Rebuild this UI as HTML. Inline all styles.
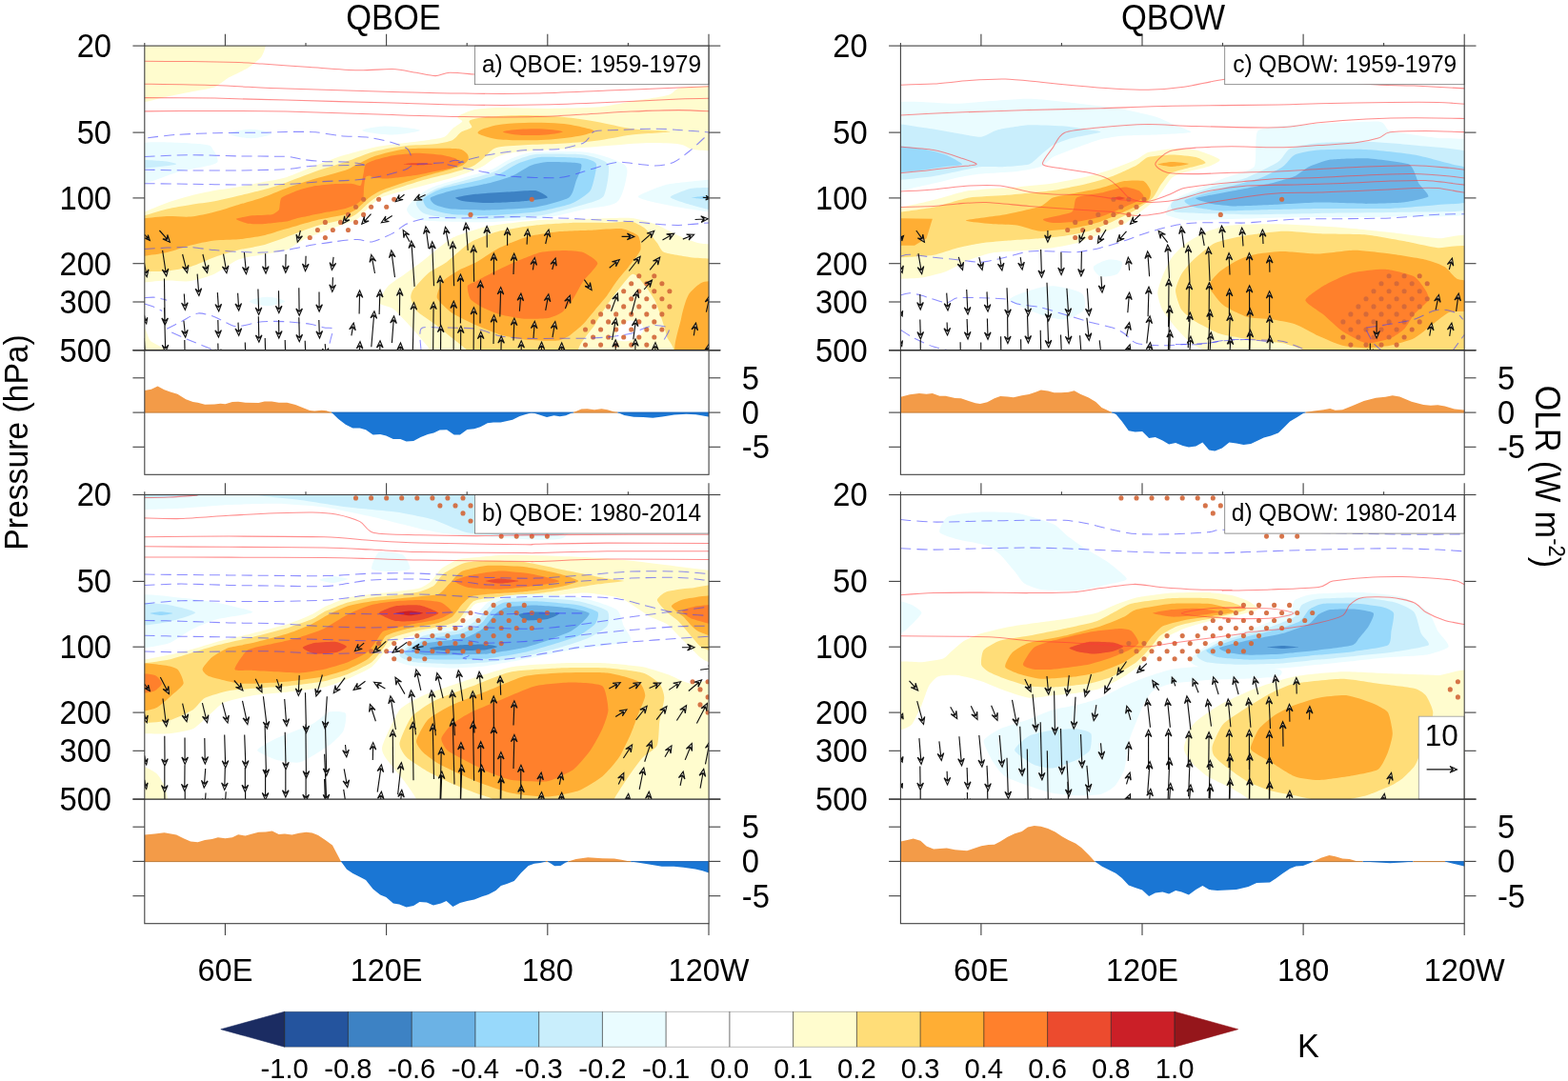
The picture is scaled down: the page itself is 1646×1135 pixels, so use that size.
<!DOCTYPE html>
<html lang="en"><head><meta charset="utf-8"><title>QBOE / QBOW composite</title>
<style>html,body{margin:0;padding:0;background:#fff}svg{display:block}</style></head>
<body>
<svg width="1646" height="1135" viewBox="0 0 1646 1135" font-family='"Liberation Sans", sans-serif' fill="#000">
<rect width="1646" height="1135" fill="#fff"/>
<defs>
<clipPath id="clipa"><rect x="151.8" y="48.1" width="592.3" height="319.6"/></clipPath>
<clipPath id="oclipa"><rect x="151.8" y="367.7" width="592.3" height="130.6"/></clipPath>
<clipPath id="clipb"><rect x="151.8" y="519.5" width="592.3" height="319.6"/></clipPath>
<clipPath id="oclipb"><rect x="151.8" y="839.1" width="592.3" height="130.6"/></clipPath>
<clipPath id="clipc"><rect x="945.4" y="48.1" width="591.8" height="319.6"/></clipPath>
<clipPath id="oclipc"><rect x="945.4" y="367.7" width="591.8" height="130.6"/></clipPath>
<clipPath id="clipd"><rect x="945.4" y="519.5" width="591.8" height="319.6"/></clipPath>
<clipPath id="oclipd"><rect x="945.4" y="839.1" width="591.8" height="130.6"/></clipPath>
</defs>
<g clip-path="url(#clipa)">
<path d="M140.2 37.5C154.1 30.5 265.2 36.5 279.1 37.5C293 38.5 279.6 45.3 279.1 47.6C278.6 49.8 276 57.7 274.1 60.1C272.2 62.5 263.7 69.2 260.3 71.3C256.9 73.5 243.8 79.3 240.3 81.3C236.8 83.4 229.3 89.9 225.3 91.4C221.3 92.9 205.2 95.4 200.2 96.4C195.2 97.4 180.1 100.3 175.2 101.4C170.4 102.4 155.2 106.5 151.7 107.1C148.2 107.8 141.3 114.6 140.2 107.6C139 100.7 126.3 44.6 140.2 37.5Z" fill="#fffcce"/>
<path d="M140.2 152.2C149.8 146.7 201.6 150.7 212.8 151.4C223.9 152.2 222 155.2 224 157.7C226.1 160.2 229.8 167.9 228.3 170.2C226.8 172.5 218.2 173.9 212.8 175.2C207.4 176.5 193.4 178.7 187.7 180.2C182.1 181.7 175 184.8 170.2 186.5C165.4 188.1 155.7 191.9 151.7 192.7C147.7 193.6 141.7 198.1 140.2 192.7C138.6 187.3 130.5 157.7 140.2 152.2Z" fill="#eafcff"/>
<path d="M140.2 168.2C144.2 167.2 164.2 168.4 170.2 169C176.2 169.5 185.2 171.4 185.2 172.2C185.2 173 174.7 174.1 170.2 174.7C165.7 175.3 155.7 176.2 151.7 176.5C147.7 176.7 141.7 177.6 140.2 176.5C138.6 175.4 136.2 169.2 140.2 168.2Z" fill="#c9eefc"/>
<path d="M240.3 140.2C240.3 138.6 255.3 135.7 262.8 135.7C270.3 135.7 285.3 138.6 285.3 140.2C285.3 141.8 270.3 145.2 262.8 145.2C255.3 145.2 240.3 141.8 240.3 140.2Z" fill="#eafcff"/>
<path d="M380.5 137.2C378.8 135.7 393 133.2 400.5 132.7C408 132.1 418.8 133.2 425.5 133.9C432.2 134.7 443 135.9 440.5 137.2C438 138.4 420.5 141.4 410.5 141.4C400.5 141.4 382.1 138.6 380.5 137.2Z" fill="#eafcff"/>
<path d="M140.2 226.5C141.7 216.6 147 224.3 151.7 222.5C156.4 220.7 168.7 215.3 175.2 213C181.7 210.7 193.6 207.2 200.2 205.5C206.9 203.8 218.6 201.2 225.3 200C231.9 198.8 243.6 197.4 250.3 196.2C257 195.1 268.7 192.6 275.3 191.2C282 189.9 292.9 188.5 300.4 186.2C307.8 183.9 323 177 331.3 173.8C339.6 170.7 354.2 165.1 362.6 162.6C370.9 160 385.5 156.1 393.9 154.4C402.2 152.7 417.6 151 425.2 150C432.7 149 444.7 147.7 450.2 146.9C455.7 146.1 463.1 145.4 466.5 143.8C469.8 142.2 472.7 137.2 475.2 135C477.7 132.8 484.5 129.2 485.2 127.5C485.9 125.9 478.9 124.3 480.6 122.6C482.3 121 492.1 116.4 498.1 115.1C504.1 113.9 515.3 113.3 525.6 113.1C536 113 562.3 114 575.7 113.9C589 113.8 614.1 113.6 625.8 112.6C637.4 111.6 653.3 108 663.3 106.4C673.3 104.7 694.2 102 700.9 100.1C707.5 98.3 707.6 93.9 713.4 92.6C719.1 91.3 738.8 90.9 744.2 90.6C749.5 90.3 752.2 81.6 753.4 90.6C754.6 99.6 754.6 149.2 753.4 158.2C752.2 167.2 747.8 158.4 744.2 158.2C740.5 158 730 157.3 725.9 156.4C721.8 155.5 720 152.3 713.4 151.4C706.7 150.6 687.5 149.8 675.8 150.2C664.1 150.5 639.1 153 625.8 153.9C612.4 154.9 587.4 156.4 575.7 157.2C564 158 545.5 159.1 538.2 160.2C530.8 161.3 524.9 163.2 520.6 165.2C516.3 167.2 510.4 172.8 506 175.1C501.6 177.4 493.5 180.6 487.7 182.6C482 184.6 471 187.8 462.7 190.1C454.4 192.4 433.5 197.8 425.2 200.1C416.8 202.4 405.1 205.3 400.1 207.6C395.1 209.9 390.9 214.6 387.6 217.6C384.3 220.6 378.4 227.8 375.1 230.1C371.8 232.5 367.6 233.3 362.6 235.1C357.6 237 343.4 241.7 337.5 243.9C331.7 246.1 323.7 248.9 318.8 251.4C313.8 253.9 306.2 260.4 300.4 262.6C294.6 264.7 282 266.2 275.3 267.6C268.7 268.9 257 269.9 250.3 272.6C243.6 275.3 231.9 284.6 225.3 287.6C218.6 290.6 206.9 294.2 200.2 295.1C193.6 296 181.7 294.4 175.2 294.6C168.7 294.8 156.4 296.1 151.7 296.4C147 296.6 141.7 305.9 140.2 296.6C138.6 287.3 138.6 236.4 140.2 226.5Z" fill="#fffcce"/>
<path d="M140.2 229C141.7 221.2 147 227.5 151.7 226.3C156.4 225 168.7 221 175.2 219.5C181.7 218 193.6 216.1 200.2 215C206.9 213.9 218.6 212.5 225.3 211.3C231.9 210 243.6 207.1 250.3 205.5C257 203.9 268.7 201.3 275.3 199.5C282 197.7 292.9 194.3 300.4 191.7C307.8 189.1 323 183 331.3 180.1C339.6 177.2 354.2 172.9 362.6 170.1C370.9 167.2 385.5 161.1 393.9 158.8C402.2 156.5 416.8 154.2 425.2 153.2C433.5 152.2 449.8 152.1 456.4 151.3C463.1 150.5 471.5 148.6 475.2 146.9C478.9 145.2 481.3 140.5 484 138.8C486.6 137 494 135.4 495.2 133.8C496.5 132.1 490.7 127.9 493.1 126.4C495.5 124.9 505.4 123.4 513.1 122.6C520.8 121.9 540.7 120.9 550.7 120.9C560.7 120.9 578.2 121.7 588.2 122.6C598.2 123.5 615.7 126 625.8 127.7C635.8 129.3 653 133.8 663.3 135.2C673.7 136.6 703.4 137.3 703.4 138.2C703.4 139 673.7 140.2 663.3 141.4C653 142.7 635.8 146.4 625.8 147.7C615.7 148.9 598.2 150.1 588.2 150.7C578.2 151.3 559.7 151.6 550.7 152.2C541.7 152.8 526.6 153.1 520.6 155.2C514.7 157.2 509.4 164.9 506 167.6C502.6 170.2 499.3 173.2 495.2 175.1C491.1 176.9 481.2 179.7 475.2 181.3C469.2 183 456.9 185.7 450.2 187.6C443.5 189.4 431.8 192.9 425.2 195.1C418.5 197.3 405.1 201.5 400.1 203.9C395.1 206.2 390.9 209.9 387.6 212.6C384.3 215.3 378.4 221.5 375.1 223.9C371.8 226.2 368.4 228.3 362.6 230.1C356.7 232 339.6 235.1 331.3 237.6C323 240.2 307.8 246.4 300.4 249.1C292.9 251.7 282 255.8 275.3 257.6C268.7 259.4 257 260.9 250.3 262.6C243.6 264.2 231.9 267.7 225.3 270.1C218.6 272.4 206.9 278.2 200.2 280.1C193.6 282 181.7 283.9 175.2 284.6C168.7 285.3 156.4 285 151.7 285.1C147 285.2 141.7 292.8 140.2 285.3C138.6 277.9 138.6 236.9 140.2 229Z" fill="#ffdd78"/>
<path d="M140.2 231.5C141.7 226.1 147 229.9 151.7 229.3C156.4 228.7 168.7 227.3 175.2 227C181.7 226.8 193.6 228.1 200.2 227.5C206.9 226.9 218.6 224.2 225.3 222.5C231.9 220.9 243.6 217 250.3 215C257 213 268.7 209.8 275.3 207.5C282 205.2 292.9 200.4 300.4 197.7C307.8 195.1 323 190.1 331.3 187.6C339.6 185.1 356.7 180.8 362.6 178.8C368.4 176.8 370.9 174.6 375.1 172.6C379.3 170.6 387.2 165.9 393.9 163.8C400.5 161.7 416.8 157.6 425.2 156.5C433.5 155.5 448.9 155.7 456.4 155.7C464 155.6 477 155.5 481.5 156.3C486 157 488.9 159.8 490.2 161.3C491.6 162.8 492.2 165.9 491.5 167.6C490.8 169.2 488.2 172.3 485.2 173.8C482.2 175.3 473.6 177.5 469 178.8C464.3 180.2 456 182.2 450.2 183.8C444.3 185.5 431.8 189.2 425.2 191.3C418.5 193.5 405.1 197.9 400.1 200.1C395.1 202.3 390.9 205.1 387.6 207.6C384.3 210.1 378.4 216.5 375.1 218.9C371.8 221.2 368.4 223.5 362.6 225.1C356.7 226.8 339.6 229.4 331.3 231.4C323 233.4 307.8 238.1 300.4 240.3C292.9 242.4 282 246.1 275.3 247.6C268.7 249 257 250.6 250.3 251.3C243.6 252 231.9 251.7 225.3 252.6C218.6 253.4 206.9 255.9 200.2 257.6C193.6 259.2 181.7 263.6 175.2 265.1C168.7 266.6 156.4 268.1 151.7 268.8C147 269.5 141.7 275.3 140.2 270.3C138.6 265.4 138.6 237 140.2 231.5Z" fill="#ffae34"/>
<path d="M502.1 138.2C504.2 136.3 512.5 133 520.6 131.4C528.7 129.9 539.4 129.2 550.7 128.9C561.9 128.6 577.8 128.8 588.2 129.7C598.6 130.5 607.4 132.5 613.2 133.9C619.1 135.3 625.3 136.5 623.3 138.2C621.2 139.8 610.7 142.4 600.7 143.9C590.7 145.4 575.7 146.8 563.2 147.2C550.7 147.6 534.8 147.2 525.6 146.4C516.5 145.7 512 144 508.1 142.7C504.2 141.3 500 140 502.1 138.2Z" fill="#ffae34"/>
<path d="M528.1 138.4C528.1 137.4 538.6 136.2 545.7 135.7C552.8 135.2 563.2 135 570.7 135.4C578.2 135.8 590.3 137.2 590.7 138.2C591.1 139.2 580.7 140.8 573.2 141.4C565.7 142 553.2 142.2 545.7 141.7C538.2 141.2 528.1 139.4 528.1 138.4Z" fill="#ff802c"/>
<path d="M247.8 230C248 229.3 259.7 226.9 262.8 226.5C265.9 226.1 282.8 225.8 285.3 225.3C287.8 224.8 292 221.7 292.9 220.3C293.7 218.8 293.7 209.4 295.4 207.8C297 206.1 309.5 201.2 312.5 200.1C315.5 199 328.2 195.7 331.3 195.1C334.4 194.5 346.9 193.4 350.1 193.2C353.2 193 366.5 192.7 368.8 192.8C371.2 193 377.3 195.3 378.2 195.1C379.2 194.9 379.8 191.3 380.1 190.1C380.4 188.8 381.7 181.5 382 180.1C382.3 178.6 382.8 173.6 383.9 172.6C384.9 171.5 392.7 168.3 395.1 167.6C397.5 166.8 409.1 163.8 412.6 163.2C416.2 162.6 433.5 160.7 437.7 160.7C441.8 160.6 459.4 162.1 462.7 162.6C466 163 475.9 165.6 477.7 166.3C479.5 167 484.2 170.5 484 171.3C483.8 172.1 477.5 175.6 475.2 176.3C472.9 177.1 459.6 179.4 456.4 180.1C453.3 180.7 440.8 183.3 437.7 183.8C434.5 184.4 421.5 186 418.9 186.3C416.3 186.6 408.5 187.5 406.4 187.6C404.3 187.6 395.4 187.2 393.9 187C392.3 186.7 388.5 184.5 387.6 184.5C386.8 184.4 384.1 185.2 383.6 186.3C383.1 187.4 382.2 195.8 382 197.6C381.8 199.4 381.9 206.3 381.4 207.6C380.8 209 376.7 212.9 375.1 213.9C373.5 214.8 365.2 218.1 362.6 218.9C360 219.6 346.9 222 343.8 222.6C340.7 223.3 327.6 225.9 325 226.4C322.4 226.9 314.6 228.4 312.5 228.9C310.4 229.4 303.1 232.1 300 232.6C296.9 233.2 278.6 235.1 275.3 235.3C272 235.5 262.6 235.2 260.3 234.8C258 234.3 247.6 230.7 247.8 230Z" fill="#ff802c"/>
<path d="M423.3 172.3C423.3 172.1 430.6 171.3 432.7 171.2C434.7 171.1 441.7 171.2 443.9 171.3C446.2 171.4 455.2 172.1 455.2 172.3C455.2 172.5 446.2 173.2 443.9 173.3C441.7 173.4 434.7 173.4 432.7 173.3C430.6 173.2 423.3 172.5 423.3 172.3Z" fill="#ec4b2e"/>
<path d="M427 220.1C427 217.1 433.4 210.7 437 207.6C440.7 204.4 447.2 199.3 454.6 196.3C461.9 193.3 483.8 187.6 492.1 185C500.4 182.5 511.5 179.9 517.1 177.5C522.8 175.2 529 169.9 534.6 167.5C540.3 165.2 548.7 161 559.7 160C570.7 159 604.6 158.4 617.2 160C629.9 161.7 649.5 168.9 654.8 172.5C660.1 176.2 658.3 182.2 657.3 187.6C656.3 192.9 653.3 208.2 647.3 212.6C641.3 216.9 622.3 217.9 612.2 220.1C602.2 222.3 585.5 227.1 572.2 228.9C558.8 230.6 526.8 232.6 512.1 233.1C497.4 233.6 472.1 233 462.1 232.6C452 232.2 441.7 231.8 437 230.1C432.4 228.4 427 223.1 427 220.1Z" fill="#eafcff"/>
<path d="M437 212.6C438.3 210.1 451.3 201.3 457.1 198.8C462.8 196.3 488.3 189.4 494.6 187.6C500.9 185.7 515.4 181.8 519.6 180C523.9 178.3 532.9 171.8 537.2 170C541.4 168.2 554.7 162.8 562.2 162C569.7 161.3 604.6 161.5 612.2 162.5C619.9 163.6 636.4 168.2 638.5 172.5C640.7 176.9 636.6 201.9 633.5 206.3C630.4 210.7 613.9 214.3 607.2 216.3C600.6 218.3 576.7 225 567.2 226.3C557.7 227.7 521.9 229.9 512.1 230.1C502.4 230.4 476.3 229.5 469.6 228.9C462.8 228.2 447.8 225.5 444.5 223.8C441.3 222.2 435.8 215.1 437 212.6Z" fill="#c9eefc"/>
<path d="M444.5 208.8C445.8 206.8 456.6 200.7 462.1 198.8C467.6 196.9 493.3 191.7 499.6 190.1C505.9 188.4 520.1 184.4 524.6 182.5C529.1 180.7 540.4 173 544.7 171.3C548.9 169.5 560.4 165.5 567.2 165C573.9 164.5 606.4 165.5 612.2 166.3C618.1 167 625.3 169.2 626 172.5C626.8 175.9 622.4 195.9 619.8 200.1C617.1 204.2 605.5 211.6 599.7 213.8C594 216.1 570.9 221.3 562.2 222.6C553.4 223.8 520.9 226.1 512.1 226.3C503.4 226.6 480.8 225.8 474.6 225.1C468.3 224.3 452.5 220.5 449.5 218.8C446.5 217.2 443.3 210.8 444.5 208.8Z" fill="#98d9fb"/>
<path d="M452 207.6C453.8 206.1 468.6 201.6 474.6 200.1C480.6 198.6 505.9 194.1 512.1 192.6C518.4 191.1 532.6 186.9 537.2 185C541.7 183.2 553.4 175.3 557.2 173.8C560.9 172.3 569.4 170.2 574.7 170C580 169.9 606.7 170 609.7 172C612.7 174 606 186.5 604.7 190.1C603.5 193.6 601.5 204.8 597.2 207.6C593 210.3 570.7 216.3 562.2 217.6C553.7 218.9 520.9 220.4 512.1 220.6C503.4 220.8 480.1 220.1 474.6 219.6C469.1 219 459.3 216.3 457.1 215.1C454.8 213.9 450.3 209.1 452 207.6Z" fill="#6bb2e5"/>
<path d="M478.3 207.6C479.6 206.8 493.7 204.4 499.6 203.8C505.5 203.2 530.9 201.7 537.2 201.3C543.4 200.9 558.4 199.4 562.2 200.1C565.9 200.7 575.9 206.5 574.7 207.6C573.4 208.7 555.9 210.8 549.7 211.3C543.4 211.9 518.4 213.1 512.1 213.1C505.9 213.1 490.5 211.9 487.1 211.3C483.7 210.8 477.1 208.3 478.3 207.6Z" fill="#3d82c4"/>
<path d="M669.8 206.3C671.1 204.4 692.4 195.6 699.8 193.8C707.3 192.1 738.9 189.3 744.2 188.8C749.4 188.3 751.6 185.4 752.4 188.8C753.2 192.2 753.2 219.2 752.4 222.6C751.6 226 748.2 223.1 744.2 222.6C740.1 222.1 718 218.6 712.4 217.6C706.7 216.6 691.6 213.7 687.3 212.6C683.1 211.5 668.6 208.2 669.8 206.3Z" fill="#eafcff"/>
<path d="M703.6 207.1C703.6 205.4 720.8 199.1 724.9 198.1C728.9 197.1 741.4 197.2 744.2 197.1C746.9 197 751.6 194.8 752.4 197.1C753.2 199.4 753.2 217.8 752.4 220.1C751.6 222.4 746.9 220.6 744.2 220.1C741.4 219.6 728.9 216.4 724.9 215.1C720.8 213.8 703.6 208.8 703.6 207.1Z" fill="#c9eefc"/>
<path d="M726.1 207.6C726.1 207.2 741.5 205.8 744.2 205.6C746.8 205.4 751.6 205.2 752.4 205.6C753.2 206 753.2 209.2 752.4 209.6C751.6 210 746.8 209.8 744.2 209.6C741.5 209.4 726.1 208 726.1 207.6Z" fill="#98d9fb"/>
<path d="M397.5 317.7C397 315.3 404.7 303.2 407.5 300.2C410.2 297.2 421.4 290.3 425 287.7C428.6 285 438.8 277.7 443.8 273.9C448.7 270.2 467.7 253.8 474.6 250.1C481.4 246.5 503.4 239.5 512.1 237.6C520.9 235.7 552.2 232.1 562.2 231.4C572.2 230.6 602.2 230.4 612.2 230.1C622.3 229.9 654.8 228.4 662.3 228.9C669.8 229.4 682.3 233.2 687.3 235.1C692.3 237 707.9 245.6 712.4 247.6C716.9 249.6 729.2 254.3 732.4 255.1C735.6 256 741.9 256.3 744.2 256.4C746.4 256.5 753.8 244.7 754.9 256.4C756 268 785 361.1 754.9 372.8C724.9 384.4 485 373.5 454.6 372.8C424.1 372 451.7 367.5 450 365.3C448.3 363 440 353.1 437.5 350.3C435 347.4 427.5 339.1 425 336.5C422.5 333.9 415.3 325.8 412.5 324C409.7 322.1 398 320.1 397.5 317.7Z" fill="#fffcce"/>
<path d="M431.3 312.7C430.9 310.5 431.9 306.6 433.8 303.9C435.7 301.3 446.5 289.3 450 286.4C453.6 283.5 464.4 278.4 468.8 275.2C473.3 271.9 489 257.1 494.6 253.9C500.2 250.6 517.9 244.4 524.6 242.6C531.4 240.9 554.7 237.2 562.2 236.4C569.7 235.5 592.2 234.1 599.7 233.9C607.2 233.6 631 234 637.3 233.9C643.5 233.7 658.3 232 662.3 232.6C666.3 233.2 674.6 237.9 677.3 240.1C680.1 242.4 687.8 252.6 689.8 255.1C691.8 257.6 693.8 263.6 697.3 265.1C700.9 266.6 720.2 269.5 724.9 270.2C729.6 270.8 741.1 271.3 744.2 271.4C747.2 271.5 753.8 261.3 754.9 271.4C756 281.5 781.2 362.6 754.9 372.8C728.6 382.9 518.6 373.3 492.1 372.8C465.6 372.3 491.8 369.3 490.1 367.5C488.4 365.8 478.5 358 475.1 355.3C471.7 352.5 460.1 343.1 456.3 340.2C452.5 337.4 440 329.2 437.5 326.5C435 323.7 431.6 315 431.3 312.7Z" fill="#ffdd78"/>
<path d="M458.8 312.7C457.8 309.3 462.8 298.1 465.1 295.2C467.3 292.3 477.8 285.9 481.3 283.9C484.8 281.9 495.8 277.5 500.1 275.2C504.4 272.8 519.4 262.8 524.6 260.1C529.8 257.5 545.9 250.6 552.2 248.9C558.4 247.2 580 243.9 587.2 243.1C594.5 242.4 618.3 241.7 624.8 241.4C631.3 241.1 647.8 239.5 652.3 240.1C656.8 240.7 667.8 245.4 669.8 247.6C671.8 249.9 673.3 259.4 672.3 262.6C671.3 265.9 662.3 276.9 659.8 280.2C657.3 283.4 649.5 292.2 647.3 295.2C645 298.2 639.5 307.2 637.3 310.2C635 313.2 627.3 322.2 624.8 325.2C622.3 328.2 615 337.5 612.2 340.2C609.5 343 599.7 351.1 597.2 352.8C594.7 354.5 589.4 356.8 587.2 357.3C585 357.8 578.9 357.8 575.2 357.8C571.5 357.7 555.2 357.1 550.2 356.5C545.2 355.9 530.1 353 525.1 351.5C520.1 350 505.1 343.7 500.1 341.5C495.1 339.2 479.2 331.9 475.1 329C470.9 326.1 459.8 316.1 458.8 312.7Z" fill="#ffae34"/>
<path d="M490.8 300.2C491.5 298.3 497.3 296.7 500.1 295.2C502.9 293.7 515.1 287 518.9 285.2C522.6 283.3 532.8 278.4 537.7 276.4C542.5 274.4 561.7 266.5 567.2 265.1C572.6 263.8 587.7 263.1 592.2 263.1C596.7 263.1 608.7 263.8 612.2 265.1C615.7 266.5 627.3 273.4 627.3 276.4C627.3 279.4 614.7 291.6 612.2 295.2C609.7 298.8 604.4 309.5 602.2 312.7C600 316 592.9 325.6 590.2 327.7C587.5 329.9 579.2 333.3 575.2 334C571.2 334.7 555.2 335.1 550.2 334.7C545.2 334.4 529.5 331.4 525.1 330.2C520.8 329 509.5 324.3 506.4 322.7C503.2 321.1 495.4 316.2 493.8 314C492.3 311.7 490.2 302.1 490.8 300.2Z" fill="#ff802c"/>
<path d="M609.7 372.8C599.4 368.4 621.1 347.2 624.8 340.2C628.4 333.2 633.6 325.6 637.3 320.2C640.9 314.9 648.6 304.5 652.3 300.2C656 295.9 661.5 287.7 664.8 287.7C668.1 287.7 674.3 296.5 677.3 300.2C680.3 303.9 685 310.5 687.3 315.2C689.7 319.9 693.2 330.2 694.8 335.2C696.5 340.2 698.8 347.7 699.8 352.8C700.9 357.8 714.4 370.1 702.4 372.8C690.3 375.4 620.1 377.1 609.7 372.8Z" fill="#fffcce"/>
<path d="M646 355.8C645 353.8 648 345.8 649.8 343.2C651.6 340.7 656.8 337.3 659.8 336.7C662.8 336.2 670.2 337.5 672.3 339C674.4 340.5 676 345.6 675.3 347.7C674.7 349.9 669.7 353.9 667.3 355.3C664.9 356.7 660.1 358.2 657.3 358.3C654.5 358.3 647 357.8 646 355.8Z" fill="#fff"/>
<path d="M709.9 372.8C704.5 367.8 713.2 343.6 714.9 335.2C716.5 326.9 719.7 315.2 722.4 310.2C725 305.2 732 299.7 734.9 297.7C737.8 295.7 741.5 295.5 744.2 295.2C746.8 294.8 753.5 284.8 754.9 295.2C756.4 305.5 760.9 362.4 754.9 372.8C748.9 383.1 715.2 377.8 709.9 372.8Z" fill="#ffae34"/>
<path d="M140.2 344C141.3 341.1 149.9 342.6 151.7 344C153.4 345.4 155.6 355.5 157.7 357.8C159.8 360 171.2 365 172.7 366.5C174.2 368 176 372.2 172.7 372.8C169.5 373.4 143.4 375.7 140.2 372.8C136.9 369.9 139 346.9 140.2 344Z" fill="#fffcce"/>
<path d="M261.6 316.5C261.6 314.9 274.1 311.7 280.3 311.7C286.6 311.7 299.1 314.9 299.1 316.5C299.1 318 286.6 321.2 280.3 321.2C274.1 321.2 261.6 318 261.6 316.5Z" fill="#eafcff"/>
<g fill="#d2683b" fill-opacity="0.92"><circle cx="325.3" cy="249.5" r="2.55"/><circle cx="341.4" cy="249.5" r="2.55"/><circle cx="333.4" cy="241.5" r="2.55"/><circle cx="349.4" cy="241.5" r="2.55"/><circle cx="365.5" cy="241.5" r="2.55"/><circle cx="341.4" cy="233.4" r="2.55"/><circle cx="357.5" cy="233.4" r="2.55"/><circle cx="373.5" cy="233.4" r="2.55"/><circle cx="365.5" cy="225.4" r="2.55"/><circle cx="381.6" cy="225.4" r="2.55"/><circle cx="373.5" cy="217.3" r="2.55"/><circle cx="389.6" cy="217.3" r="2.55"/><circle cx="405.7" cy="217.3" r="2.55"/><circle cx="381.6" cy="209.3" r="2.55"/><circle cx="397.6" cy="209.3" r="2.55"/><circle cx="413.7" cy="209.3" r="2.55"/><circle cx="558.3" cy="209.3" r="2.55"/><circle cx="494" cy="225.4" r="2.55"/><circle cx="670.8" cy="289.7" r="2.55"/><circle cx="686.8" cy="289.7" r="2.55"/><circle cx="662.7" cy="297.7" r="2.55"/><circle cx="678.8" cy="297.7" r="2.55"/><circle cx="694.9" cy="297.7" r="2.55"/><circle cx="654.7" cy="305.8" r="2.55"/><circle cx="670.8" cy="305.8" r="2.55"/><circle cx="686.8" cy="305.8" r="2.55"/><circle cx="702.9" cy="305.8" r="2.55"/><circle cx="662.7" cy="313.8" r="2.55"/><circle cx="678.8" cy="313.8" r="2.55"/><circle cx="694.9" cy="313.8" r="2.55"/><circle cx="638.6" cy="321.9" r="2.55"/><circle cx="654.7" cy="321.9" r="2.55"/><circle cx="670.8" cy="321.9" r="2.55"/><circle cx="686.8" cy="321.9" r="2.55"/><circle cx="702.9" cy="321.9" r="2.55"/><circle cx="630.6" cy="329.9" r="2.55"/><circle cx="646.7" cy="329.9" r="2.55"/><circle cx="662.7" cy="329.9" r="2.55"/><circle cx="678.8" cy="329.9" r="2.55"/><circle cx="694.9" cy="329.9" r="2.55"/><circle cx="622.6" cy="337.9" r="2.55"/><circle cx="638.6" cy="337.9" r="2.55"/><circle cx="654.7" cy="337.9" r="2.55"/><circle cx="670.8" cy="337.9" r="2.55"/><circle cx="686.8" cy="337.9" r="2.55"/><circle cx="614.5" cy="346" r="2.55"/><circle cx="630.6" cy="346" r="2.55"/><circle cx="646.7" cy="346" r="2.55"/><circle cx="662.7" cy="346" r="2.55"/><circle cx="678.8" cy="346" r="2.55"/><circle cx="694.9" cy="346" r="2.55"/><circle cx="622.6" cy="354" r="2.55"/><circle cx="638.6" cy="354" r="2.55"/><circle cx="654.7" cy="354" r="2.55"/><circle cx="670.8" cy="354" r="2.55"/><circle cx="686.8" cy="354" r="2.55"/><circle cx="614.5" cy="362.1" r="2.55"/><circle cx="630.6" cy="362.1" r="2.55"/><circle cx="646.7" cy="362.1" r="2.55"/><circle cx="662.7" cy="362.1" r="2.55"/><circle cx="678.8" cy="362.1" r="2.55"/></g>
<path d="M145.2 64.3C152.5 64.4 186.2 64.4 200.2 64.6C214.3 64.7 240.3 65.2 250.3 65.6C260.3 65.9 265.3 66.4 275.3 67.1C285.3 67.7 312 69.7 325.4 70.6C338.7 71.5 363.9 73.6 375.5 73.8C387 74.1 403.8 72.3 412 72.6C420.2 72.9 431 75.4 437 76.3C443 77.3 452.4 79.6 457.1 79.6C461.7 79.6 466.6 76.5 472.1 76.3C477.6 76.1 494.9 77.9 498.4 78.1" fill="none" stroke="#ff3a3a" stroke-width="1.05" stroke-opacity="0.58"/>
<path d="M145.2 88.1C155.9 88.3 204.6 88.9 225.3 89.6C246 90.3 275.5 92.2 300.4 93.1C325.3 94 387.1 95.7 412 96.4C436.9 97 467.1 97.9 487.1 98.1C507.1 98.4 542.2 98.5 562.2 98.1C582.2 97.7 617.2 95.9 637.3 95.1C657.3 94.3 697.3 92.7 712.4 92.1C727.4 91.5 744.9 90.8 749.9 90.6" fill="none" stroke="#ff3a3a" stroke-width="1.05" stroke-opacity="0.58"/>
<path d="M145.2 102.6C155.9 102.7 204.6 102.8 225.3 103.1C246 103.5 275.5 104.5 300.4 105.1C325.3 105.8 387.1 107.5 412 108.1C436.9 108.8 467.1 109.9 487.1 110.1C507.1 110.4 542.2 110.5 562.2 110.1C582.2 109.8 617.2 108.5 637.3 107.6C657.3 106.8 697.3 104.5 712.4 103.9C727.4 103.3 744.9 103.2 749.9 103.1" fill="none" stroke="#ff3a3a" stroke-width="1.05" stroke-opacity="0.58"/>
<path d="M145.2 116.9C155.9 116.8 204.6 116.4 225.3 116.4C246 116.4 275.5 116.6 300.4 117.1C325.3 117.7 387.1 119.9 412 120.6C436.9 121.4 467.1 122.4 487.1 122.6C507.1 122.9 545.5 123 562.2 122.6C578.9 122.3 598.9 120.9 612.2 120.1C625.6 119.4 649 117.7 662.3 117.1C675.7 116.5 700.7 115.6 712.4 115.6C724 115.6 744.9 116.9 749.9 117.1" fill="none" stroke="#ff3a3a" stroke-width="1.05" stroke-opacity="0.58"/>
<path d="M155.2 144.7C159.2 144.2 175.9 142.1 185.2 141.4C194.6 140.8 213.3 140 225.3 139.7C237.3 139.4 265.3 139.3 275.3 139.2C285.3 139 292.9 138.5 300.4 138.4C307.8 138.4 323.8 138.2 331.3 138.8C338.7 139.3 348.8 141.8 356.3 142.5C363.8 143.3 380.1 143.4 387.6 144.4C395.1 145.4 407.3 148.5 412.6 150C418 151.6 425 154 427.7 156.3C430.3 158.5 432 165.5 432.7 166.9" fill="none" stroke="#4040ff" stroke-width="1.05" stroke-dasharray="11 6" stroke-opacity="0.6"/>
<path d="M151.7 164.4C158.2 164.2 187.1 162.8 200.2 162.7C213.4 162.6 237 163.7 250.3 163.9C263.7 164.2 291.2 164 300.4 164.4C309.5 164.9 313.8 166.9 318.8 167.6C323.7 168.2 331.7 169.1 337.5 169.4C343.4 169.8 357.6 169.8 362.6 170.1C367.6 170.3 372.4 170.9 375.1 171.3C377.8 171.7 381.6 172.9 382.6 173.2" fill="none" stroke="#4040ff" stroke-width="1.05" stroke-dasharray="11 6" stroke-opacity="0.6"/>
<path d="M151.7 178.2C158.2 178.3 187.1 178.9 200.2 179C213.4 179.1 237 179.1 250.3 179C263.7 178.8 290.4 178.3 300.4 177.7C310.3 177.1 318.4 175 325 174.4C331.7 173.9 342.4 174 350.1 173.8C357.7 173.7 378.3 173.3 382.6 173.2" fill="none" stroke="#4040ff" stroke-width="1.05" stroke-dasharray="11 6" stroke-opacity="0.6"/>
<path d="M151.7 192.7C158.2 192.8 187.1 193.1 200.2 193.2C213.4 193.4 237 194 250.3 194C263.7 194 288.7 193.9 300.4 193.5C312 193 327.6 191.3 337.5 190.7C347.5 190.1 366.8 189.6 375.1 188.8C383.4 188.1 393.5 186.5 400.1 185.1C406.8 183.7 420.3 179.9 425.2 178.2C430 176.5 430.7 173.6 436.4 172.6C442.1 171.6 462.2 171.3 467.7 170.7C473.2 170.1 475.1 168.3 477.7 168.2C480.4 168.1 487.2 169.8 487.7 170.1C488.3 170.3 478.8 171.2 482.1 170.2C485.3 169.2 503.1 164.4 512.1 162.7C521.1 161 539.7 158.5 549.7 157.7C559.7 156.9 578.9 157.4 587.2 156.4C595.6 155.4 607.9 152 612.2 150.2C616.6 148.3 618.1 144.3 619.8 142.7C621.4 141 620.8 138.5 624.8 137.7C628.8 136.8 641.4 136.7 649.8 136.4C658.1 136.1 679 135.2 687.3 135.2C695.7 135.2 704.8 135.9 712.4 136.4C719.9 136.9 739.9 138.6 744.2 138.9" fill="none" stroke="#4040ff" stroke-width="1.05" stroke-dasharray="11 6" stroke-opacity="0.6"/>
<path d="M469.6 172.7C473.6 173.5 490.6 177.3 499.6 179C508.6 180.6 525.5 184.2 537.2 185.2C548.8 186.2 577.2 187.1 587.2 186.5C597.2 185.8 605.6 182.1 612.2 180.2C618.9 178.4 631.9 174 637.3 172.7C642.6 171.4 645.6 170 652.3 170.2C659 170.4 680 174 687.3 174C694.7 174 702.4 172.4 707.4 170.2C712.4 168 720 161.7 724.9 157.7C729.8 153.7 741.6 142.5 744.2 140.2" fill="none" stroke="#4040ff" stroke-width="1.05" stroke-dasharray="11 6" stroke-opacity="0.6"/>
<path d="M151.7 261.4C154.8 261.2 168.7 260.4 175.2 260.1C181.7 259.9 193.6 259.3 200.2 259.6C206.9 260 218.6 262 225.3 262.6C231.9 263.3 243.6 264.1 250.3 264.4C257 264.7 268.7 265.4 275.3 265.1C282 264.9 293.7 263.6 300.4 262.6C307 261.6 318.7 258.8 325.4 257.6C332.1 256.5 343.8 254.7 350.4 253.9C357.1 253 370.1 251.4 375.5 251.4C380.8 251.4 385.6 254.7 390.5 253.9C395.3 253 407.1 247.6 412 245.1C416.9 242.6 422 237.3 427 235.1C432 232.9 441.5 229.7 449.5 228.9C457.6 228 475.4 229 487.1 228.9C498.8 228.7 523.8 227.6 537.2 227.6C550.5 227.6 573.9 228.4 587.2 228.9C600.6 229.4 627.3 230.9 637.3 231.4C647.3 231.9 655.6 232.1 662.3 232.6C669 233.1 680.7 234.6 687.3 235.1C694 235.6 704.8 236.5 712.4 236.4C719.9 236.2 739.9 234.2 744.2 233.9" fill="none" stroke="#4040ff" stroke-width="1.05" stroke-dasharray="11 6" stroke-opacity="0.6"/>
<path d="M151.7 312.7C153.2 312.6 159.6 311.9 162.7 312.2C165.8 312.5 173.5 314.8 175.2 315.2" fill="none" stroke="#4040ff" stroke-width="1.05" stroke-dasharray="11 6" stroke-opacity="0.6"/>
<path d="M151.7 319C153.2 319.5 160.2 321.7 162.7 322.7C165.2 323.7 169.2 326 170.2 326.5" fill="none" stroke="#4040ff" stroke-width="1.05" stroke-dasharray="11 6" stroke-opacity="0.6"/>
<path d="M175.2 345.2C177.2 344.2 185.9 339.9 190.2 337.7C194.6 335.6 203.1 329.6 207.8 329C212.4 328.3 220.9 331.2 225.3 332.7C229.6 334.2 237 338.9 240.3 340.2C243.6 341.6 245.6 343.1 250.3 342.7C255 342.4 268.7 338.4 275.3 337.7C282 337.1 293.7 337.4 300.4 337.7C307 338.1 320.1 339.4 325.4 340.2C330.7 341.1 337.2 343.3 340.4 344C343.6 344.7 348.3 343.4 349.2 345.2C350 347.1 347.3 354.8 346.7 357.8C346 360.8 344.5 366.4 344.2 367.8" fill="none" stroke="#4040ff" stroke-width="1.05" stroke-dasharray="11 6" stroke-opacity="0.6"/>
<path d="M180.2 349C182.9 350.2 194.2 355.3 200.2 357.8C206.3 360.3 221.9 366.4 225.3 367.8" fill="none" stroke="#4040ff" stroke-width="1.05" stroke-dasharray="11 6" stroke-opacity="0.6"/>
<path d="M442 367.8C442 364.8 439.4 348.4 442 345.2C444.7 342.1 454.4 344 462.1 344C469.7 344 491.3 344.1 499.6 345.2C507.9 346.4 518 351.4 524.6 352.8C531.3 354.1 541.3 354.9 549.7 355.3C558 355.6 578.9 355.3 587.2 355.3C595.6 355.3 605.6 355.4 612.2 355.3C618.9 355.1 630.6 354.7 637.3 354C643.9 353.3 657.3 351.4 662.3 350.3C667.3 349.1 671.5 346.4 674.8 345.2C678.2 344.1 683.7 341.5 687.3 341.5C691 341.5 701.4 342.7 702.4 345.2C703.4 347.7 695.8 358.3 694.8 360.3" fill="none" stroke="#4040ff" stroke-width="1.05" stroke-dasharray="11 6" stroke-opacity="0.6"/>
<path d="M151.3 245.8L155.3 250.2M157.3 252.4L151.8 250L155.3 250.2L155.4 246.6ZM167.4 242L175.6 251.2M178.3 254.2L170.9 250.9L175.6 251.2L175.8 246.5ZM315.4 242L313.3 250.3M312.3 254.2L311 246.2L313.3 250.3L317.4 247.8ZM367.6 224.7L362.2 231.5M359.8 234.7L361.7 226.8L362.2 231.5L366.9 230.9ZM389.5 224.7L382.5 232.3M379.8 235.2L382.4 227.5L382.5 232.3L387.2 232ZM411.7 226.5L403.8 231.6M400.4 233.8L404.9 227L403.8 231.6L408.4 232.5ZM424.5 204.2L418.4 209.1M415.4 211.5L419 204.5L418.4 209.1L423.1 209.5ZM446.6 204.6L438.7 208.3M435.1 210.1L440.3 203.9L438.7 208.3L443.2 209.9ZM151.3 275.7L153.5 286.7M154.2 290.7L149.6 284L153.5 286.7L156 282.8ZM170.6 262.9L174.1 286M174.7 289.9L170.3 283.1L174.1 286L176.8 282.1ZM191.6 267L195.5 282.4M196.5 286.3L191.5 279.9L195.5 282.4L197.9 278.3ZM212.9 267L216.6 282.4M217.5 286.3L212.6 279.8L216.6 282.4L219 278.3ZM234.5 266.6L237.3 282.7M237.9 286.7L233.4 279.9L237.3 282.7L239.9 278.8ZM256.4 265.1L258.2 283.6M258.5 287.6L254.5 280.5L258.2 283.6L261.1 279.9ZM278.6 266.2L278.9 283M279 287L275.5 279.7L278.9 283L282.1 279.6ZM300.1 267L299.8 282.3M299.8 286.3L296.6 278.8L299.8 282.3L303.2 279ZM321.1 268.8L320.7 280.5M320.5 284.5L317.5 277L320.7 280.5L324.1 277.2ZM350.1 269.9L348.9 279.4M348.4 283.4L346.1 275.6L348.9 279.4L352.6 276.4ZM393.5 287L390.6 271.4M389.8 267.5L394.5 274.2L390.6 271.4L388 275.4ZM414.5 291.2L411.3 266.9M410.8 262.9L415 269.9L411.3 266.9L408.5 270.7ZM435.1 300.9L432.1 256.9M431.8 252.9L435.6 260.1L432.1 256.9L429 260.5ZM430 253.8L425.2 245.1M423.2 241.6L429.7 246.5L425.2 245.1L423.9 249.7ZM207.1 287.6L208.6 306.4M208.9 310.4L205.1 303.3L208.6 306.4L211.6 302.7ZM349.4 291.2L349 302.4M348.8 306.4L345.8 298.8L349 302.4L352.4 299.1ZM172.5 292.5L173.1 337.4M173.2 341.4L169.8 334L173.1 337.4L176.4 333.9ZM193.3 308.5L194.1 321.3M194.3 325.3L190.6 318.1L194.1 321.3L197.2 317.7ZM228.3 307.1L229.4 322.8M229.7 326.8L225.9 319.6L229.4 322.8L232.5 319.2ZM249.6 307.8L250.5 322.1M250.7 326L247 318.9L250.5 322.1L253.5 318.5ZM270.9 303.4L271.6 326.4M271.7 330.4L268.2 323.1L271.6 326.4L274.8 322.9ZM292.5 305.3L292.8 324.6M292.8 328.6L289.4 321.3L292.8 324.6L296 321.2ZM313.8 302.3L314.1 327.3M314.2 331.3L310.8 324L314.1 327.3L317.4 323.9ZM335 306.4L335.1 323.1M335.1 327.1L331.8 319.8L335.1 323.1L338.4 319.7ZM377.1 329.5L377.5 308.9M377.6 304.9L380.8 312.4L377.5 308.9L374.2 312.2ZM398.1 330.1L398.8 308.5M399 304.5L402 312L398.8 308.5L395.4 311.8ZM419.4 331.3L419.7 307.1M419.8 303.1L423 310.5L419.7 307.1L416.4 310.4ZM151.3 330.4L152.9 336.7M153.7 339.9L149.6 334.7L152.9 336.7L154.8 333.4ZM172.5 323.1L173.6 365.6M173.7 369.6L170.2 362.3L173.6 365.6L176.8 362.1ZM192.9 336.8L194.3 350.2M194.7 354.1L190.7 347.1L194.3 350.2L197.2 346.4ZM228.8 335.9L229.2 350.1M229.4 354.1L225.8 346.8L229.2 350.1L232.4 346.6ZM250 338.6L250.5 348.3M250.7 352.3L247 345.1L250.5 348.3L253.6 344.7ZM271.3 332.2L271.8 355.2M271.9 359.2L268.4 351.9L271.8 355.2L275 351.8ZM292.6 335.9L292.8 351M292.8 355L289.5 347.7L292.8 351L296.1 347.6ZM313.8 333.2L314.3 354.7M314.3 358.7L310.9 351.4L314.3 354.7L317.5 351.2ZM334.8 335.9L335.3 351M335.5 355L331.9 347.8L335.3 351L338.5 347.5ZM368.9 352.3L370.5 343.1M371.2 339.2L373.2 347L370.5 343.1L366.7 345.9ZM389.8 364.2L392.6 330.8M392.9 326.8L395.6 334.4L392.6 330.8L389 333.9ZM411.4 360L413.2 335.9M413.6 331.9L416.3 339.5L413.2 335.9L409.7 339ZM433.3 369.6L434.4 321.7M434.5 317.7L437.6 325.1L434.4 321.7L431 325ZM151.3 355L152.5 373.9M152.8 377.8L149 370.7L152.5 373.9L155.6 370.2ZM193.8 356.9L194.1 373.8M194.2 377.8L190.7 370.5L194.1 373.8L197.3 370.4ZM228.8 360.5L229.1 370.2M229.2 374.2L225.7 366.9L229.1 370.2L232.3 366.7ZM257.3 359.6L257.7 371.1M257.8 375.1L254.3 367.8L257.7 371.1L260.8 367.6ZM278.2 355L278.8 375.7M279 379.7L275.4 372.4L278.8 375.7L282 372.2ZM299.2 356.9L299.7 373.8M299.8 377.8L296.3 370.5L299.7 373.8L302.9 370.4ZM320.2 357.8L320.8 372.9M320.9 376.9L317.3 369.7L320.8 372.9L323.9 369.4ZM341.2 361.1L342 369.3M342.4 373.3L338.4 366.3L342 369.3L344.9 365.6ZM377.1 376L377.8 362.7M378 358.7L380.9 366.3L377.8 362.7L374.3 365.9ZM398.6 376.4L398.9 361.8M399 357.8L402.1 365.2L398.9 361.8L395.5 365.1ZM419.9 374.2L420.3 364M420.5 360L423.5 367.5L420.3 364L416.9 367.2ZM450 260.8L447.4 241.7M446.9 237.8L451.2 244.7L447.4 241.7L444.6 245.6ZM471.2 258.4L468.2 242.3M467.5 238.3L472.1 245L468.2 242.3L465.6 246.2ZM491.2 262.9L489.3 238.1M489 234.1L492.9 241.3L489.3 238.1L486.3 241.8ZM511.3 259.7L511.1 241.4M511.1 237.4L514.5 244.8L511.1 241.4L507.9 244.8ZM532.6 257.8L532.6 243.6M532.6 239.6L535.9 247L532.6 243.6L529.3 247ZM553.1 256.6L553.7 244.7M554 240.7L556.8 248.3L553.7 244.7L550.2 247.9ZM572.7 256L575.2 245M576 241.1L577.7 249L575.2 245L571.2 247.6ZM652.6 248.4L661.8 248.4M665.8 248.4L658.4 251.7L661.8 248.4L658.4 245.1ZM673.4 254.4L683.7 245.2M686.7 242.5L683.4 249.9L683.7 245.2L679 245ZM695.5 252L704.2 247M707.7 245.1L702.9 251.6L704.2 247L699.6 245.9ZM716.8 251.1L725 247.7M728.7 246.2L723.1 252.1L725 247.7L720.6 246ZM729.6 230.5L739.3 230M743.3 229.8L736.1 233.4L739.3 230L735.7 226.9ZM737.8 207.3L743.2 207.9M746 208.2L740.7 209.9L743.2 207.9L741.2 205.4ZM455.5 300.3L453.8 257.8M453.7 253.8L457.2 261.1L453.8 257.8L450.7 261.4ZM476.6 300.3L475.3 257.8M475.2 253.8L478.7 261.1L475.3 257.8L472.1 261.3ZM497.6 295.8L497.1 261.8M497.1 257.8L500.5 265.2L497.1 261.8L493.9 265.3ZM518.4 288.5L518.4 270.2M518.4 266.2L521.7 273.6L518.4 270.2L515.1 273.6ZM539 287.9L539.6 270.2M539.7 266.2L542.8 273.7L539.6 270.2L536.2 273.5ZM559.4 283.4L560.7 274.6M561.3 270.6L563.5 278.4L560.7 274.6L556.9 277.5ZM579.7 283L582 275M583.1 271.2L584.2 279.2L582 275L577.9 277.3ZM639.7 281.2L647.1 275.1M650.3 272.6L646.6 279.8L647.1 275.1L642.4 274.7ZM660.3 284.5L669.7 272.5M672.1 269.3L670.2 277.2L669.7 272.5L665 273.1ZM682.2 283.4L690.2 273.4M692.7 270.2L690.7 278.1L690.2 273.4L685.5 273.9ZM462.4 341.4L462.1 293.8M462 289.8L465.4 297.1L462.1 293.8L458.8 297.2ZM483.4 339.5L483.4 292.1M483.4 288.1L486.7 295.5L483.4 292.1L480.1 295.5ZM504 339.5L504.3 298.9M504.4 294.9L507.6 302.3L504.3 298.9L501 302.2ZM524.8 332.6L525.6 305.6M525.7 301.6L528.8 309.1L525.6 305.6L522.2 308.9ZM545.4 326.8L546.5 312.2M546.9 308.2L549.6 315.8L546.5 312.2L543 315.3ZM572.7 325.9L575.1 312.8M575.8 308.9L577.8 316.8L575.1 312.8L571.3 315.6ZM593.4 324L596.9 314.1M598.3 310.4L598.9 318.4L596.9 314.1L592.7 316.2ZM613.4 293.6L618.8 301.3M621.1 304.5L614.1 300.4L618.8 301.3L619.5 296.6ZM676.2 304L682 297M684.5 294L682.3 301.7L682 297L677.3 297.5ZM641.5 326.8L647 311.9M648.4 308.2L648.9 316.3L647 311.9L642.8 314ZM662.7 330.4L668.4 308.8M669.4 304.9L670.7 312.9L668.4 308.8L664.3 311.2ZM454.6 372.4L455.1 321.3M455.1 317.3L458.3 324.7L455.1 321.3L451.7 324.7ZM476.1 372.4L476.3 320.2M476.3 316.2L479.5 323.6L476.3 320.2L472.9 323.6ZM497.1 370.5L497.4 326.8M497.4 322.8L500.7 330.2L497.4 326.8L494.1 330.1ZM518 361.1L518.5 335M518.6 331L521.7 338.4L518.5 335L515.1 338.3ZM539 357.4L539.8 338.1M539.9 334.1L542.9 341.6L539.8 338.1L536.3 341.3ZM560 355L561 341.3M561.3 337.4L564 345L561 341.3L557.4 344.5ZM580 354.1L582.1 341.7M582.8 337.7L584.8 345.6L582.1 341.7L578.3 344.5ZM642.6 356.9L645.9 338M646.6 334.1L648.6 341.9L645.9 338L642.1 340.8ZM664.8 356.3L667.1 339M667.6 335L669.9 342.7L667.1 339L663.4 341.9ZM728.3 352.3L729.8 343.1M730.5 339.2L732.5 347L729.8 343.1L726 345.9ZM741.4 327.7L744.3 314.3M745.1 310.4L746.8 318.3L744.3 314.3L740.3 316.9ZM462.4 392.4L462.7 345.4M462.8 341.4L466 348.8L462.7 345.4L459.4 348.7ZM483.4 391.5L483.7 346.3M483.8 342.3L487 349.7L483.7 346.3L480.4 349.7ZM504.4 386L504.7 352.3M504.7 348.3L508 355.7L504.7 352.3L501.4 355.7ZM525.7 381.5L526.2 356.9M526.2 352.9L529.4 360.3L526.2 356.9L522.8 360.2ZM547.2 376.9L547.2 361.8M547.2 357.8L550.5 365.2L547.2 361.8L543.9 365.2ZM568.2 375.1L568.5 363.2M568.6 359.2L571.7 366.7L568.5 363.2L565.1 366.6ZM589.5 374.6L589.7 364M589.7 360L592.9 367.4L589.7 364L586.3 367.3ZM646.2 377.8L646.2 360.9M646.2 356.9L649.5 364.3L646.2 360.9L642.9 364.3ZM666.7 378.8L667 360M667 356L670.2 363.4L667 360L663.6 363.3ZM687.6 375.1L687.9 363.6M688 359.6L691.1 367.1L687.9 363.6L684.5 366.9ZM741.8 373.3L743.4 365.4M744.2 361.4L746 369.3L743.4 365.4L739.5 368Z" fill="#fff" fill-opacity="0.55" stroke="#111" stroke-width="1.15" stroke-linejoin="miter"/>
</g>
<g clip-path="url(#oclipa)">
<clipPath id="oc199p"><rect x="151.8" y="353.1" width="592.3" height="80"/></clipPath>
<clipPath id="oc199n"><rect x="151.8" y="433.1" width="592.3" height="80"/></clipPath>
<path d="M151.8 433.1 L151.8 410 L158.8 408.8 L165.5 405.5 L172.5 409.3 L178.8 411.6 L186.3 413.8 L195.1 419.3 L202.6 422.1 L207.6 422.8 L215.1 424.8 L225.1 424.6 L231.4 423.8 L236.4 424.3 L243.9 422.1 L250.1 421.8 L257.6 422.8 L271.4 423.1 L277.7 421.6 L285.2 421.6 L292.7 422.8 L301.4 422.8 L310.2 425.1 L317.7 428.1 L325.2 431.1 L330.2 431.6 L337.7 430.8 L342.7 431.3 L346.5 432.8 L347.8 432.8 L355.3 440.1 L362.8 445.8 L370.3 449.6 L377.8 449.6 L384 451.3 L391.6 456.4 L399.1 455.9 L405.3 457.6 L412.8 460.9 L420.3 461.1 L426.6 463.6 L434.1 463.1 L441.6 458.9 L449.1 455.9 L455.4 454.6 L461.6 451.6 L469.1 451.3 L476.7 456.4 L482.9 456.4 L490.4 451.1 L497.9 450.3 L504.2 448.3 L511.7 444.3 L518 443.6 L525.5 443.6 L538 440.8 L545.5 437.1 L552 435.1 L557.7 433.6 L561.4 434.1 L567.7 436.1 L574 438.1 L581.5 436.3 L587.7 437.3 L594 436.3 L600.2 433.6 L602.7 432.8 L610.3 429.6 L616.5 429.3 L624 430.3 L631.5 429.3 L637.8 430.3 L644 432.3 L646.5 432.8 L647.8 432.8 L655.3 436.1 L665.3 437.8 L675.3 438.1 L685.3 438.8 L695.4 437.6 L707.9 435.6 L720.4 434.8 L730.4 435.3 L737.9 436.6 L743.4 437.6 L747.9 438.1 L747.9 433.1 Z" fill="#f39b48" clip-path="url(#oc199p)"/>
<path d="M151.8 433.1 L151.8 410 L158.8 408.8 L165.5 405.5 L172.5 409.3 L178.8 411.6 L186.3 413.8 L195.1 419.3 L202.6 422.1 L207.6 422.8 L215.1 424.8 L225.1 424.6 L231.4 423.8 L236.4 424.3 L243.9 422.1 L250.1 421.8 L257.6 422.8 L271.4 423.1 L277.7 421.6 L285.2 421.6 L292.7 422.8 L301.4 422.8 L310.2 425.1 L317.7 428.1 L325.2 431.1 L330.2 431.6 L337.7 430.8 L342.7 431.3 L346.5 432.8 L347.8 432.8 L355.3 440.1 L362.8 445.8 L370.3 449.6 L377.8 449.6 L384 451.3 L391.6 456.4 L399.1 455.9 L405.3 457.6 L412.8 460.9 L420.3 461.1 L426.6 463.6 L434.1 463.1 L441.6 458.9 L449.1 455.9 L455.4 454.6 L461.6 451.6 L469.1 451.3 L476.7 456.4 L482.9 456.4 L490.4 451.1 L497.9 450.3 L504.2 448.3 L511.7 444.3 L518 443.6 L525.5 443.6 L538 440.8 L545.5 437.1 L552 435.1 L557.7 433.6 L561.4 434.1 L567.7 436.1 L574 438.1 L581.5 436.3 L587.7 437.3 L594 436.3 L600.2 433.6 L602.7 432.8 L610.3 429.6 L616.5 429.3 L624 430.3 L631.5 429.3 L637.8 430.3 L644 432.3 L646.5 432.8 L647.8 432.8 L655.3 436.1 L665.3 437.8 L675.3 438.1 L685.3 438.8 L695.4 437.6 L707.9 435.6 L720.4 434.8 L730.4 435.3 L737.9 436.6 L743.4 437.6 L747.9 438.1 L747.9 433.1 Z" fill="#1a76d4" clip-path="url(#oc199n)"/>
<line x1="151.8" y1="433.1" x2="348" y2="433.1" stroke="#c47a30" stroke-width="1"/>
<line x1="348" y1="433.1" x2="602" y2="433.1" stroke="#1a66b8" stroke-width="1"/>
<line x1="602" y1="433.1" x2="648.3" y2="433.1" stroke="#c47a30" stroke-width="1"/>
<line x1="648.3" y1="433.1" x2="744" y2="433.1" stroke="#1a66b8" stroke-width="1"/>
</g>
<rect x="498.4" y="48.1" width="245.6" height="40.6" fill="#fff" stroke="#777" stroke-width="0.8"/>
<text transform="translate(736 75.9) scale(1 1.03)" font-size="24.5" text-anchor="end">a) QBOE: 1959-1979</text>
<rect x="151.8" y="48.1" width="592.3" height="450.2" fill="none" stroke="#404040" stroke-width="1.1"/>
<line x1="139.4" y1="367.7" x2="756.3" y2="367.7" stroke="#262626" stroke-width="1.6"/>
<line x1="139.4" y1="48.1" x2="151.8" y2="48.1" stroke="#404040" stroke-width="1.1"/>
<line x1="744" y1="48.1" x2="756.3" y2="48.1" stroke="#404040" stroke-width="1.1"/>
<text transform="translate(117 59.9) scale(1 1.05)" font-size="32.7" text-anchor="end">20</text>
<line x1="139.4" y1="139.1" x2="151.8" y2="139.1" stroke="#404040" stroke-width="1.1"/>
<line x1="744" y1="139.1" x2="756.3" y2="139.1" stroke="#404040" stroke-width="1.1"/>
<text transform="translate(117 150.9) scale(1 1.05)" font-size="32.7" text-anchor="end">50</text>
<line x1="139.4" y1="207.9" x2="151.8" y2="207.9" stroke="#404040" stroke-width="1.1"/>
<line x1="744" y1="207.9" x2="756.3" y2="207.9" stroke="#404040" stroke-width="1.1"/>
<text transform="translate(117 219.7) scale(1 1.05)" font-size="32.7" text-anchor="end">100</text>
<line x1="139.4" y1="276.7" x2="151.8" y2="276.7" stroke="#404040" stroke-width="1.1"/>
<line x1="744" y1="276.7" x2="756.3" y2="276.7" stroke="#404040" stroke-width="1.1"/>
<text transform="translate(117 288.5) scale(1 1.05)" font-size="32.7" text-anchor="end">200</text>
<line x1="139.4" y1="317" x2="151.8" y2="317" stroke="#404040" stroke-width="1.1"/>
<line x1="744" y1="317" x2="756.3" y2="317" stroke="#404040" stroke-width="1.1"/>
<text transform="translate(117 328.8) scale(1 1.05)" font-size="32.7" text-anchor="end">300</text>
<line x1="139.4" y1="367.7" x2="151.8" y2="367.7" stroke="#404040" stroke-width="1.1"/>
<line x1="744" y1="367.7" x2="756.3" y2="367.7" stroke="#404040" stroke-width="1.1"/>
<text transform="translate(117 379.5) scale(1 1.05)" font-size="32.7" text-anchor="end">500</text>
<line x1="151.8" y1="44.9" x2="151.8" y2="48.1" stroke="#404040" stroke-width="1.1"/>
<line x1="236.4" y1="35.8" x2="236.4" y2="48.1" stroke="#404040" stroke-width="1.1"/>
<line x1="321" y1="44.9" x2="321" y2="48.1" stroke="#404040" stroke-width="1.1"/>
<line x1="405.6" y1="35.8" x2="405.6" y2="48.1" stroke="#404040" stroke-width="1.1"/>
<line x1="490.2" y1="44.9" x2="490.2" y2="48.1" stroke="#404040" stroke-width="1.1"/>
<line x1="574.8" y1="35.8" x2="574.8" y2="48.1" stroke="#404040" stroke-width="1.1"/>
<line x1="659.4" y1="44.9" x2="659.4" y2="48.1" stroke="#404040" stroke-width="1.1"/>
<line x1="744" y1="35.8" x2="744" y2="48.1" stroke="#404040" stroke-width="1.1"/>
<line x1="139.4" y1="396.8" x2="151.8" y2="396.8" stroke="#404040" stroke-width="1.1"/>
<line x1="744" y1="396.8" x2="756.3" y2="396.8" stroke="#404040" stroke-width="1.1"/>
<text transform="translate(778.8 408.7) scale(1 1.05)" font-size="32.7" text-anchor="start">5</text>
<line x1="139.4" y1="433.1" x2="151.8" y2="433.1" stroke="#404040" stroke-width="1.1"/>
<line x1="744" y1="433.1" x2="756.3" y2="433.1" stroke="#404040" stroke-width="1.1"/>
<text transform="translate(778.8 445) scale(1 1.05)" font-size="32.7" text-anchor="start">0</text>
<line x1="139.4" y1="469.3" x2="151.8" y2="469.3" stroke="#404040" stroke-width="1.1"/>
<line x1="744" y1="469.3" x2="756.3" y2="469.3" stroke="#404040" stroke-width="1.1"/>
<text transform="translate(778.8 481.2) scale(1 1.05)" font-size="32.7" text-anchor="start">-5</text>
<g clip-path="url(#clipb)">
<path d="M140 515C185.1 513 545.5 510 590.5 515C635.6 520 599.8 560.3 590.5 565.1C581.3 569.8 510.4 563.1 497.9 562.6C485.4 562.1 471.2 560.8 465.4 560.1C459.6 559.3 447.9 556.8 440.4 555.1C432.9 553.3 400.3 544.8 390.3 542.6C380.3 540.3 350.3 533.9 340.2 532.5C330.2 531.2 300.2 529 290.2 528.8C280.2 528.5 250.1 529.5 240.1 530C230.1 530.5 198.9 533.3 190.1 533.8C181.2 534.3 156.8 534.9 151.8 535C146.8 535.2 141.2 537 140 535C138.8 533 94.9 517 140 515Z" fill="#eafcff"/>
<path d="M140 515C147 514.2 203.3 514.5 210.1 515C216.8 515.6 210.8 519.8 207.6 520.5C204.3 521.3 184.3 522.3 177.5 522.5C170.8 522.8 143.8 523.8 140 523C136.2 522.3 133 515.8 140 515Z" fill="#c9eefc"/>
<path d="M260.1 515C291.2 514.4 557.5 510.4 590.5 515C623.6 519.6 599.8 556.8 590.5 561.3C581.3 565.8 509.2 560.7 497.9 560.1C486.7 559.4 482.4 556.6 477.9 555.1C473.4 553.6 459.1 546.8 452.9 545.1C446.6 543.3 424.1 538.8 415.3 537.5C406.6 536.3 375.3 533.8 365.3 532.5C355.3 531.3 323.7 526.2 315.2 525C306.7 523.9 285.7 522.3 280.2 521.3C274.7 520.3 229.1 515.6 260.1 515Z" fill="#c9eefc"/>
<path d="M140 626.4C145 621.1 181.3 627 190.1 627.7C198.8 628.3 220.1 631.2 227.6 632.7C235.1 634.2 265.2 640.9 265.2 642.7C265.2 644.4 233.9 648.4 227.6 650.2C221.3 651.9 207.6 657.7 202.6 660.2C197.6 662.7 182.6 673.2 177.5 675.2C172.5 677.2 155.5 679.7 151.8 680.2C148 680.7 141.2 685.6 140 680.2C138.8 674.8 135 631.7 140 626.4Z" fill="#eafcff"/>
<path d="M140 633.9C143.8 631.8 171 634.2 177.5 635.2C184.1 636.1 205.1 641.4 205.1 643.2C205.1 644.9 182.9 651.4 177.5 652.7C172.2 654 155.5 656.1 151.8 656.4C148 656.8 141.2 658.7 140 656.4C138.8 654.2 136.2 636 140 633.9Z" fill="#c9eefc"/>
<path d="M157.5 643.9C157.5 643.5 166.4 642.2 168.8 642.2C171.2 642.2 181.3 643.5 181.3 643.9C181.3 644.3 171.2 645.9 168.8 645.9C166.4 645.9 157.5 644.3 157.5 643.9Z" fill="#98d9fb"/>
<path d="M397.8 580.1C401.1 578.6 419.6 580.8 422.8 582.6C426.1 584.4 431.6 595.9 430.4 597.6C429.1 599.4 414.3 600.1 410.3 600.1C406.3 600.1 391.6 599.6 390.3 597.6C389.1 595.6 394.6 581.6 397.8 580.1Z" fill="#eafcff"/>
<path d="M335.2 608.9C335.2 608.2 347.3 605.2 350.3 605.1C353.3 605.1 365.3 607.5 365.3 608.1C365.3 608.8 353.3 611.8 350.3 611.9C347.3 612 335.2 609.6 335.2 608.9Z" fill="#eafcff"/>
<path d="M140 693.9C141.2 686.1 148 693.3 151.8 692.6C155.5 692 172.5 688.8 177.5 687.6C182.6 686.5 197.6 682.8 202.6 681.4C207.6 680 221.3 675.5 227.6 673.9C233.9 672.2 257.6 667 265.2 665.1C272.7 663.2 296.4 657.1 302.7 655.1C309 653.1 324 646.8 327.7 645.1C331.5 643.3 336.5 639.3 340.2 637.6C344 635.8 360.3 628.9 365.3 627.6C370.3 626.2 385.3 624.4 390.3 623.8C395.3 623.2 410.3 621.9 415.3 621.3C420.3 620.7 436.6 618.7 440.4 617.6C444.1 616.4 450.6 612.1 452.9 610C455.1 608 460.4 599.7 462.9 597.5C465.4 595.4 475.5 589.9 477.9 588.8C480.3 587.6 481.2 586.9 487.1 586.3C493 585.6 524.6 582.6 537.2 582.5C549.7 582.4 599.7 584.4 612.2 585C624.8 585.6 649.1 587.4 662.3 588.8C675.5 590.1 734.1 597.8 744.2 598.8C754.2 599.8 760.6 589.1 762.4 598.8C764.3 608.4 764.3 685.5 762.4 695.2C760.6 704.8 746.9 695.7 744.2 695.2C741.4 694.7 736.8 691.6 734.9 690.1C733 688.6 727.1 682.4 724.9 680.1C722.6 677.9 714.9 670.1 712.4 667.6C709.9 665.1 702.9 657.1 699.8 655.1C696.8 653.1 685.6 649.3 682.3 647.6C679.1 645.8 670.6 639.6 667.3 637.6C664.1 635.6 655.3 629.1 649.8 627.6C644.3 626.1 621 622.6 612.2 622.6C603.5 622.6 570.9 626.8 562.2 627.6C553.4 628.3 530.9 629.4 524.6 630.1C518.4 630.7 502.9 632.6 499.6 633.8C496.4 635.1 493.8 640.3 492.1 642.6C490.3 644.8 484.8 654.6 482.1 656.4C479.4 658.1 470.3 659 465.4 660.1C460.5 661.2 437.9 666.2 432.9 667.6C427.8 669 418.1 672.4 415.3 673.9C412.6 675.4 407.8 680 405.3 682.6C402.8 685.3 394.3 697.2 390.3 700.2C386.3 703.2 370.3 710.5 365.3 712.7C360.3 714.8 346.5 720.1 340.2 721.4C334 722.8 310.2 725.6 302.7 726.4C295.2 727.3 271.9 729.1 265.2 730.2C258.4 731.3 239.6 735.7 235.1 737.7C230.6 739.7 223.4 747.5 220.1 750.2C216.8 753 206.8 763.2 202.6 765.2C198.3 767.2 182.6 769.7 177.5 770.2C172.5 770.7 155.5 770.2 151.8 770.2C148 770.2 141.2 777.9 140 770.2C138.8 762.6 138.8 701.7 140 693.9Z" fill="#fffcce"/>
<path d="M140 696.4C141.2 690.1 148 696.8 151.8 696.4C155.5 696 172.5 693.8 177.5 692.6C182.6 691.5 197.6 686.6 202.6 685.1C207.6 683.6 221.3 679.3 227.6 677.6C233.9 676 257.6 670.7 265.2 668.9C272.7 667 296.4 660.7 302.7 658.9C309 657 324 651.7 327.7 650.1C331.5 648.5 336.5 644.3 340.2 642.6C344 640.8 360.3 634.1 365.3 632.6C370.3 631.1 385.3 628.3 390.3 627.6C395.3 626.8 410.3 625.7 415.3 625.1C420.3 624.4 436.4 622.3 440.4 621.3C444.4 620.3 452.9 616.9 455.4 615.1C457.9 613.2 462.2 604.9 465.4 602.5C468.6 600.2 482.4 592.7 487.1 591.3C491.8 589.9 505.9 588.9 512.1 588.8C518.4 588.6 540.9 588.9 549.7 590C558.4 591.2 591 598.3 599.7 600C608.5 601.8 631.8 606.5 637.3 607.5C642.8 608.5 656 609.4 654.8 610C653.5 610.7 631.5 612.8 624.8 613.8C618 614.8 594.7 618.9 587.2 620.1C579.7 621.2 557.2 624.3 549.7 625.1C542.2 625.8 517.4 626.9 512.1 627.6C506.9 628.2 499.4 630.1 497.1 631.3C494.9 632.6 491.3 638 489.6 640.1C487.8 642.2 482.3 650.8 479.6 652.6C476.9 654.4 467.8 656.5 462.9 657.6C458 658.7 435.6 662.6 430.4 663.9C425.1 665.1 413.1 668.5 410.3 670.1C407.6 671.7 404.8 677.6 402.8 680.1C400.8 682.6 394.1 692.4 390.3 695.2C386.5 697.9 370.3 705.7 365.3 707.7C360.3 709.7 346.5 713.9 340.2 715.2C334 716.4 310.2 719.4 302.7 720.2C295.2 720.9 271.4 722.2 265.2 722.7C258.9 723.2 245.1 724.2 240.1 725.2C235.1 726.2 218.8 730.7 215.1 732.7C211.3 734.7 206.3 742.8 202.6 745.2C198.8 747.6 182.6 755.1 177.5 756.5C172.5 757.9 155.5 758.7 151.8 759C148 759.2 141.2 765.2 140 759C138.8 752.7 138.8 702.7 140 696.4Z" fill="#ffdd78"/>
<path d="M140 698.9C143 694.1 165.4 697.8 170 698.2C174.7 698.5 184.1 700.7 186.3 702.7C188.6 704.6 193.2 714.9 192.6 717.7C191.9 720.4 182.8 727.7 180 730.2C177.3 732.7 167.9 741.1 165 742.7C162.2 744.3 154.3 746.1 151.8 746.5C149.3 746.8 141.2 751.2 140 746.5C138.8 741.7 137 703.7 140 698.9Z" fill="#ffae34"/>
<path d="M140 707.7C142.3 705.8 159.5 707.9 162.5 708.9C165.5 709.9 170 716.1 170 717.7C170 719.3 164.4 724.2 162.5 725.2C160.7 726.2 154 727.4 151.8 727.7C149.5 727.9 141.2 729.7 140 727.7C138.8 725.7 137.7 709.5 140 707.7Z" fill="#ff802c"/>
<path d="M212.6 702.7C212.8 700.7 219.8 692.4 222.6 690.1C225.4 687.9 235.9 681.6 240.1 680.1C244.4 678.6 258.9 676.6 265.2 675.1C271.4 673.6 296.4 667.1 302.7 665.1C309 663.1 323.5 657.1 327.7 655.1C332 653.1 341.5 647 345.2 645.1C349 643.2 360.8 637.7 365.3 636.3C369.8 635 385.3 632.1 390.3 631.3C395.3 630.6 410.3 629.3 415.3 628.8C420.3 628.3 435.9 626.8 440.4 626.3C444.9 625.8 457.2 625.2 460.4 623.8C463.6 622.4 469.7 614.9 472.1 612.6C474.5 610.2 480.6 601.9 484.6 600C488.6 598.2 505.6 594.3 512.1 593.8C518.6 593.3 542.2 594.2 549.7 595C557.2 595.9 581.5 601 587.2 602.5C593 604 607.2 608.7 607.2 610C607.2 611.4 593 615.2 587.2 616.3C581.5 617.4 557.2 620.6 549.7 621.3C542.2 622.1 517.6 623.3 512.1 623.8C506.6 624.3 497.4 625.2 494.6 626.3C491.8 627.4 486.6 633 484.6 635.1C482.6 637.2 477 645.7 474.6 647.6C472.2 649.5 465.1 652.6 460.4 653.9C455.7 655.1 433.4 658.7 427.8 660.1C422.3 661.5 408.3 665.6 405.3 667.6C402.3 669.6 399.8 677.6 397.8 680.1C395.8 682.6 388.6 690.4 385.3 692.6C382 694.9 369.8 700.9 365.3 702.7C360.8 704.4 345.2 709 340.2 710.2C335.2 711.3 320.2 713.3 315.2 713.9C310.2 714.6 296.4 716.1 290.2 716.4C283.9 716.8 259.6 718.3 252.6 717.7C245.6 717.1 224.1 711.7 220.1 710.2C216.1 708.7 212.3 704.7 212.6 702.7Z" fill="#ffae34"/>
<path d="M246.4 702.7C245.9 700.5 255.8 685.4 260.1 682.6C264.5 679.9 284.7 676.5 290.2 675.1C295.7 673.8 310.2 670.4 315.2 668.9C320.2 667.4 335.2 662.5 340.2 660.1C345.2 657.7 360.3 647.6 365.3 645.1C370.3 642.6 385.3 636.5 390.3 635.1C395.3 633.7 410.3 631.8 415.3 631.3C420.3 630.8 435.6 629.9 440.4 630.1C445.1 630.2 459.5 631.3 462.9 632.6C466.3 633.8 474.4 640.8 474.2 642.6C473.9 644.3 465 648.7 460.4 650.1C455.8 651.5 433.6 655.1 427.8 656.4C422.1 657.6 406.1 661 402.8 662.6C399.6 664.2 397.1 670.4 395.3 672.6C393.6 674.9 388.3 682.9 385.3 685.1C382.3 687.4 369.8 693.4 365.3 695.2C360.8 696.9 345.2 701.5 340.2 702.7C335.2 703.8 320.2 706.2 315.2 706.4C310.2 706.7 295.2 705.4 290.2 705.2C285.2 704.9 269.5 704.2 265.2 703.9C260.8 703.7 246.9 704.8 246.4 702.7Z" fill="#ff802c"/>
<path d="M317.7 680.1C317.7 679 326.7 675.8 330.2 675.1C333.7 674.5 349.4 673.5 352.8 673.9C356.1 674.3 364 677.8 364 678.9C364 680 356.1 684.4 352.8 685.1C349.4 685.9 333.7 686.9 330.2 686.4C326.7 685.9 317.7 681.3 317.7 680.1Z" fill="#ec4b2e"/>
<path d="M397.8 643.8C397.8 642.3 411.1 637.2 415.3 636.3C419.6 635.5 435.9 634.8 440.4 635.6C444.9 636.3 460.4 642.3 460.4 643.8C460.4 645.4 444.9 650.5 440.4 651.3C435.9 652.2 419.6 652.9 415.3 652.1C411.1 651.3 397.8 645.4 397.8 643.8Z" fill="#ec4b2e"/>
<path d="M415.3 643.8C415.3 643.4 427.5 641.6 430.4 641.6C433.2 641.6 444.1 643.4 444.1 643.8C444.1 644.3 433.2 646.3 430.4 646.3C427.5 646.3 415.3 644.3 415.3 643.8Z" fill="#cb1f27"/>
<path d="M477.1 610C477.3 608.7 489.8 604.8 494.6 603.8C499.4 602.7 518.4 599.7 524.6 599.5C530.9 599.4 550.9 601.5 557.2 602.5C563.4 603.6 586.7 608.8 587.2 610C587.7 611.3 568.4 614.2 562.2 615.1C555.9 615.9 531.6 618.6 524.6 618.8C517.6 619 496.9 617.9 492.1 617.1C487.3 616.2 476.8 611.4 477.1 610Z" fill="#ff802c"/>
<path d="M509.6 610C509.6 609.5 521.1 607.5 524.6 607.5C528.1 607.5 544.7 609.5 544.7 610C544.7 610.5 528.1 612.6 524.6 612.6C521.1 612.6 509.6 610.5 509.6 610Z" fill="#ec4b2e"/>
<path d="M689.8 630.1C689.8 627.9 696.3 622.6 699.8 621.3C703.4 620.1 718.6 618.1 724.9 617.6C731.1 617.1 758.7 609.5 762.4 616.3C766.2 623.1 764.9 678.8 762.4 685.1C759.9 691.5 740.9 681.6 737.4 680.1C733.9 678.6 729.9 672.9 727.4 670.1C724.9 667.4 715.1 655.4 712.4 652.6C709.6 649.8 702.1 644.8 699.8 642.6C697.6 640.3 689.8 632.2 689.8 630.1Z" fill="#ffdd78"/>
<path d="M704.9 636.3C705.1 634.5 714.1 629.8 719.9 628.8C725.6 627.8 758.2 622.2 762.4 626.3C766.7 630.4 765.4 666.5 762.4 670.1C759.4 673.8 736.9 664.9 732.4 662.6C727.9 660.4 720.1 650.2 717.4 647.6C714.6 645 704.6 638.2 704.9 636.3Z" fill="#ffae34"/>
<path d="M716.1 641.3C716.6 640 727.8 637 732.4 636.3C737 635.7 759.4 633 762.4 635.1C765.4 637.2 765.9 656.1 762.4 657.6C758.9 659.1 732 651.7 727.4 650.1C722.8 648.5 715.6 642.7 716.1 641.3Z" fill="#ff802c"/>
<path d="M412 690.1C413 686.6 435.3 667.1 442 663.9C448.8 660.6 473.8 659.5 479.6 657.6C485.3 655.7 496.4 647.6 499.6 645.1C502.9 642.6 509.1 634.5 512.1 632.6C515.1 630.6 524.6 626.4 529.6 625.6C534.6 624.7 553.9 623.6 562.2 623.8C570.4 624.1 603.7 626.4 612.2 628.1C620.8 629.7 643 637.1 647.3 640.1C651.5 643 653.3 654.4 654.8 657.6C656.3 660.9 664.1 670.6 662.3 672.6C660.6 674.6 643.5 676.6 637.3 677.6C631 678.6 607.2 681.4 599.7 682.6C592.2 683.9 570.9 688.5 562.2 690.1C553.4 691.8 520.9 697.8 512.1 698.9C503.4 700 482.6 701.4 474.6 701.4C466.6 701.4 438.3 700 432 698.9C425.8 697.8 411 693.7 412 690.1Z" fill="#eafcff"/>
<path d="M419.5 687.6C420.5 684.9 438.3 670.2 444.5 667.6C450.8 665 476.3 663.1 482.1 661.4C487.8 659.6 498.9 652.6 502.1 650.1C505.4 647.6 511.9 638.5 514.6 636.3C517.4 634.2 524.9 629.7 529.6 628.8C534.4 627.9 554.4 627.3 562.2 627.6C569.9 627.8 599.7 629.9 607.2 631.3C614.7 632.7 634.3 638.7 637.3 641.3C640.3 644 639.3 654.7 637.3 657.6C635.3 660.5 622.3 667.9 617.2 670.1C612.2 672.4 593.7 678.3 587.2 680.1C580.7 682 559.7 687.4 552.2 688.9C544.7 690.4 519.9 694.3 512.1 695.2C504.4 696 482.3 697.2 474.6 697.2C466.8 697.2 440 696.1 434.5 695.2C429 694.2 418.5 690.4 419.5 687.6Z" fill="#c9eefc"/>
<path d="M424.5 685.1C425.5 683.1 441 673.4 447 671.4C453 669.4 478.8 666.7 484.6 665.1C490.3 663.5 501.4 657.6 504.6 655.1C507.9 652.6 514.6 642.3 517.1 640.1C519.6 637.8 525.1 633.5 529.6 632.6C534.1 631.7 554.7 631.1 562.2 631.3C569.7 631.6 598.2 634 604.7 635.1C611.2 636.2 625.3 640.6 627.3 642.6C629.3 644.6 626.8 652.6 624.8 655.1C622.8 657.6 612 665.4 607.2 667.6C602.5 669.9 583 675.9 577.2 677.6C571.4 679.4 556.2 683.8 549.7 685.1C543.2 686.5 519.6 690.6 512.1 691.4C504.6 692.1 482.1 692.6 474.6 692.6C467.1 692.6 442 692.1 437 691.4C432 690.6 423.5 687.1 424.5 685.1Z" fill="#98d9fb"/>
<path d="M432 682.6C432.5 681.4 444 676.4 449.5 675.1C455.1 673.9 481.3 671.6 487.1 670.1C492.8 668.6 503.9 662.6 507.1 660.1C510.4 657.6 517.1 647.3 519.6 645.1C522.1 642.8 527.9 638.5 532.1 637.6C536.4 636.6 555.4 635.5 562.2 635.6C568.9 635.7 594.1 638 599.7 638.8C605.4 639.7 617.2 642.5 618.5 643.8C619.8 645.2 614.1 650.7 612.2 652.6C610.4 654.5 603.5 660.6 599.7 662.6C596 664.6 579.7 670.9 574.7 672.6C569.7 674.4 555.9 678.8 549.7 680.1C543.4 681.5 519.6 685.6 512.1 686.4C504.6 687.1 481.3 687.5 474.6 687.6C467.8 687.8 448.8 688.1 444.5 687.6C440.3 687.1 431.5 683.9 432 682.6Z" fill="#6bb2e5"/>
<path d="M544.7 645.1C545.7 644.2 557.9 642.7 562.2 642.6C566.4 642.5 586 643.1 587.2 643.8C588.5 644.6 578.2 649.3 574.7 650.1C571.2 650.8 555.2 651.8 552.2 651.3C549.2 650.8 543.7 646 544.7 645.1Z" fill="#3d82c4"/>
<path d="M452 680.1C454.1 679.6 469.1 678 474.6 677.6C480.1 677.3 502.4 676.3 507.1 676.4C511.9 676.5 522.1 678.3 522.1 678.9C522.1 679.5 511.9 682.2 507.1 682.6C502.4 683.1 479.8 683.1 474.6 683.1C469.3 683.1 456.8 682.9 454.6 682.6C452.3 682.3 450 680.6 452 680.1Z" fill="#3d82c4"/>
<path d="M401.5 782.8C403 777.8 415.2 750.5 419.5 745.2C423.8 740 437.8 733.2 444.5 730.2C451.3 727.2 477.8 718.2 487.1 715.2C496.4 712.2 527.1 702 537.2 700.2C547.2 698.3 577.2 696.8 587.2 696.4C597.2 696 628.5 696 637.3 696.4C646 696.8 668.6 699 674.8 700.2C681.1 701.3 694.8 705.9 699.8 707.7C704.9 709.4 718.6 716.4 724.9 717.7C731.1 718.9 758.7 706.9 762.4 720.2C766.2 733.4 795 837.3 762.4 850.3C729.9 863.4 469.6 851.5 437 850.3C404.5 849.2 438.3 842.1 437 839.1C435.8 836.1 427.8 824.7 424.5 820.3C421.3 815.9 406.8 799 404.5 795.3C402.2 791.5 400 787.8 401.5 782.8Z" fill="#fffcce"/>
<path d="M419.5 780.3C420 776 428.3 757.2 432 752.7C435.8 748.2 450.3 738.6 457.1 735.2C463.8 731.8 491.6 721.9 499.6 718.9C507.6 715.9 528.4 706.9 537.2 705.2C545.9 703.4 577.2 701.8 587.2 701.4C597.2 701 628.5 700.9 637.3 701.4C646 701.9 669.3 704.8 674.8 706.4C680.3 708 690.1 715.1 692.3 717.7C694.6 720.3 697.3 728.7 697.3 732.7C697.3 736.7 693.1 752.7 692.3 757.7C691.6 762.7 691.6 779 689.8 782.8C688.1 786.5 677.8 792 674.8 795.3C671.8 798.5 662.8 810.9 659.8 815.3C656.8 819.7 646.3 835.6 644.8 839.1C643.3 842.6 657.5 849.2 644.8 850.3C632 851.5 529.9 851.5 517.1 850.3C504.4 849.2 518.9 840.8 517.1 839.1C515.4 837.3 503.9 834.4 499.6 832.8C495.4 831.2 479.6 825.1 474.6 822.8C469.6 820.6 454.3 813 449.5 810.3C444.8 807.5 430 798.3 427 795.3C424 792.3 419 784.5 419.5 780.3Z" fill="#ffdd78"/>
<path d="M437 777.8C437.5 774.2 445.8 759 449.5 755.2C453.3 751.5 468.3 743.2 474.6 740.2C480.8 737.2 504.6 728.2 512.1 725.2C519.6 722.2 542.2 712 549.7 710.2C557.2 708.3 578.5 706.8 587.2 706.4C596 706 629 705.5 637.3 706.4C645.5 707.3 665.8 712.8 669.8 715.2C673.8 717.6 677.3 726.7 677.3 730.2C677.3 733.7 671.3 746.2 669.8 750.2C668.3 754.2 664.3 765.7 662.3 770.2C660.3 774.7 652.8 790.8 649.8 795.3C646.8 799.8 636.5 811.8 632.3 815.3C628 818.8 613 828.2 607.2 830.3C601.5 832.4 581.7 836.3 574.7 836.6C567.7 836.8 544.7 834.4 537.2 832.8C529.6 831.2 507.1 823.3 499.6 820.3C492.1 817.3 467.6 805.8 462.1 802.8C456.6 799.8 447 792.8 444.5 790.3C442 787.8 436.5 781.3 437 777.8Z" fill="#ffae34"/>
<path d="M463.3 775.2C463.8 772.5 471.4 763 474.6 760.2C477.7 757.5 489.6 750.2 494.6 747.7C499.6 745.2 517.9 738 524.6 735.2C531.4 732.4 554.7 722.1 562.2 720.2C569.7 718.3 592.7 716.4 599.7 716.4C606.7 716.4 628.4 717.3 632.3 720.2C636.1 723.1 638.5 740.7 638.5 745.2C638.5 749.7 634.1 761 632.3 765.2C630.4 769.5 622.8 783.5 619.8 787.8C616.7 792 606.7 804.5 602.2 807.8C597.7 811 581.2 819.2 574.7 820.3C568.2 821.4 543.4 820.1 537.2 819.1C530.9 818.1 517.1 812.4 512.1 810.3C507.1 808.2 491.3 800 487.1 797.8C482.8 795.5 471.9 790 469.6 787.8C467.2 785.5 462.8 778 463.3 775.2Z" fill="#ff802c"/>
<path d="M140 805.3C141.2 800.8 149.3 804.5 151.8 805.3C154.3 806 162.8 810.5 165 812.8C167.2 815 172.8 824.1 173.8 827.8C174.8 831.6 178.4 848.1 175 850.3C171.7 852.6 143.5 854.8 140 850.3C136.5 845.8 138.8 809.8 140 805.3Z" fill="#fffcce"/>
<path d="M270.2 787.8C270.2 785.5 284.4 778 290.2 775.2C295.9 772.5 322.2 763 327.7 760.2C333.2 757.5 341.7 748.8 345.2 747.7C348.8 746.6 361.3 747 362.8 749C364.3 751 362 764.4 360.3 767.7C358.5 771.1 349.8 779.5 345.2 782.8C340.7 786 320.7 798.8 315.2 800.3C309.7 801.8 294.7 799 290.2 797.8C285.7 796.5 270.2 790 270.2 787.8Z" fill="#eafcff"/>
<g fill="#d2683b" fill-opacity="0.92"><circle cx="373.5" cy="522.9" r="2.55"/><circle cx="389.6" cy="522.9" r="2.55"/><circle cx="405.7" cy="522.9" r="2.55"/><circle cx="421.7" cy="522.9" r="2.55"/><circle cx="437.8" cy="522.9" r="2.55"/><circle cx="453.9" cy="522.9" r="2.55"/><circle cx="469.9" cy="522.9" r="2.55"/><circle cx="486" cy="522.9" r="2.55"/><circle cx="461.9" cy="530.9" r="2.55"/><circle cx="478" cy="530.9" r="2.55"/><circle cx="494" cy="530.9" r="2.55"/><circle cx="486" cy="538.9" r="2.55"/><circle cx="494" cy="547" r="2.55"/><circle cx="526.2" cy="563.1" r="2.55"/><circle cx="542.2" cy="563.1" r="2.55"/><circle cx="558.3" cy="563.1" r="2.55"/><circle cx="574.4" cy="563.1" r="2.55"/><circle cx="518.1" cy="635.4" r="2.55"/><circle cx="534.2" cy="635.4" r="2.55"/><circle cx="550.3" cy="635.4" r="2.55"/><circle cx="494" cy="643.5" r="2.55"/><circle cx="510.1" cy="643.5" r="2.55"/><circle cx="526.2" cy="643.5" r="2.55"/><circle cx="542.2" cy="643.5" r="2.55"/><circle cx="558.3" cy="643.5" r="2.55"/><circle cx="574.4" cy="643.5" r="2.55"/><circle cx="486" cy="651.5" r="2.55"/><circle cx="502.1" cy="651.5" r="2.55"/><circle cx="518.1" cy="651.5" r="2.55"/><circle cx="534.2" cy="651.5" r="2.55"/><circle cx="550.3" cy="651.5" r="2.55"/><circle cx="566.3" cy="651.5" r="2.55"/><circle cx="461.9" cy="659.5" r="2.55"/><circle cx="478" cy="659.5" r="2.55"/><circle cx="494" cy="659.5" r="2.55"/><circle cx="510.1" cy="659.5" r="2.55"/><circle cx="526.2" cy="659.5" r="2.55"/><circle cx="542.2" cy="659.5" r="2.55"/><circle cx="558.3" cy="659.5" r="2.55"/><circle cx="437.8" cy="667.6" r="2.55"/><circle cx="453.9" cy="667.6" r="2.55"/><circle cx="469.9" cy="667.6" r="2.55"/><circle cx="486" cy="667.6" r="2.55"/><circle cx="502.1" cy="667.6" r="2.55"/><circle cx="518.1" cy="667.6" r="2.55"/><circle cx="534.2" cy="667.6" r="2.55"/><circle cx="397.6" cy="675.6" r="2.55"/><circle cx="413.7" cy="675.6" r="2.55"/><circle cx="429.8" cy="675.6" r="2.55"/><circle cx="445.8" cy="675.6" r="2.55"/><circle cx="461.9" cy="675.6" r="2.55"/><circle cx="478" cy="675.6" r="2.55"/><circle cx="494" cy="675.6" r="2.55"/><circle cx="510.1" cy="675.6" r="2.55"/><circle cx="526.2" cy="675.6" r="2.55"/><circle cx="389.6" cy="683.7" r="2.55"/><circle cx="405.7" cy="683.7" r="2.55"/><circle cx="421.7" cy="683.7" r="2.55"/><circle cx="437.8" cy="683.7" r="2.55"/><circle cx="453.9" cy="683.7" r="2.55"/><circle cx="469.9" cy="683.7" r="2.55"/><circle cx="486" cy="683.7" r="2.55"/><circle cx="502.1" cy="683.7" r="2.55"/><circle cx="518.1" cy="683.7" r="2.55"/><circle cx="413.7" cy="691.7" r="2.55"/><circle cx="429.8" cy="691.7" r="2.55"/><circle cx="445.8" cy="691.7" r="2.55"/><circle cx="727" cy="715.8" r="2.55"/><circle cx="743.1" cy="715.8" r="2.55"/><circle cx="735" cy="723.9" r="2.55"/><circle cx="743.1" cy="731.9" r="2.55"/><circle cx="735" cy="739.9" r="2.55"/><circle cx="743.1" cy="748" r="2.55"/></g>
<path d="M147.5 522.5C151.5 522.5 169.5 522.4 177.5 522C185.6 521.7 203.6 520.3 207.6 520" fill="none" stroke="#ff3a3a" stroke-width="1.05" stroke-opacity="0.58"/>
<path d="M147.5 543.8C153.2 543.9 177.7 544.9 190.1 544.6C202.4 544.2 226.8 542.1 240.1 541.3C253.5 540.5 278.5 539.2 290.2 538.8C301.9 538.4 319.4 537.9 327.7 538C336.1 538.2 346.1 538.8 352.8 540C359.4 541.3 372.4 545 377.8 547.6C383.1 550.2 384.5 557.7 392.8 559.6C401.2 561.5 426.3 561.4 440.4 561.8C454.4 562.2 481.7 562.6 497.9 562.6C514.2 562.5 540.3 561.7 562.2 561.6C584.1 561.4 637.3 561.4 662.3 561.3C687.3 561.3 738.2 561.3 749.9 561.3" fill="none" stroke="#ff3a3a" stroke-width="1.05" stroke-opacity="0.58"/>
<path d="M147.5 563.8C159.9 563.7 214.4 563.1 240.1 563.1C265.8 563.1 320.2 563.2 340.2 563.8C360.3 564.4 377 566.7 390.3 567.6C403.7 568.4 418.8 569.5 440.4 570.1C461.9 570.7 535.8 571.7 552 571.8C568.2 572 550.8 571.6 562.2 571.3C573.6 571.1 612.2 570.2 637.3 570.1C662.3 570 734.9 570.5 749.9 570.6" fill="none" stroke="#ff3a3a" stroke-width="1.05" stroke-opacity="0.58"/>
<path d="M147.5 573.8C159.9 573.9 214.4 574.2 240.1 574.3C265.8 574.5 320.2 574.7 340.2 575.1C360.3 575.5 377 576.5 390.3 577.1C403.7 577.7 418.8 579.1 440.4 579.6C461.9 580.1 535.8 580.5 552 580.6C568.2 580.7 550.8 580.8 562.2 580.6C573.6 580.4 612.2 579.1 637.3 578.8C662.3 578.6 734.9 578.8 749.9 578.8" fill="none" stroke="#ff3a3a" stroke-width="1.05" stroke-opacity="0.58"/>
<path d="M147.5 585.1C159.9 585.1 214.4 585 240.1 585.1C265.8 585.2 320.2 585.4 340.2 585.6C360.3 585.8 377 586.3 390.3 586.6C403.7 586.9 418.8 587.7 440.4 588.1C461.9 588.5 535.8 589.2 552 589.4C568.2 589.6 550.8 589.9 562.2 589.6C573.6 589.3 612.2 587.4 637.3 587.1C662.3 586.8 734.9 587.5 749.9 587.6" fill="none" stroke="#ff3a3a" stroke-width="1.05" stroke-opacity="0.58"/>
<path d="M151.8 603.1C163.5 603.2 215 603.7 240.1 603.9C265.3 604.1 320.2 604.9 340.2 604.6C360.3 604.4 377 602.5 390.3 602.1C403.7 601.8 427 601.7 440.4 602.1C453.7 602.5 480.9 604.6 490.4 605.1C500 605.7 502.6 606.1 512.1 606.4C521.7 606.6 548.8 607.5 562.2 607.1C575.5 606.8 598.9 604.8 612.2 603.9C625.6 602.9 649 600.6 662.3 600.1C675.7 599.6 701.5 599.8 712.4 600.1C723.3 600.5 739.9 602.3 744.2 602.6" fill="none" stroke="#4040ff" stroke-width="1.05" stroke-dasharray="11 6" stroke-opacity="0.6"/>
<path d="M151.8 614.4C156.9 614.2 178.3 613.1 190.1 613.1C201.8 613.1 226.8 614.1 240.1 614.4C253.5 614.7 276.8 615 290.2 615.1C303.5 615.3 330.2 616 340.2 615.6C350.3 615.3 358.6 613.5 365.3 612.6C371.9 611.7 380.3 609.5 390.3 608.9C400.3 608.3 427 607.8 440.4 608.1C453.7 608.5 480.9 610.6 490.4 611.4C500 612.2 502.6 613.5 512.1 613.9C521.7 614.3 548.8 615.1 562.2 614.6C575.5 614.1 598.9 611.1 612.2 610.1C625.6 609.1 649 607.6 662.3 607.1C675.7 606.6 701.5 606 712.4 606.4C723.3 606.7 739.9 609.2 744.2 609.6" fill="none" stroke="#4040ff" stroke-width="1.05" stroke-dasharray="11 6" stroke-opacity="0.6"/>
<path d="M151.8 633.9C156.9 633.5 178.3 631 190.1 630.7C201.8 630.3 226.8 631.3 240.1 631.4C253.5 631.5 276.8 631.6 290.2 631.4C303.5 631.2 330.2 630.7 340.2 630.2C350.3 629.7 358.6 628.4 365.3 627.7C371.9 626.9 380.3 625.2 390.3 624.7C400.3 624.2 427 623.7 440.4 623.9C453.7 624.1 480.9 625.9 490.4 626.4C500 626.9 502.6 627.7 512.1 627.7C521.7 627.7 548.8 626.6 562.2 626.4C575.5 626.2 600.6 626.1 612.2 626.4C623.9 626.7 641.4 627.7 649.8 628.9C658.1 630.1 668.1 633.5 674.8 635.2C681.5 636.8 693.2 640.1 699.8 641.4C706.5 642.8 719 644.5 724.9 645.2C730.8 645.8 741.6 646.3 744.2 646.4" fill="none" stroke="#4040ff" stroke-width="1.05" stroke-dasharray="11 6" stroke-opacity="0.6"/>
<path d="M151.8 651.4C156.9 651.5 178.3 651.9 190.1 652.2C201.8 652.5 226.8 653.6 240.1 653.9C253.5 654.3 276.8 654.2 290.2 654.7C303.5 655.2 326.9 657.1 340.2 657.7C353.6 658.3 377 658.9 390.3 658.9C403.7 658.9 427 657.9 440.4 657.7C453.7 657.5 480.9 657.5 490.4 657.7C500 657.9 502.6 658.6 512.1 658.9C521.7 659.3 548.8 660.7 562.2 660.2C575.5 659.7 598.9 656.9 612.2 655.2C625.6 653.5 649 649.5 662.3 647.7C675.7 645.8 701.5 642.8 712.4 641.4C723.3 640 739.9 637.7 744.2 637.2" fill="none" stroke="#4040ff" stroke-width="1.05" stroke-dasharray="11 6" stroke-opacity="0.6"/>
<path d="M151.8 667.2C156.9 667.3 178.3 668 190.1 668.2C201.8 668.4 226.8 668.7 240.1 669C253.5 669.2 276.8 669.9 290.2 670.2C303.5 670.5 326.9 671.1 340.2 671.5C353.6 671.8 377 672.9 390.3 672.7C403.7 672.5 427 670.2 440.4 670.2C453.7 670.2 480.9 672 490.4 672.7C500 673.4 502.6 675.2 512.1 675.2C521.7 675.2 548.8 673.9 562.2 672.7C575.5 671.5 598.9 668 612.2 666.5C625.6 665 649 662.6 662.3 661.4C675.7 660.3 701.5 658.3 712.4 657.7C723.3 657.1 739.9 657.3 744.2 657.2" fill="none" stroke="#4040ff" stroke-width="1.05" stroke-dasharray="11 6" stroke-opacity="0.6"/>
<path d="M151.8 684C156.9 684.1 178.3 684.7 190.1 684.7C201.8 684.7 226.8 684.1 240.1 684C253.5 683.9 276.8 683.6 290.2 684C303.5 684.3 326.9 686.3 340.2 686.5C353.6 686.6 377 685.6 390.3 685.2C403.7 684.9 427 683.6 440.4 684C453.7 684.3 484.2 686.7 490.4 687.7C496.7 688.7 482.5 690.8 487.1 691.5C491.7 692.1 514.6 693.2 524.6 692.7C534.6 692.2 550.5 689.6 562.2 687.7C573.9 685.9 598.9 680.8 612.2 679C625.6 677.1 649 675.1 662.3 674C675.7 672.8 701.5 671 712.4 670.2C723.3 669.4 739.9 668.5 744.2 668.2" fill="none" stroke="#4040ff" stroke-width="1.05" stroke-dasharray="11 6" stroke-opacity="0.6"/>
<path d="M345.2 643.9C351.3 644 377.6 644.7 390.3 644.7C403 644.7 427 644.2 440.4 643.9C453.7 643.7 480.9 642.5 490.4 642.7C500 642.8 502.6 645 512.1 645.2C521.7 645.3 548.8 644.1 562.2 643.9C575.5 643.8 605.6 643.9 612.2 643.9" fill="none" stroke="#4040ff" stroke-width="1.05" stroke-dasharray="11 6" stroke-opacity="0.6"/>
<path d="M382.2 675.1L375.5 680.9M372.5 683.5L375.9 676.2L375.5 680.9L380.3 681.2ZM405.3 673.3L395 682.7M392 685.3L395.3 677.9L395 682.7L399.7 682.8ZM427.2 674.4L415.3 683M412.1 685.3L416.2 678.3L415.3 683L420 683.7ZM444.6 678.8L437.3 679.7M433.6 680.2L440 676.3L437.3 679.7L440.8 682.4ZM151.3 717.8L155.3 722.9M157.3 725.5L151.5 722.4L155.3 722.9L155.7 719.1ZM168.3 710.9L175.6 725M177.4 728.6L171.1 723.5L175.6 725L176.9 720.5ZM245.8 714.5L252.3 721.9M254.9 724.9L247.5 721.5L252.3 721.9L252.5 717.2ZM268.2 712.7L273.2 723.1M275 726.7L268.8 721.5L273.2 723.1L274.7 718.6ZM290.5 713.1L293.7 722.4M295 726.2L289.5 720.3L293.7 722.4L295.7 718.1ZM314.2 709.1L313.4 726.4M313.3 730.4L310.3 722.9L313.4 726.4L316.9 723.1ZM338.4 708.5L333 727.1M331.9 730.9L330.8 722.9L333 727.1L337.1 724.8ZM362.1 711.6L352.7 724.4M350.3 727.7L352 719.7L352.7 724.4L357.3 723.7ZM383.5 715.3L374.5 722M371.2 724.4L375.2 717.3L374.5 722L379.2 722.6ZM404.4 723.1L396.1 718.3M392.6 716.3L400.6 717.1L396.1 718.3L397.4 722.9ZM424.9 728.6L417 714.7M415 711.2L421.5 716L417 714.7L415.8 719.3ZM441.8 724.9L437.8 706.9M436.9 703L441.7 709.5L437.8 706.9L435.3 711ZM150.9 747.7L153.1 755M154.2 758.7L149.2 752.8L153.1 755L155.2 751ZM171 733.5L174.2 758.7M174.7 762.7L170.5 755.7L174.2 758.7L177 754.9ZM191.6 738.6L195.1 753.8M196 757.7L191.1 751.3L195.1 753.8L197.6 749.8ZM212.4 738.2L216.5 754.8M217.5 758.7L212.5 752.3L216.5 754.8L218.9 750.7ZM233.4 737.7L238 755.2M239 759L233.9 752.7L238 755.2L240.3 751ZM254.5 735.9L259 756.6M259.8 760.5L255 753.9L259 756.6L261.5 752.6ZM276.4 731.3L280 761.1M280.4 765L276.3 758.1L280 761.1L282.8 757.3ZM298.7 734L300.5 758.3M300.9 762.3L297 755.2L300.5 758.3L303.6 754.7ZM320.5 727.3L321.4 765.6M321.5 769.6L318 762.3L321.4 765.6L324.6 762.1ZM343.3 731.3L341.4 761M341.2 765L338.3 757.4L341.4 761L344.9 757.9ZM394.4 757.2L389.7 743.3M388.4 739.5L393.9 745.5L389.7 743.3L387.6 747.6ZM415.4 766L410.5 734.9M409.9 730.9L414.3 737.7L410.5 734.9L407.8 738.8ZM436.4 771.4L431.8 728.9M431.4 724.9L435.5 731.9L431.8 728.9L428.9 732.6ZM151.7 793.3L153 799.6M153.7 802.8L149.8 797.5L153 799.6L155.1 796.4ZM172.8 772.7L173 800.2M173 804.2L169.7 796.9L173 800.2L176.3 796.8ZM194 774.5L194.1 798.4M194.2 802.4L190.8 795L194.1 798.4L197.4 795ZM214.8 775.1L215.2 798.1M215.3 802.1L211.9 794.7L215.2 798.1L218.5 794.6ZM235.7 771.4L236.6 802.1M236.7 806.1L233.2 798.8L236.6 802.1L239.8 798.6ZM256.7 771.4L257.8 802.1M258 806.1L254.4 798.8L257.8 802.1L261 798.6ZM278.1 761.9L279.4 811.2M279.5 815.2L276 807.9L279.4 811.2L282.6 807.7ZM299.2 768.7L300 803.9M300.1 807.9L296.7 800.6L300 803.9L303.2 800.4ZM320.9 760.5L321.4 813M321.5 817L318.1 809.6L321.4 813L324.7 809.6ZM341.5 761.4L342.7 810.3M342.8 814.3L339.3 807L342.7 810.3L345.9 806.8ZM362.5 782L363.4 790.8M363.8 794.8L359.7 787.7L363.4 790.8L366.3 787.1ZM391.3 797.9L391.6 783.6M391.7 779.6L394.8 787.1L391.6 783.6L388.2 787ZM412.6 811.5L412.3 770.3M412.3 766.3L415.6 773.7L412.3 770.3L409 773.7ZM434 819.2L433.3 762.3M433.3 758.3L436.6 765.7L433.3 762.3L430 765.7ZM151.7 818.8L153 825.1M153.7 828.3L149.8 823L153 825.1L155.1 821.9ZM172.8 802.1L172.8 828M172.8 832L169.5 824.6L172.8 828L176.1 824.6ZM194 803.3L193.8 826.7M193.8 830.7L190.5 823.3L193.8 826.7L197.1 823.3ZM215.7 807L214.5 823.1M214.2 827L211.5 819.4L214.5 823.1L218.1 819.9ZM236.3 806.1L235.8 825.4M235.7 829.4L232.6 821.9L235.8 825.4L239.2 822.1ZM257.3 806.1L257.3 827.6M257.3 831.6L254 824.2L257.3 827.6L260.6 824.2ZM278.6 807.9L278.6 835.8M278.6 839.8L275.3 832.4L278.6 835.8L281.9 832.4ZM299.8 807L299.8 833.1M299.8 837.1L296.5 829.7L299.8 833.1L303.1 829.7ZM321.1 813.4L321.1 837.6M321.1 841.6L317.8 834.2L321.1 837.6L324.4 834.2ZM340.6 791.8L342.6 837.6M342.8 841.6L339.2 834.4L342.6 837.6L345.8 834.1ZM361.2 807.3L364 822.7M364.7 826.7L360.1 820L364 822.7L366.6 818.8ZM396.2 831.6L399.8 806.7M400.4 802.8L402.6 810.6L399.8 806.7L396.1 809.6ZM417.6 834.3L420.9 804.6M421.4 800.6L423.8 808.3L420.9 804.6L417.3 807.6ZM172.8 830.7L173 844M173 848L169.6 840.7L173 844L176.2 840.6ZM194.2 829.8L194.2 844M194.2 848L190.9 840.6L194.2 844L197.5 840.6ZM216 832.5L215.4 842.2M215.1 846.2L212.3 838.6L215.4 842.2L218.9 839ZM237.2 831.2L236.5 842.2M236.3 846.2L233.4 838.6L236.5 842.2L240 839ZM257.6 830.7L257.6 844M257.6 848L254.3 840.6L257.6 844L260.9 840.6ZM340.6 817.9L341.9 856.8M342.1 860.8L338.5 853.5L341.9 856.8L345.1 853.3ZM360.7 828.9L363.3 845.9M364 849.8L359.5 843L363.3 845.9L366.1 842ZM399 846.2L400 835.2M400.4 831.2L403 838.9L400 835.2L396.4 838.3ZM419.9 848L421.4 833.4M421.8 829.4L424.3 837.1L421.4 833.4L417.8 836.5ZM715.9 679.7L725 679.7M729 679.7L721.6 683L725 679.7L721.6 676.4ZM736 679.7L748.4 679.7M752.4 679.7L745 683L748.4 679.7L745 676.4ZM735.1 703.2L747.5 701.7M751.5 701.2L744.5 705.4L747.5 701.7L743.7 698.8ZM465.1 733.1L459.7 710.6M458.8 706.7L463.7 713.1L459.7 710.6L457.3 714.6ZM485.8 735.9L481.8 707.9M481.2 703.9L485.5 710.8L481.8 707.9L479 711.7ZM505.8 734.9L503.4 709.2M503.1 705.2L507 712.3L503.4 709.2L500.5 712.9ZM525.7 729.8L525.1 713.8M525 709.8L528.5 717.1L525.1 713.8L521.9 717.3ZM639.3 723.1L647.6 718.6M651.2 716.7L646.2 723.1L647.6 718.6L643.1 717.3ZM660.3 723.1L669 718.6M672.5 716.7L667.5 723.1L669 718.6L664.4 717.2ZM681.6 722.5L690 718.7M693.7 717.1L688.3 723.1L690 718.7L685.6 717.1ZM702.2 724.4L711.3 718.1M714.6 715.8L710.4 722.7L711.3 718.1L706.7 717.3ZM722.8 725.5L733.5 716.5M736.5 714L733 721.3L733.5 716.5L728.7 716.2ZM457.3 772.3L453.3 728.9M452.9 724.9L456.9 732L453.3 728.9L450.3 732.6ZM477.4 772.3L474.9 728.9M474.6 724.9L478.4 732.1L474.9 728.9L471.8 732.5ZM498 769.6L496.3 729.8M496.2 725.8L499.8 733.1L496.3 729.8L493.2 733.4ZM518.4 764.1L518.2 734.9M518.2 730.9L521.6 738.3L518.2 734.9L515 738.4ZM539 761.4L539.8 739.9M539.9 735.9L543 743.4L539.8 739.9L536.4 743.1ZM646.2 752.6L654.6 747.2M657.9 745L653.5 751.8L654.6 747.2L649.9 746.3ZM667.6 755.9L676.6 744.5M679.1 741.3L677.1 749.2L676.6 744.5L671.9 745.1ZM689.1 755.6L697.4 744.9M699.9 741.7L697.9 749.6L697.4 744.9L692.7 745.5ZM710.4 756.5L718.3 744.2M720.5 740.8L719.3 748.8L718.3 744.2L713.7 745.2ZM731.4 759.6L740.5 742.1M742.4 738.6L741.9 746.7L740.5 742.1L736 743.6ZM455.5 817.9L454.3 764.1M454.2 760.1L457.7 767.4L454.3 764.1L451.1 767.6ZM477 823.4L475.3 759M475.2 755L478.7 762.3L475.3 759L472.1 762.5ZM497.6 819.8L496.6 761.7M496.5 757.7L499.9 765.1L496.6 761.7L493.3 765.2ZM518.4 815.2L518.4 766.7M518.4 762.7L521.7 770.1L518.4 766.7L515.1 770.1ZM539 807L539.8 775.4M539.9 771.4L543 778.9L539.8 775.4L536.4 778.7ZM654.4 796L661.4 785.4M663.6 782L662.3 790L661.4 785.4L656.8 786.4ZM676.7 799.7L682.7 781.6M684 777.8L684.8 785.9L682.7 781.6L678.5 783.8ZM698 794.8L702.9 786.4M705 782.9L704.1 791L702.9 786.4L698.4 787.6ZM719.2 797.9L724.8 784.2M726.3 780.5L726.5 788.6L724.8 784.2L720.4 786.1ZM740.5 802.4L744.3 782.6M745.1 778.7L746.9 786.6L744.3 782.6L740.5 785.4ZM462 844.4L463.2 789.1M463.3 785.1L466.5 792.6L463.2 789.1L459.9 792.4ZM483.4 844.4L483.9 783.6M483.9 779.6L487.2 787.1L483.9 783.6L480.6 787ZM504.4 844.4L504.7 782.7M504.7 778.7L508 786.1L504.7 782.7L501.4 786.1ZM525.3 841.6L525.8 793.7M525.9 789.7L529.1 797.1L525.8 793.7L522.5 797ZM546.7 830.7L546.8 807.3M546.9 803.3L550.1 810.8L546.8 807.3L543.5 810.7ZM566.4 824.3L567.6 815.1M568.2 811.2L570.4 819L567.6 815.1L563.9 818.1ZM587.3 823.9L589 815.1M589.7 811.2L591.6 819.1L589 815.1L585.1 817.9ZM649.3 823.4L653.1 815.2M654.8 811.5L654.7 819.6L653.1 815.2L648.7 816.9ZM671.2 828.9L675 810M675.8 806.1L677.6 814L675 810L671.1 812.7ZM714.1 824.9L716.4 814M717.2 810.1L718.9 818L716.4 814L712.4 816.6ZM735.1 827.6L738 811.5M738.7 807.5L740.6 815.4L738 811.5L734.1 814.2ZM461.5 869.9L463.7 814.1M463.9 810.1L466.9 817.6L463.7 814.1L460.3 817.3ZM482.5 873.6L484.7 807.3M484.8 803.3L487.9 810.8L484.7 807.3L481.3 810.6ZM504 873.6L505.5 807.3M505.6 803.3L508.8 810.8L505.5 807.3L502.2 810.7ZM525.3 864.4L526.2 818.8M526.2 814.8L529.4 822.3L526.2 818.8L522.8 822.2ZM546.3 854.4L547.1 828.3M547.2 824.3L550.3 831.8L547.1 828.3L543.7 831.6ZM567.8 847.1L568.4 835.6M568.6 831.6L571.5 839.2L568.4 835.6L564.9 838.8ZM589.2 846.2L589.6 836.1M589.7 832.2L592.7 839.7L589.6 836.1L586.1 839.4ZM658.5 845.3L659.3 837.4M659.7 833.4L662.2 841.1L659.3 837.4L655.7 840.4ZM680.3 847.1L681 835.2M681.3 831.2L684.1 838.8L681 835.2L677.5 838.4Z" fill="#fff" fill-opacity="0.55" stroke="#111" stroke-width="1.15" stroke-linejoin="miter"/>
</g>
<g clip-path="url(#oclipb)">
<clipPath id="oc671p"><rect x="151.8" y="824.6" width="592.3" height="80"/></clipPath>
<clipPath id="oc671n"><rect x="151.8" y="904.6" width="592.3" height="80"/></clipPath>
<path d="M140 904.6 L140 876.5 L151.8 876.5 L162.5 875.5 L172.5 874.3 L185.1 876.5 L192.6 880.3 L200.1 883.6 L207.6 884.3 L215.1 882 L222.6 881 L228.9 879.3 L236.4 880.3 L243.9 879.3 L250.1 876.3 L257.6 877.5 L263.9 875.8 L271.4 873.8 L278.9 873.5 L285.7 872.5 L292.7 876 L298.9 875.5 L306.5 876.5 L314 874.8 L321.5 873.8 L327.7 874.5 L334 877 L341.5 882 L349 887.6 L354 897.1 L357.8 904.3 L364 912.8 L370.3 917.1 L377.8 920.8 L384 924.1 L391.6 933.6 L399.1 939.6 L405.3 942.1 L412.8 948.4 L419.1 949.4 L426.6 952.4 L434.1 950.9 L440.4 947.1 L447.9 947.6 L454.9 950.4 L462.9 948.4 L468.6 946.1 L475.4 952.1 L482.9 947.9 L490.4 946.1 L497.9 944.4 L505.4 941.6 L513 938.9 L520.5 935.1 L525.9 930.1 L532.1 927.9 L539.7 925.1 L547.2 916.3 L554.7 909.1 L560.9 906.8 L567.2 906.1 L574.2 904.3 L577.2 906.1 L582.2 909.3 L588.5 909.1 L593.5 905.8 L597.2 904.3 L604.7 902.1 L617.2 900.3 L632.3 901.3 L644.8 901.6 L652.3 902.8 L659.8 904.3 L667.3 905.3 L679.8 907.3 L694.8 909.8 L707.4 909.8 L717.4 910.8 L729.9 912.6 L737.4 914.3 L744.2 916.6 L749.9 918.3 L749.9 904.6 Z" fill="#f39b48" clip-path="url(#oc671p)"/>
<path d="M140 904.6 L140 876.5 L151.8 876.5 L162.5 875.5 L172.5 874.3 L185.1 876.5 L192.6 880.3 L200.1 883.6 L207.6 884.3 L215.1 882 L222.6 881 L228.9 879.3 L236.4 880.3 L243.9 879.3 L250.1 876.3 L257.6 877.5 L263.9 875.8 L271.4 873.8 L278.9 873.5 L285.7 872.5 L292.7 876 L298.9 875.5 L306.5 876.5 L314 874.8 L321.5 873.8 L327.7 874.5 L334 877 L341.5 882 L349 887.6 L354 897.1 L357.8 904.3 L364 912.8 L370.3 917.1 L377.8 920.8 L384 924.1 L391.6 933.6 L399.1 939.6 L405.3 942.1 L412.8 948.4 L419.1 949.4 L426.6 952.4 L434.1 950.9 L440.4 947.1 L447.9 947.6 L454.9 950.4 L462.9 948.4 L468.6 946.1 L475.4 952.1 L482.9 947.9 L490.4 946.1 L497.9 944.4 L505.4 941.6 L513 938.9 L520.5 935.1 L525.9 930.1 L532.1 927.9 L539.7 925.1 L547.2 916.3 L554.7 909.1 L560.9 906.8 L567.2 906.1 L574.2 904.3 L577.2 906.1 L582.2 909.3 L588.5 909.1 L593.5 905.8 L597.2 904.3 L604.7 902.1 L617.2 900.3 L632.3 901.3 L644.8 901.6 L652.3 902.8 L659.8 904.3 L667.3 905.3 L679.8 907.3 L694.8 909.8 L707.4 909.8 L717.4 910.8 L729.9 912.6 L737.4 914.3 L744.2 916.6 L749.9 918.3 L749.9 904.6 Z" fill="#1a76d4" clip-path="url(#oc671n)"/>
<line x1="151.8" y1="904.6" x2="358" y2="904.6" stroke="#c47a30" stroke-width="1"/>
<line x1="358" y1="904.6" x2="572.9" y2="904.6" stroke="#1a66b8" stroke-width="1"/>
<line x1="572.9" y1="904.6" x2="574.8" y2="904.6" stroke="#c47a30" stroke-width="1"/>
<line x1="574.8" y1="904.6" x2="596.4" y2="904.6" stroke="#1a66b8" stroke-width="1"/>
<line x1="596.4" y1="904.6" x2="662.2" y2="904.6" stroke="#c47a30" stroke-width="1"/>
<line x1="662.2" y1="904.6" x2="744" y2="904.6" stroke="#1a66b8" stroke-width="1"/>
</g>
<rect x="498.4" y="519.5" width="245.6" height="40.6" fill="#fff" stroke="#777" stroke-width="0.8"/>
<text transform="translate(736 547.2) scale(1 1.03)" font-size="24.5" text-anchor="end">b) QBOE: 1980-2014</text>
<rect x="151.8" y="519.5" width="592.3" height="450.2" fill="none" stroke="#404040" stroke-width="1.1"/>
<line x1="139.4" y1="839.1" x2="756.3" y2="839.1" stroke="#262626" stroke-width="1.25"/>
<line x1="139.4" y1="519.5" x2="151.8" y2="519.5" stroke="#404040" stroke-width="1.1"/>
<line x1="744" y1="519.5" x2="756.3" y2="519.5" stroke="#404040" stroke-width="1.1"/>
<text transform="translate(117 531.2) scale(1 1.05)" font-size="32.7" text-anchor="end">20</text>
<line x1="139.4" y1="610.4" x2="151.8" y2="610.4" stroke="#404040" stroke-width="1.1"/>
<line x1="744" y1="610.4" x2="756.3" y2="610.4" stroke="#404040" stroke-width="1.1"/>
<text transform="translate(117 622.2) scale(1 1.05)" font-size="32.7" text-anchor="end">50</text>
<line x1="139.4" y1="679.2" x2="151.8" y2="679.2" stroke="#404040" stroke-width="1.1"/>
<line x1="744" y1="679.2" x2="756.3" y2="679.2" stroke="#404040" stroke-width="1.1"/>
<text transform="translate(117 691) scale(1 1.05)" font-size="32.7" text-anchor="end">100</text>
<line x1="139.4" y1="748.1" x2="151.8" y2="748.1" stroke="#404040" stroke-width="1.1"/>
<line x1="744" y1="748.1" x2="756.3" y2="748.1" stroke="#404040" stroke-width="1.1"/>
<text transform="translate(117 759.9) scale(1 1.05)" font-size="32.7" text-anchor="end">200</text>
<line x1="139.4" y1="788.3" x2="151.8" y2="788.3" stroke="#404040" stroke-width="1.1"/>
<line x1="744" y1="788.3" x2="756.3" y2="788.3" stroke="#404040" stroke-width="1.1"/>
<text transform="translate(117 800.1) scale(1 1.05)" font-size="32.7" text-anchor="end">300</text>
<line x1="139.4" y1="839.1" x2="151.8" y2="839.1" stroke="#404040" stroke-width="1.1"/>
<line x1="744" y1="839.1" x2="756.3" y2="839.1" stroke="#404040" stroke-width="1.1"/>
<text transform="translate(117 850.9) scale(1 1.05)" font-size="32.7" text-anchor="end">500</text>
<line x1="151.8" y1="516.2" x2="151.8" y2="519.5" stroke="#404040" stroke-width="1.1"/>
<line x1="236.4" y1="507.2" x2="236.4" y2="519.5" stroke="#404040" stroke-width="1.1"/>
<line x1="236.4" y1="969.7" x2="236.4" y2="982" stroke="#404040" stroke-width="1.1"/>
<line x1="321" y1="516.2" x2="321" y2="519.5" stroke="#404040" stroke-width="1.1"/>
<line x1="405.6" y1="507.2" x2="405.6" y2="519.5" stroke="#404040" stroke-width="1.1"/>
<line x1="405.6" y1="969.7" x2="405.6" y2="982" stroke="#404040" stroke-width="1.1"/>
<line x1="490.2" y1="516.2" x2="490.2" y2="519.5" stroke="#404040" stroke-width="1.1"/>
<line x1="574.8" y1="507.2" x2="574.8" y2="519.5" stroke="#404040" stroke-width="1.1"/>
<line x1="574.8" y1="969.7" x2="574.8" y2="982" stroke="#404040" stroke-width="1.1"/>
<line x1="659.4" y1="516.2" x2="659.4" y2="519.5" stroke="#404040" stroke-width="1.1"/>
<line x1="744" y1="507.2" x2="744" y2="519.5" stroke="#404040" stroke-width="1.1"/>
<line x1="744" y1="969.7" x2="744" y2="982" stroke="#404040" stroke-width="1.1"/>
<line x1="139.4" y1="868.2" x2="151.8" y2="868.2" stroke="#404040" stroke-width="1.1"/>
<line x1="744" y1="868.2" x2="756.3" y2="868.2" stroke="#404040" stroke-width="1.1"/>
<text transform="translate(778.8 880.1) scale(1 1.05)" font-size="32.7" text-anchor="start">5</text>
<line x1="139.4" y1="904.4" x2="151.8" y2="904.4" stroke="#404040" stroke-width="1.1"/>
<line x1="744" y1="904.4" x2="756.3" y2="904.4" stroke="#404040" stroke-width="1.1"/>
<text transform="translate(778.8 916.3) scale(1 1.05)" font-size="32.7" text-anchor="start">0</text>
<line x1="139.4" y1="940.7" x2="151.8" y2="940.7" stroke="#404040" stroke-width="1.1"/>
<line x1="744" y1="940.7" x2="756.3" y2="940.7" stroke="#404040" stroke-width="1.1"/>
<text transform="translate(778.8 952.6) scale(1 1.05)" font-size="32.7" text-anchor="start">-5</text>
<g clip-path="url(#clipc)">
<path d="M930 111.3C937.5 102.1 990.1 109.5 1005.1 108.8C1020.1 108 1066.4 103.6 1080.2 103.8C1093.9 103.9 1132.7 108.9 1142.8 110C1152.8 111.1 1173.3 113.8 1180.3 115C1187.3 116.3 1207.8 121 1212.8 122.5C1217.8 124 1226.6 128.4 1230.4 130C1234.1 131.7 1251.6 137.7 1250.4 138.8C1249.1 139.9 1224.9 140.9 1217.8 141.3C1210.8 141.7 1186.6 142.1 1180.3 142.6C1174 143.1 1160.3 145.1 1155.3 146.3C1150.3 147.6 1135.2 153.2 1130.2 155.1C1125.2 156.9 1109 163.1 1105.2 165.1C1101.5 167.1 1096.5 173.6 1092.7 175.1C1088.9 176.6 1073.9 179.3 1067.7 180.1C1061.4 180.8 1036.4 182 1030.1 182.6C1023.9 183.2 1010.1 185.4 1005.1 186.4C1000.1 187.4 986 191.2 980.1 192.6C974.1 194 950.5 199.4 945.5 200.1C940.5 200.9 931.6 209 930 200.1C928.4 191.2 922.5 120.4 930 111.3Z" fill="#eafcff"/>
<path d="M930 132.5C933.8 127 960 133 967.5 133.8C975.1 134.5 998.8 139 1005.1 140C1011.3 141 1025.9 144.2 1030.1 143.8C1034.4 143.4 1042.6 137.5 1047.6 136.3C1052.6 135 1073.2 131.7 1080.2 131.3C1087.2 130.9 1111.5 132 1117.7 132.5C1124 133 1139 135.7 1142.8 136.3C1146.5 136.9 1157 137.9 1155.3 138.8C1153.5 139.7 1130.2 143.7 1125.2 145.1C1120.2 146.4 1108.5 150.8 1105.2 152.6C1102 154.3 1095.2 160.6 1092.7 162.6C1090.2 164.6 1083.9 171.3 1080.2 172.6C1076.4 173.8 1060.2 174.8 1055.2 175.1C1050.1 175.3 1035.1 174.6 1030.1 175.1C1025.1 175.6 1010.1 179.1 1005.1 180.1C1000.1 181.1 986 184.2 980.1 185.1C974.1 186 950.5 188.5 945.5 188.9C940.5 189.2 931.6 194.5 930 188.9C928.4 183.2 926.2 138 930 132.5Z" fill="#c9eefc"/>
<path d="M930 153.8C933.8 151.3 961.3 155.4 967.5 156.3C973.8 157.2 988.3 160.9 992.6 162.6C996.8 164.2 1010.1 171.3 1010.1 172.6C1010.1 173.8 996.8 174.5 992.6 175.1C988.3 175.7 972.3 178.2 967.5 178.8C962.8 179.5 949.3 181.1 945.5 181.3C941.8 181.6 931.6 184.1 930 181.3C928.4 178.6 926.2 156.3 930 153.8Z" fill="#98d9fb"/>
<path d="M930 217.6C931.6 210.1 940.5 218.4 945.5 217.6C950.5 216.9 972.9 211.9 980.1 210.1C987.3 208.4 1008.8 201.5 1017.6 200.1C1026.4 198.7 1058.9 197.1 1067.7 196.4C1076.4 195.6 1097.7 193.7 1105.2 192.6C1112.7 191.5 1136.5 186.6 1142.8 185.1C1149 183.6 1162.8 179.3 1167.8 177.6C1172.8 175.8 1189.1 169.3 1192.8 167.6C1196.6 165.8 1201.6 161.2 1205.3 160.1C1209.1 158.9 1225.4 156.6 1230.4 156.3C1235.4 156.1 1250.4 156.4 1255.4 157.6C1260.4 158.7 1279.2 165.8 1280.4 167.6C1281.7 169.3 1271.7 173.7 1267.9 175.1C1264.2 176.5 1246.6 180.2 1242.9 181.3C1239.1 182.5 1232.6 184.5 1230.4 186.4C1228.1 188.2 1222.1 197.7 1220.4 200.1C1218.6 202.5 1214.8 208.1 1212.8 210.1C1210.8 212.1 1203.6 217.6 1200.3 220.1C1197.1 222.6 1184.8 232.7 1180.3 235.2C1175.8 237.7 1160.3 243.2 1155.3 245.2C1150.3 247.2 1135.2 253.7 1130.2 255.2C1125.2 256.7 1110.2 259.4 1105.2 260.2C1100.2 260.9 1086.4 262.2 1080.2 262.7C1073.9 263.2 1048.9 264.2 1042.6 265.2C1036.4 266.2 1022.6 270.7 1017.6 272.7C1012.6 274.7 997.6 283.3 992.6 285.2C987.6 287.1 972.3 290.7 967.5 291.5C962.8 292.2 949.3 292.6 945.5 292.7C941.8 292.9 931.6 300.2 930 292.7C928.4 285.2 928.4 225.2 930 217.6Z" fill="#fffcce"/>
<path d="M930 222.6C931.6 217.9 940.5 223.1 945.5 222.6C950.5 222.1 972.9 219.1 980.1 217.6C987.3 216.1 1010.1 208.9 1017.6 207.6C1025.1 206.4 1046.4 205.9 1055.2 205.1C1063.9 204.4 1096.5 201.4 1105.2 200.1C1114 198.9 1136.5 194.1 1142.8 192.6C1149 191.1 1162.8 187 1167.8 185.1C1172.8 183.2 1189.1 175.8 1192.8 173.8C1196.6 171.8 1201.6 166.2 1205.3 165.1C1209.1 164 1225.4 162.6 1230.4 162.6C1235.4 162.6 1251.9 164.2 1255.4 165.1C1258.9 166 1266.7 170.1 1265.4 171.3C1264.2 172.6 1246.6 176.5 1242.9 177.6C1239.1 178.7 1230.4 180.8 1227.9 182.6C1225.4 184.4 1219.6 192.6 1217.8 195.1C1216.1 197.6 1212.8 205.1 1210.3 207.6C1207.8 210.1 1197.1 217.6 1192.8 220.1C1188.6 222.6 1172.8 230.4 1167.8 232.7C1162.8 234.9 1147.8 241.2 1142.8 242.7C1137.8 244.2 1122.7 246.9 1117.7 247.7C1112.7 248.4 1099 249.7 1092.7 250.2C1086.4 250.7 1061.4 252.2 1055.2 252.7C1048.9 253.2 1035.1 254.4 1030.1 255.2C1025.1 255.9 1010.1 258.9 1005.1 260.2C1000.1 261.4 986 266.7 980.1 267.7C974.1 268.7 950.5 270 945.5 270.2C940.5 270.5 931.6 275 930 270.2C928.4 265.5 928.4 227.4 930 222.6Z" fill="#ffdd78"/>
<path d="M930 228.9 L978.8 229.7 L972.6 250.2 L960 257.7 L930 257.7Z" fill="#ffae34"/>
<path d="M1013.9 231.4C1015.1 230.4 1047.3 226.7 1055.2 225.2C1063 223.7 1087.7 218.1 1092.7 216.4C1097.7 214.6 1101.5 209 1105.2 207.6C1109 206.3 1125.2 203.6 1130.2 202.6C1135.2 201.6 1150.3 198.9 1155.3 197.6C1160.3 196.4 1175.8 190.9 1180.3 190.1C1184.8 189.4 1197.6 189.1 1200.3 190.1C1203.1 191.1 1207.3 198.1 1207.8 200.1C1208.3 202.1 1207.6 208.1 1205.3 210.1C1203.1 212.1 1190.3 217.9 1185.3 220.1C1180.3 222.4 1160.8 230.8 1155.3 232.7C1149.8 234.5 1136.5 237.9 1130.2 238.9C1124 239.9 1099 242.9 1092.7 242.7C1086.4 242.4 1072.7 237.2 1067.7 236.4C1062.7 235.7 1048 235.7 1042.6 235.2C1037.3 234.7 1012.6 232.4 1013.9 231.4Z" fill="#ffae34"/>
<path d="M1215.3 172.6C1215.3 172.1 1227.1 170.1 1230.4 170.1C1233.6 170 1247.9 171.6 1247.9 172.1C1247.9 172.6 1233.6 175 1230.4 175.1C1227.1 175.1 1215.3 173.1 1215.3 172.6Z" fill="#ffae34"/>
<path d="M1095.2 230.2C1097.2 229 1121.7 224.9 1125.2 222.6C1128.7 220.4 1127.2 209.6 1130.2 207.6C1133.2 205.6 1150.3 203.8 1155.3 202.6C1160.3 201.5 1176.3 196.6 1180.3 196.4C1184.3 196.1 1193.3 199 1195.3 200.1C1197.3 201.2 1201.8 205.9 1200.3 207.6C1198.8 209.4 1184.8 215.6 1180.3 217.6C1175.8 219.6 1160.3 226.2 1155.3 227.7C1150.3 229.2 1135.2 232 1130.2 232.7C1125.2 233.3 1108.7 234.2 1105.2 233.9C1101.7 233.7 1093.2 231.3 1095.2 230.2Z" fill="#ff802c"/>
<path d="M1169 207.6C1169 207.3 1174 206.6 1175.3 206.6C1176.5 206.7 1181.6 207.8 1181.6 208.1C1181.6 208.4 1176.5 209.7 1175.3 209.6C1174 209.6 1169 207.9 1169 207.6Z" fill="#ec4b2e"/>
<path d="M1224 225.2C1222.7 223.4 1228.6 212.4 1231.5 210.1C1234.4 207.8 1254.7 199.5 1259 197.6C1263.4 195.7 1279.3 189.5 1284.1 187.6C1288.9 185.7 1313.6 179.3 1316.6 175.1C1319.6 170.9 1316.8 141.2 1320.4 137.5C1323.9 133.9 1348.6 132.1 1359.2 131.3C1369.7 130.5 1438.4 127 1446.8 127.5C1455.1 128.1 1454.1 136.1 1459.3 137.5C1464.5 139 1501.8 144 1509.3 145.1C1516.8 146.1 1546 143.6 1549.4 150.1C1552.7 156.5 1556.9 216.2 1549.4 222.6C1541.9 229.1 1475.1 227.2 1459.3 227.7C1443.4 228.1 1373.8 227.9 1359.2 228.2C1344.6 228.4 1293.4 229.9 1284.1 230.2C1274.7 230.4 1251.5 231.8 1246.5 231.4C1241.5 231 1225.2 226.9 1224 225.2Z" fill="#eafcff"/>
<path d="M1234 210.1C1238.3 208.1 1264 198.7 1271.5 196.4C1279.1 194 1302.1 189 1309.1 186.4C1316.1 183.7 1337.1 173.1 1341.6 170.1C1346.1 167.1 1349.9 158.3 1354.1 156.3C1358.4 154.3 1376.2 150.8 1384.2 150.1C1392.2 149.3 1424.2 148.6 1434.2 148.8C1444.3 149.1 1472.8 151.2 1484.3 152.6C1495.8 153.9 1542.9 156.1 1549.4 162.6C1555.9 169.1 1555.9 211.6 1549.4 217.6C1542.9 223.7 1500.8 222 1484.3 222.6C1467.8 223.3 1401.7 223.7 1384.2 223.9C1366.7 224.2 1321.6 225.2 1309.1 225.2C1296.6 225.2 1266.5 224.2 1259 223.9C1251.5 223.7 1237 223.4 1234 222.6C1231 221.9 1229 217.6 1229 216.4C1229 215.1 1229.7 212.1 1234 210.1Z" fill="#c9eefc"/>
<path d="M1244 210.1C1247 208.1 1276.3 199.9 1284.1 197.6C1291.8 195.4 1315.3 189.9 1321.6 187.6C1327.9 185.4 1342.9 177.6 1346.6 175.1C1350.4 172.6 1355.4 164.3 1359.2 162.6C1362.9 160.8 1376.7 158.1 1384.2 157.6C1391.7 157 1424.2 156.6 1434.2 157.1C1444.3 157.6 1475.3 161 1484.3 162.6C1493.3 164.1 1517.8 170.8 1524.4 172.6C1530.9 174.3 1546.9 176.3 1549.4 180.1C1551.9 183.9 1553.4 206.6 1549.4 210.1C1545.4 213.6 1518.3 214.3 1509.3 215.1C1500.3 216 1471.8 218.5 1459.3 218.9C1446.8 219.3 1396.7 218.8 1384.2 218.9C1371.7 219 1344.1 219.9 1334.1 220.1C1324.1 220.4 1292.1 221.6 1284.1 221.4C1276.1 221.1 1258 218.8 1254 217.6C1250 216.5 1241 212.1 1244 210.1Z" fill="#98d9fb"/>
<path d="M1255.3 208.1C1257.4 207 1290 201.4 1296.6 200.1C1303.1 198.8 1328.9 193.9 1334.1 192.6C1339.3 191.4 1355.8 186.6 1359.2 185.1C1362.5 183.6 1371 176.6 1374.2 175.1C1377.3 173.6 1391.7 168.3 1396.7 167.6C1401.7 166.9 1427.4 165.9 1434.2 166.3C1441.1 166.7 1474.7 170.4 1479.3 172.6C1483.9 174.8 1487.6 189.8 1489.3 192.6C1491 195.4 1500.8 204.7 1499.3 206.4C1497.9 208 1477.2 212 1471.8 212.6C1466.4 213.3 1441.5 213.9 1434.2 213.9C1426.9 213.9 1392.5 212.5 1384.2 212.6C1375.8 212.7 1341.4 214.8 1334.1 215.1C1326.8 215.5 1301.8 216.5 1296.6 216.4C1291.4 216.3 1275 214.6 1271.5 213.9C1268.1 213.2 1253.2 209.3 1255.3 208.1Z" fill="#6bb2e5"/>
<path d="M1215.2 307.8C1215.2 304.2 1218.7 294 1220.2 290.2C1221.7 286.5 1227.7 273.7 1230.2 270.2C1232.7 266.7 1241.5 257.9 1245.3 255.2C1249 252.4 1263 244.6 1267.8 242.7C1272.5 240.8 1285.4 237.2 1292.8 236.4C1300.2 235.7 1330 234.9 1341.6 235.2C1353.3 235.4 1397.4 238 1409.2 238.9C1421 239.8 1449.3 242.8 1459.3 243.9C1469.3 245.1 1500.3 249.3 1509.3 250.2C1518.3 251.1 1545.4 240.2 1549.4 252.7C1553.4 265.2 1577.7 363.1 1549.4 375.3C1521.1 387.6 1295.2 376.1 1266.5 375.3C1237.9 374.6 1264.4 369.3 1262.8 367.8C1261.2 366.3 1253 362.6 1250.3 360.3C1247.5 358.1 1238.3 348.8 1235.3 345.3C1232.2 341.8 1222.2 329 1220.2 325.3C1218.2 321.5 1215.2 311.3 1215.2 307.8Z" fill="#fffcce"/>
<path d="M1234 305.2C1234 301.5 1238.4 291 1240.3 287.7C1242.1 284.5 1249.3 276 1252.8 272.7C1256.3 269.5 1270 257.7 1275.3 255.2C1280.6 252.7 1298.2 248.9 1305.3 247.7C1312.5 246.4 1338.8 242.9 1346.6 242.7C1354.5 242.4 1375.4 244.8 1384.2 245.2C1392.9 245.6 1425.5 245.7 1434.2 246.4C1443 247.2 1464.3 251.3 1471.8 252.7C1479.3 254.1 1501.6 259.1 1509.3 260.2C1517.1 261.3 1545.4 252.4 1549.4 263.9C1553.4 275.5 1566.9 364.2 1549.4 375.3C1531.9 386.5 1392.2 376.1 1374.2 375.3C1356.1 374.6 1371.9 369.3 1369.2 367.8C1366.4 366.3 1351.4 361.3 1346.6 360.3C1341.9 359.3 1325.7 358.3 1321.6 357.8C1317.5 357.3 1309.5 356.1 1305.3 355.3C1301.2 354.6 1285.3 352.1 1280.3 350.3C1275.3 348.6 1259.3 340.3 1255.3 337.8C1251.3 335.3 1242.4 328.5 1240.3 325.3C1238.1 322 1234 309 1234 305.2Z" fill="#ffdd78"/>
<path d="M1269 300.2C1268.7 296.7 1277.2 288 1280.3 285.2C1283.4 282.5 1296.3 274.6 1300.3 272.7C1304.3 270.8 1315.7 267.3 1320.4 266.5C1325 265.6 1340.3 263.9 1346.6 263.9C1353 263.9 1376.7 266.6 1384.2 266.5C1391.7 266.3 1414.2 262.7 1421.7 262.7C1429.2 262.7 1451.8 265.5 1459.3 266.5C1466.8 267.5 1491.1 271.3 1496.8 272.7C1502.6 274.1 1513.6 278.2 1516.8 280.2C1520.1 282.2 1526.1 291 1529.4 292.7C1532.6 294.5 1547.4 294.5 1549.4 297.7C1551.4 301 1552.1 322.3 1549.4 325.3C1546.6 328.3 1526.4 326.3 1521.8 327.8C1517.3 329.3 1508.1 337.5 1504.3 340.3C1500.6 343 1488.8 353.1 1484.3 355.3C1479.8 357.6 1464.3 361.8 1459.3 362.8C1454.3 363.8 1439.2 365.3 1434.2 365.3C1429.2 365.3 1414.2 364.1 1409.2 362.8C1404.2 361.6 1389.2 355.1 1384.2 352.8C1379.2 350.6 1364.2 342 1359.2 340.3C1354.1 338.5 1339.1 336 1334.1 335.3C1329.1 334.5 1314.1 334.3 1309.1 332.8C1304.1 331.3 1288.1 323.5 1284.1 320.3C1280.1 317 1269.4 303.7 1269 300.2Z" fill="#ffae34"/>
<path d="M1370.4 315.3C1370.4 312.3 1384.3 303.1 1389.2 300.2C1394.1 297.4 1412.7 288.2 1419.2 286.5C1425.7 284.7 1447.8 282.3 1454.3 282.7C1460.8 283.1 1480 288 1484.3 290.2C1488.6 292.5 1495.3 302.7 1496.8 305.2C1498.3 307.8 1500.6 312.8 1499.3 315.3C1498.1 317.8 1486.8 327.3 1484.3 330.3C1481.8 333.3 1476.8 342.8 1474.3 345.3C1471.8 347.8 1463.3 353.8 1459.3 355.3C1455.3 356.8 1439.2 361.1 1434.2 360.3C1429.2 359.6 1413.7 350.8 1409.2 347.8C1404.7 344.8 1393.1 333.5 1389.2 330.3C1385.3 327 1370.4 318.3 1370.4 315.3Z" fill="#ff802c"/>
<path d="M1147.8 280.2C1148.8 277.9 1158.8 273.4 1162.8 272.7C1166.8 272 1176.5 273.2 1177.8 275.2C1179.1 277.2 1175.8 285.7 1172.8 287.7C1169.8 289.7 1158.6 291.2 1155.3 290.2C1151.9 289.2 1146.8 282.6 1147.8 280.2Z" fill="#eafcff"/>
<path d="M1060.2 315.3C1058.5 311.9 1074.2 307.3 1080.2 305.2C1086.2 303.2 1097.9 299.9 1105.2 300.2C1112.6 300.6 1130.9 304.4 1135.2 307.8C1139.6 311.1 1140.1 321.6 1137.8 325.3C1135.4 328.9 1123.7 334.6 1117.7 335.3C1111.7 336 1100.4 332.9 1092.7 330.3C1085 327.6 1061.8 318.6 1060.2 315.3Z" fill="#eafcff"/>
<g fill="#d2683b" fill-opacity="0.92"><circle cx="1128.7" cy="249.5" r="2.55"/><circle cx="1144.8" cy="249.5" r="2.55"/><circle cx="1120.7" cy="241.5" r="2.55"/><circle cx="1136.7" cy="241.5" r="2.55"/><circle cx="1152.8" cy="241.5" r="2.55"/><circle cx="1128.7" cy="233.4" r="2.55"/><circle cx="1144.8" cy="233.4" r="2.55"/><circle cx="1160.8" cy="233.4" r="2.55"/><circle cx="1176.9" cy="233.4" r="2.55"/><circle cx="1152.8" cy="225.4" r="2.55"/><circle cx="1168.9" cy="225.4" r="2.55"/><circle cx="1184.9" cy="225.4" r="2.55"/><circle cx="1176.9" cy="217.3" r="2.55"/><circle cx="1193" cy="217.3" r="2.55"/><circle cx="1168.9" cy="209.3" r="2.55"/><circle cx="1184.9" cy="209.3" r="2.55"/><circle cx="1201" cy="209.3" r="2.55"/><circle cx="1345.6" cy="209.3" r="2.55"/><circle cx="1281.3" cy="225.4" r="2.55"/><circle cx="1458.1" cy="289.7" r="2.55"/><circle cx="1474.1" cy="289.7" r="2.55"/><circle cx="1490.2" cy="289.7" r="2.55"/><circle cx="1450" cy="297.7" r="2.55"/><circle cx="1466.1" cy="297.7" r="2.55"/><circle cx="1482.2" cy="297.7" r="2.55"/><circle cx="1498.2" cy="297.7" r="2.55"/><circle cx="1442" cy="305.8" r="2.55"/><circle cx="1458.1" cy="305.8" r="2.55"/><circle cx="1474.1" cy="305.8" r="2.55"/><circle cx="1490.2" cy="305.8" r="2.55"/><circle cx="1434" cy="313.8" r="2.55"/><circle cx="1450" cy="313.8" r="2.55"/><circle cx="1466.1" cy="313.8" r="2.55"/><circle cx="1482.2" cy="313.8" r="2.55"/><circle cx="1498.2" cy="313.8" r="2.55"/><circle cx="1425.9" cy="321.9" r="2.55"/><circle cx="1442" cy="321.9" r="2.55"/><circle cx="1458.1" cy="321.9" r="2.55"/><circle cx="1474.1" cy="321.9" r="2.55"/><circle cx="1490.2" cy="321.9" r="2.55"/><circle cx="1417.9" cy="329.9" r="2.55"/><circle cx="1434" cy="329.9" r="2.55"/><circle cx="1450" cy="329.9" r="2.55"/><circle cx="1466.1" cy="329.9" r="2.55"/><circle cx="1482.2" cy="329.9" r="2.55"/><circle cx="1409.9" cy="337.9" r="2.55"/><circle cx="1425.9" cy="337.9" r="2.55"/><circle cx="1442" cy="337.9" r="2.55"/><circle cx="1458.1" cy="337.9" r="2.55"/><circle cx="1474.1" cy="337.9" r="2.55"/><circle cx="1490.2" cy="337.9" r="2.55"/><circle cx="1417.9" cy="346" r="2.55"/><circle cx="1434" cy="346" r="2.55"/><circle cx="1450" cy="346" r="2.55"/><circle cx="1466.1" cy="346" r="2.55"/><circle cx="1482.2" cy="346" r="2.55"/><circle cx="1409.9" cy="354" r="2.55"/><circle cx="1425.9" cy="354" r="2.55"/><circle cx="1442" cy="354" r="2.55"/><circle cx="1458.1" cy="354" r="2.55"/><circle cx="1474.1" cy="354" r="2.55"/><circle cx="1417.9" cy="362.1" r="2.55"/><circle cx="1434" cy="362.1" r="2.55"/><circle cx="1450" cy="362.1" r="2.55"/><circle cx="1466.1" cy="362.1" r="2.55"/></g>
<path d="M940 89.3C945.4 89.2 969.7 88.7 980.1 88.1C990.4 87.4 1007.6 85.2 1017.6 84.6C1027.6 83.9 1045.1 82.8 1055.2 83.1C1065.2 83.3 1082.7 85.4 1092.7 86.3C1102.7 87.3 1120.2 89.2 1130.2 90.1C1140.3 91 1157.8 92.5 1167.8 93.1C1177.8 93.6 1195.3 94.6 1205.3 94.3C1215.3 94.1 1232.2 92.8 1242.9 91.3C1253.6 89.9 1273.3 84.8 1285.4 83.3C1297.6 81.8 1317.6 79.7 1334.1 80.1C1350.6 80.5 1393.9 85.1 1409.2 86.3C1424.6 87.6 1439.2 88.8 1449.3 89.3C1459.3 89.8 1472 89.6 1484.3 90.1C1496.7 90.6 1534.2 92.7 1541.9 93.1" fill="none" stroke="#ff3a3a" stroke-width="1.05" stroke-opacity="0.58"/>
<path d="M940 121.3C948.7 120.8 986.4 118.8 1005.1 118C1023.8 117.3 1060.2 116.1 1080.2 115.5C1100.2 115 1135.2 114.3 1155.3 113.8C1175.3 113.2 1205.5 111.8 1230.4 111.3C1255.3 110.8 1321.5 110.3 1342 110C1362.5 109.7 1368.5 109.1 1384.2 108.8C1399.8 108.4 1442.6 107.7 1459.3 107.5C1476 107.3 1498.3 107.2 1509.3 107.5C1520.3 107.8 1537.5 109.2 1541.9 109.5" fill="none" stroke="#ff3a3a" stroke-width="1.05" stroke-opacity="0.58"/>
<path d="M940 153.8C945.4 154.3 970.7 155.9 980.1 157.6C989.4 159.2 1004.1 164.3 1010.1 166.3C1016.1 168.3 1025.8 171.4 1025.1 172.6C1024.4 173.8 1012.8 174.2 1005.1 175.1C997.4 176 976.2 178.7 967.5 179.6C958.9 180.5 943.7 181.8 940 182.1" fill="none" stroke="#ff3a3a" stroke-width="1.05" stroke-opacity="0.58"/>
<path d="M1541.9 194.6C1535.9 193.9 1507.8 190.2 1496.8 189.6C1485.8 189 1471 189.7 1459.3 190.1C1447.6 190.5 1422.6 192.1 1409.2 192.6C1395.9 193.1 1372.5 193.5 1359.2 193.9C1345.8 194.2 1320.8 194.3 1309.1 195.1C1297.4 195.9 1281.6 198.1 1271.5 200.1C1261.5 202.1 1241.2 208.5 1234 210.1C1226.8 211.7 1222.3 211.9 1217.8 212.1C1213.4 212.4 1204.7 212.5 1200.3 211.9C1196 211.3 1188.6 209.5 1185.3 207.6C1182 205.7 1178.3 200.3 1175.3 197.6C1172.3 194.9 1167.1 189.8 1162.8 187.6C1158.4 185.4 1149.8 182.9 1142.8 181.3C1135.7 179.8 1116.7 177.6 1110.2 176.3C1103.8 175.1 1095.1 174.9 1094.4 172.1C1093.8 169.3 1102.1 159.4 1105.2 155.1C1108.3 150.7 1111.1 142.1 1117.7 139.3C1124.4 136.5 1143.6 135 1155.3 133.8C1167 132.6 1192 130.7 1205.3 130.5C1218.7 130.4 1237.2 132.1 1255.4 132.5C1273.6 133 1324.8 134.3 1342 133.8C1359.2 133.3 1371.9 130 1384.2 128.8C1396.5 127.6 1420.9 125.7 1434.2 125C1447.6 124.4 1470 123.8 1484.3 123.8C1498.7 123.7 1534.2 124.4 1541.9 124.5" fill="none" stroke="#ff3a3a" stroke-width="1.05" stroke-opacity="0.58"/>
<path d="M1541.9 138.8C1535.9 138.6 1507.8 137.5 1496.8 137.5C1485.8 137.5 1465.9 137.8 1459.3 138.8C1452.6 139.8 1451.8 143.6 1446.8 145.1C1441.8 146.6 1430.1 149.1 1421.7 150.1C1413.4 151.1 1394.8 151.9 1384.2 152.6C1373.5 153.2 1354 154.6 1341.9 154.8C1329.7 155 1304.5 153.8 1292.9 153.8C1281.4 153.8 1264.1 154.4 1255.4 155.1C1246.7 155.7 1233.5 156.6 1227.9 158.8C1222.2 161.1 1213.2 169.1 1212.8 172.1C1212.5 175.1 1219.7 179.9 1225.4 181.3C1231 182.8 1246.4 182.6 1255.4 182.6C1264.4 182.6 1281.4 181.7 1292.9 181.3C1304.5 181 1329.8 180.6 1342 180.1C1354.2 179.6 1371.9 178.3 1384.2 177.6C1396.5 176.9 1420.9 175.6 1434.2 175.1C1447.6 174.6 1472.6 173.7 1484.3 173.8C1496 174 1514.2 175.7 1521.8 176.3C1529.5 177 1539.2 178.5 1541.9 178.8" fill="none" stroke="#ff3a3a" stroke-width="1.05" stroke-opacity="0.58"/>
<path d="M940 201.4C945.4 201 969.7 199.7 980.1 198.9C990.4 198 1008.3 195.6 1017.6 195.1C1027 194.6 1041.8 194.3 1050.1 195.1C1058.5 195.9 1072.8 200.2 1080.2 201.4C1087.5 202.5 1096.9 203.4 1105.2 203.9C1113.6 204.4 1132.7 204.3 1142.8 205.1C1152.8 206 1172 209.3 1180.3 210.1C1188.6 211 1199.3 212.1 1205.3 211.4C1211.3 210.7 1220.4 207 1225.4 205.1C1230.4 203.3 1237.2 199.1 1242.9 197.6C1248.6 196.1 1259.6 194.8 1267.9 193.9C1276.3 192.9 1295.6 191.4 1305.5 190.6C1315.3 189.8 1331.4 188.2 1341.9 187.6C1352.4 187 1371.9 186.9 1384.2 186.4C1396.5 185.9 1420.9 184.4 1434.2 183.9C1447.6 183.4 1472.6 182.4 1484.3 182.6C1496 182.8 1514.2 184.4 1521.8 185.1C1529.5 185.8 1539.2 187.3 1541.9 187.6" fill="none" stroke="#ff3a3a" stroke-width="1.05" stroke-opacity="0.58"/>
<path d="M940 217.6C945.4 217.5 971.4 216.9 980.1 216.4C988.7 215.9 997.7 214.4 1005.1 213.9C1012.4 213.4 1025.1 212.3 1035.1 212.6C1045.1 213 1067.5 215.4 1080.2 216.4C1092.9 217.4 1118.6 219.3 1130.2 220.1C1141.9 221 1159.4 221.8 1167.8 222.6C1176.1 223.5 1186.1 226.2 1192.8 226.4C1199.5 226.6 1212.4 224.8 1217.8 223.9C1223.3 223 1226.7 221.1 1233.9 219.6C1241 218.1 1261.5 214.4 1271.5 212.6C1281.6 210.9 1299.1 207.7 1309.1 206.4C1319.1 205 1336.6 203.2 1346.6 202.6C1356.6 202.1 1372.5 202.5 1384.2 202.1C1395.9 201.8 1420.9 200.7 1434.2 200.1C1447.6 199.5 1474.3 198 1484.3 197.6C1494.3 197.3 1501.7 196.9 1509.3 197.6C1517 198.4 1537.5 202.4 1541.9 203.1" fill="none" stroke="#ff3a3a" stroke-width="1.05" stroke-opacity="0.58"/>
<path d="M945.5 269C946.8 268.7 950.4 267 955 267.2C959.6 267.4 973.4 269.5 980.1 270.2C986.7 270.9 998.4 272 1005.1 272.7C1011.8 273.4 1023.4 275.5 1030.1 275.2C1036.8 274.9 1048.5 271.7 1055.2 270.2C1061.8 268.7 1073.5 264.8 1080.2 263.9C1086.9 263.1 1098.5 263.8 1105.2 263.9C1111.9 264 1123.6 265.2 1130.2 264.7C1136.9 264.2 1148.6 261.8 1155.3 260.2C1161.9 258.6 1173.6 254.9 1180.3 252.7C1187 250.5 1198.7 246 1205.3 243.9C1212 241.9 1223.7 238.5 1230.4 237.2C1237 235.8 1247.1 234.3 1255.4 233.9C1263.7 233.5 1285.8 233.9 1292.9 233.9C1300.1 233.9 1300.3 234.4 1309.1 233.9C1317.9 233.4 1345.8 230.7 1359.2 230.2C1372.5 229.6 1395.9 229.8 1409.2 229.7C1422.6 229.5 1445.9 229.5 1459.3 228.9C1472.6 228.3 1498.3 225.7 1509.3 225.2C1520.3 224.6 1537.5 224.7 1541.9 224.7" fill="none" stroke="#4040ff" stroke-width="1.05" stroke-dasharray="11 6" stroke-opacity="0.6"/>
<path d="M945.5 309.8C946.8 309.5 952.1 307.7 955 307.8C958 307.8 962.5 308.9 967.5 310.3C972.6 311.6 987.6 317.4 992.6 317.8C997.6 318.1 1000.1 313.4 1005.1 312.8C1010.1 312.1 1023.4 312.6 1030.1 312.8C1036.8 312.9 1050.1 313.2 1055.2 314C1060.2 314.8 1062.7 317.8 1067.7 319C1072.7 320.2 1086 321.3 1092.7 322.8C1099.4 324.3 1111.1 328.3 1117.7 330.3C1124.4 332.3 1136.1 336 1142.8 337.8C1149.4 339.6 1162.8 342.4 1167.8 344C1172.8 345.7 1177 348.1 1180.3 350.3C1183.6 352.5 1187.8 358.6 1192.8 360.3C1197.8 362 1211.2 362.7 1217.8 362.8C1224.5 363 1236.2 361.9 1242.9 361.6C1249.6 361.2 1261.2 361 1267.9 360.3C1274.6 359.6 1283.1 356.9 1292.9 356.6C1302.8 356.2 1333.2 357 1342 357.8C1350.8 358.6 1354.9 361.3 1359.2 362.8C1363.4 364.3 1372.2 368.2 1374.2 369.1" fill="none" stroke="#4040ff" stroke-width="1.05" stroke-dasharray="11 6" stroke-opacity="0.6"/>
<path d="M945.5 346.5C947.5 347.7 955.4 353 960 355.3C964.6 357.6 974.4 362.2 980.1 364.1C985.7 365.9 999.6 368.4 1002.6 369.1" fill="none" stroke="#4040ff" stroke-width="1.05" stroke-dasharray="11 6" stroke-opacity="0.6"/>
<path d="M1234 361.6C1237.3 361.6 1252.4 362.1 1259 361.6C1265.7 361.1 1277.4 358.5 1284.1 357.8C1290.7 357.1 1302.4 356.4 1309.1 356.6C1315.8 356.7 1330.8 358.7 1334.1 359.1" fill="none" stroke="#4040ff" stroke-width="1.05" stroke-dasharray="11 6" stroke-opacity="0.6"/>
<path d="M1434.2 344C1437.6 343.5 1452.6 341.5 1459.3 340.3C1465.9 339.1 1478.3 337.1 1484.3 335.3C1490.3 333.4 1500 327.9 1504.3 326.5C1508.7 325.2 1513.5 324.9 1516.8 325.3C1520.2 325.6 1526.9 327.7 1529.4 329C1531.9 330.4 1534.8 334.5 1535.6 335.3" fill="none" stroke="#4040ff" stroke-width="1.05" stroke-dasharray="11 6" stroke-opacity="0.6"/>
<path d="M1434.2 346.5C1435.2 348.4 1439.4 357.3 1441.8 360.3C1444.1 363.3 1450.4 367.9 1451.8 369.1" fill="none" stroke="#4040ff" stroke-width="1.05" stroke-dasharray="11 6" stroke-opacity="0.6"/>
<path d="M1524.4 369.1C1525.7 367.2 1532.5 357.8 1534.4 355.3C1536.2 352.8 1537.6 351 1538.1 350.3" fill="none" stroke="#4040ff" stroke-width="1.05" stroke-dasharray="11 6" stroke-opacity="0.6"/>
<path d="M943 253.8L946.7 249.7M948.5 247.6L946.8 253L946.7 249.7L943.4 250ZM961.8 242L968.1 250.9M970.4 254.2L963.4 250L968.1 250.9L968.8 246.2ZM1099.9 242L1099.9 250.2M1099.9 254.2L1096.6 246.8L1099.9 250.2L1103.2 246.8ZM1138.7 241.1L1134.7 251M1133.2 254.7L1132.9 246.6L1134.7 251L1139.1 249.1ZM1161 241.1L1154.5 251.9M1152.4 255.3L1153.4 247.2L1154.5 251.9L1159 250.7ZM1182.5 242.9L1175.5 250.8M1172.8 253.8L1175.2 246.1L1175.5 250.8L1180.2 250.5ZM1197.1 225L1189.4 232.4M1186.5 235.2L1189.5 227.7L1189.4 232.4L1194.1 232.5ZM1225.7 254.7L1218.7 245.7M1216.2 242.5L1223.4 246.3L1218.7 245.7L1218.2 250.4ZM944.3 275.7L946.2 282.7M947.2 286.3L942.5 280.5L946.2 282.7L948.3 278.9ZM964 266.2L967 283.6M967.7 287.6L963.2 280.8L967 283.6L969.7 279.7ZM1006.3 269.9L1009.3 279.6M1010.5 283.4L1005.2 277.3L1009.3 279.6L1011.5 275.3ZM1027.8 270.2L1030.1 279.5M1031.1 283.4L1026.1 277L1030.1 279.5L1032.5 275.4ZM1049.4 269.3L1051.2 280M1051.9 283.9L1047.4 277.2L1051.2 280L1053.9 276.1ZM1071.2 270.2L1072.5 279M1073.1 283L1068.7 276.2L1072.5 279L1075.3 275.2ZM1092.6 262L1093.4 287.2M1093.5 291.2L1090 283.9L1093.4 287.2L1096.6 283.7ZM1113.9 264.8L1114.1 284.5M1114.1 288.5L1110.7 281.1L1114.1 284.5L1117.3 281.1ZM1135.4 263.9L1135 285.9M1134.9 289.9L1131.7 282.5L1135 285.9L1138.3 282.6ZM1185.6 283.9L1184.7 274.2M1184.3 270.2L1188.3 277.3L1184.7 274.2L1181.7 277.9ZM1206.6 290.3L1205 267.9M1204.7 263.9L1208.5 271L1205 267.9L1201.9 271.5ZM1227.5 292.1L1225.9 261.1M1225.7 257.1L1229.4 264.3L1225.9 261.1L1222.8 264.7ZM1155.9 290.3L1156.7 303.1M1157 307.1L1153.2 299.9L1156.7 303.1L1159.8 299.5ZM944.3 324L946.2 329.3M947.2 331.9L943.2 327.8L946.2 329.3L947.6 326.2ZM965.8 308.9L966.1 321M966.2 325L962.7 317.6L966.1 321L969.3 317.5ZM993.7 307.6L994.7 321.9M995 325.9L991.2 318.7L994.7 321.9L997.8 318.3ZM1014.7 304L1015.8 326.1M1016 330.1L1012.3 322.8L1015.8 326.1L1018.9 322.5ZM1036 306.4L1036.8 323.1M1037 327.1L1033.3 319.9L1036.8 323.1L1039.9 319.6ZM1057 302.2L1058.1 328.3M1058.3 332.2L1054.7 325L1058.1 328.3L1061.3 324.7ZM1078.3 303.1L1079.3 327.3M1079.4 331.3L1075.9 324.1L1079.3 327.3L1082.5 323.8ZM1099 296.7L1100.6 332.8M1100.8 336.8L1097.1 329.6L1100.6 332.8L1103.7 329.3ZM1119.9 302.7L1121.5 327.3M1121.8 331.3L1118 324.2L1121.5 327.3L1124.6 323.7ZM1141.3 302.7L1143 327.3M1143.3 331.3L1139.5 324.2L1143 327.3L1146 323.7ZM1183.8 328.2L1185.2 311.1M1185.6 307.1L1188.2 314.7L1185.2 311.1L1181.7 314.2ZM1205.1 332.2L1205.9 305.2M1206 301.2L1209.1 308.7L1205.9 305.2L1202.5 308.5ZM1226.6 343.2L1227 297M1227 293L1230.2 300.5L1227 297L1223.6 300.4ZM965.8 335.5L966.3 352M966.4 356L962.9 348.6L966.3 352L969.5 348.5ZM994.1 338.6L994.5 347.9M994.6 351.9L991 344.7L994.5 347.9L997.6 344.4ZM1015.1 335L1015.8 352M1016 356L1012.4 348.7L1015.8 352L1019 348.4ZM1036.4 334.4L1036.9 352.3M1037 356.3L1033.5 349L1036.9 352.3L1040.1 348.8ZM1057.6 332.2L1057.9 356.5M1057.9 360.5L1054.5 353.2L1057.9 356.5L1061.1 353.1ZM1078.5 331.3L1079.3 356M1079.4 360L1075.9 352.7L1079.3 356L1082.5 352.5ZM1099.5 330.4L1100.6 360.7M1100.8 364.7L1097.2 357.4L1100.6 360.7L1103.8 357.2ZM1120.3 330.4L1121.9 356.5M1122.1 360.5L1118.4 353.3L1121.9 356.5L1125 352.9ZM1140.9 333.7L1142.9 353.4M1143.3 357.4L1139.3 350.4L1142.9 353.4L1145.8 349.7ZM1182.5 353.2L1184.8 342.5M1185.6 338.6L1187.3 346.6L1184.8 342.5L1180.8 345.2ZM1203.8 360.5L1206.6 335.9M1207.1 331.9L1209.5 339.6L1206.6 335.9L1203 338.9ZM1226.3 369.6L1227.9 325.3M1228.1 321.3L1231.1 328.8L1227.9 325.3L1224.5 328.6ZM944.3 355L945.9 360.5M946.7 363.3L942.9 358.8L945.9 360.5L947.5 357.5ZM966.2 356.9L966.3 373.8M966.4 377.8L963 370.5L966.3 373.8L969.6 370.4ZM1008.1 359.2L1008.3 371.1M1008.3 375.1L1004.9 367.7L1008.3 371.1L1011.5 367.7ZM1029.7 359.6L1029.8 371.1M1029.8 375.1L1026.5 367.7L1029.8 371.1L1033.1 367.7ZM1050.6 353.2L1050.9 377.5M1051 381.5L1047.6 374.1L1050.9 377.5L1054.2 374ZM1071.6 356.3L1071.9 373.8M1072 377.8L1068.5 370.5L1071.9 373.8L1075.1 370.4ZM1092.2 346.8L1093 383.9M1093.1 387.9L1089.7 380.5L1093 383.9L1096.3 380.4ZM1113.5 351.4L1114.7 379.3M1114.8 383.3L1111.2 376.1L1114.7 379.3L1117.8 375.8ZM1133.6 352.3L1135.5 378.4M1135.8 382.4L1132 375.3L1135.5 378.4L1138.6 374.8ZM1154.2 357.4L1156 373M1156.4 376.9L1152.3 369.9L1156 373L1158.9 369.2ZM1182.8 372.4L1185 365.3M1186.1 361.8L1187 369.3L1185 365.3L1181.2 367.4ZM1205.6 375.1L1207 363.6M1207.5 359.6L1209.9 367.3L1207 363.6L1203.3 366.6ZM1227 387.9L1228.3 350.8M1228.4 346.8L1231.5 354.4L1228.3 350.8L1224.9 354.1ZM1243 260.2L1240.5 241.7M1239.9 237.8L1244.2 244.7L1240.5 241.7L1237.7 245.6ZM1264.2 257.8L1261.6 243.5M1260.9 239.6L1265.4 246.3L1261.6 243.5L1258.9 247.5ZM1284.6 259.7L1282.8 241M1282.4 237.1L1286.4 244.1L1282.8 241L1279.8 244.7ZM1305 258.4L1304 243.2M1303.7 239.2L1307.5 246.4L1304 243.2L1300.9 246.8ZM1326 256L1325.5 245.1M1325.3 241.1L1328.9 248.3L1325.5 245.1L1322.3 248.6ZM1249 297.6L1247.4 261.8M1247.2 257.8L1250.8 265.1L1247.4 261.8L1244.2 265.4ZM1270 294.9L1268.7 263.7M1268.5 259.7L1272.1 266.9L1268.7 263.7L1265.6 267.2ZM1291 288.5L1290.2 269.7M1290.1 265.7L1293.7 272.9L1290.2 269.7L1287.1 273.2ZM1311.9 288.8L1311.5 269.7M1311.4 265.7L1314.9 273L1311.5 269.7L1308.3 273.2ZM1332.9 285.7L1332.6 272.8M1332.6 268.8L1336 276.1L1332.6 272.8L1329.4 276.3ZM1521.3 283L1523.4 275M1524.4 271.2L1525.7 279.1L1523.4 275L1519.3 277.5ZM1247.8 337.7L1248.4 300.7M1248.5 296.7L1251.7 304.1L1248.4 300.7L1245.1 304ZM1269.1 335.9L1269.4 300.7M1269.5 296.7L1272.7 304.1L1269.4 300.7L1266.1 304.1ZM1290.4 330.4L1290.6 307.4M1290.6 303.4L1293.9 310.9L1290.6 307.4L1287.3 310.8ZM1311.6 329.5L1311.6 303.8M1311.6 299.8L1314.9 307.2L1311.6 303.8L1308.3 307.2ZM1332.6 329L1332.6 309.8M1332.6 305.8L1335.9 313.2L1332.6 309.8L1329.3 313.2ZM1507.1 325.3L1509.6 313.4M1510.4 309.5L1512.1 317.4L1509.6 313.4L1505.6 316ZM1528.6 326.8L1530.6 312.1M1531.2 308.2L1533.4 316L1530.6 312.1L1526.9 315.1ZM1247.2 365.1L1249.2 332.2M1249.4 328.2L1252.3 335.8L1249.2 332.2L1245.7 335.4ZM1268.2 369.6L1270.2 329.3M1270.4 325.3L1273.3 332.9L1270.2 329.3L1266.7 332.5ZM1290.1 361.4L1291.2 333.5M1291.3 329.5L1294.3 337L1291.2 333.5L1287.7 336.8ZM1311.4 369.6L1312.2 328M1312.3 324L1315.5 331.5L1312.2 328L1308.9 331.4ZM1332.4 357.8L1332.8 335.3M1332.9 331.3L1336.1 338.8L1332.8 335.3L1329.5 338.7ZM1445.1 336.8L1445.1 351M1445.1 355L1441.8 347.6L1445.1 351L1448.4 347.6ZM1500.7 352.7L1502.3 343.1M1502.9 339.2L1505 347L1502.3 343.1L1498.4 346ZM1521.7 352.9L1523.2 343.1M1523.9 339.2L1526 347L1523.2 343.1L1519.4 346ZM1248.1 381.5L1249.7 357.2M1249.9 353.2L1252.8 360.8L1249.7 357.2L1246.2 360.4ZM1269.1 386L1271 353M1271.3 349L1274.1 356.6L1271 353L1267.5 356.2ZM1290.4 379.7L1291.7 358.1M1291.9 354.1L1294.8 361.7L1291.7 358.1L1288.2 361.3ZM1311.4 387.9L1312.4 350.5M1312.5 346.5L1315.6 354L1312.4 350.5L1309 353.8ZM1332.6 381.5L1333.2 356.9M1333.3 352.9L1336.4 360.3L1333.2 356.9L1329.8 360.2ZM1438.3 360.5L1438.3 370.2M1438.3 374.2L1435 366.8L1438.3 370.2L1441.6 366.8Z" fill="#fff" fill-opacity="0.55" stroke="#111" stroke-width="1.15" stroke-linejoin="miter"/>
</g>
<g clip-path="url(#oclipc)">
<clipPath id="oc993p"><rect x="945.4" y="353.1" width="591.8" height="80"/></clipPath>
<clipPath id="oc993n"><rect x="945.4" y="433.1" width="591.8" height="80"/></clipPath>
<path d="M930 433.1 L930 417.6 L945.5 416.8 L955 414.3 L965 413.1 L972.6 413.8 L978.8 413.1 L986.3 415.8 L992.6 415.8 L1002.6 418.1 L1008.8 418.3 L1017.6 421.3 L1023.9 423.3 L1028.9 424.1 L1036.4 422.3 L1043.9 418.3 L1050.1 416.1 L1057.7 416.6 L1063.9 417.3 L1072.7 415.3 L1080.2 414.1 L1087.7 411.6 L1092.7 409.5 L1100.2 410.5 L1106.5 412.3 L1114 412.3 L1121.5 411.8 L1127.7 410.3 L1134 413.8 L1142.8 417.6 L1150.3 422.1 L1156.5 428.1 L1161.5 430.3 L1166.5 432.8 L1171.5 435.1 L1177.8 442.6 L1184.8 452.3 L1191.6 453.4 L1199.1 453.1 L1206.1 460.1 L1212.8 458.9 L1220.4 462.6 L1227.1 466.4 L1234.1 464.9 L1241.6 468.1 L1247.9 469.4 L1255.4 468.4 L1262.4 464.4 L1269.2 472.6 L1275.4 473.4 L1282.9 470.6 L1290.4 464.4 L1297.9 465.6 L1305.5 466.9 L1313 465.9 L1320.5 462.6 L1326.7 459.4 L1334.2 457.6 L1342 454.4 L1347.9 448.8 L1354.1 442.6 L1361.7 438.1 L1369.2 433.3 L1371.7 432.8 L1379.2 431.6 L1389.2 430.3 L1396.2 429.1 L1401.7 430.8 L1409.2 430.3 L1419.2 426.3 L1431.7 421.1 L1444.3 417.8 L1454.3 416.8 L1461.8 415.3 L1469.3 416.6 L1481.8 421.8 L1494.3 425.1 L1501.8 425.8 L1509.3 425.3 L1516.8 426.6 L1526.9 429.6 L1536.9 430.6 L1544.4 430.8 L1544.4 433.1 Z" fill="#f39b48" clip-path="url(#oc993p)"/>
<path d="M930 433.1 L930 417.6 L945.5 416.8 L955 414.3 L965 413.1 L972.6 413.8 L978.8 413.1 L986.3 415.8 L992.6 415.8 L1002.6 418.1 L1008.8 418.3 L1017.6 421.3 L1023.9 423.3 L1028.9 424.1 L1036.4 422.3 L1043.9 418.3 L1050.1 416.1 L1057.7 416.6 L1063.9 417.3 L1072.7 415.3 L1080.2 414.1 L1087.7 411.6 L1092.7 409.5 L1100.2 410.5 L1106.5 412.3 L1114 412.3 L1121.5 411.8 L1127.7 410.3 L1134 413.8 L1142.8 417.6 L1150.3 422.1 L1156.5 428.1 L1161.5 430.3 L1166.5 432.8 L1171.5 435.1 L1177.8 442.6 L1184.8 452.3 L1191.6 453.4 L1199.1 453.1 L1206.1 460.1 L1212.8 458.9 L1220.4 462.6 L1227.1 466.4 L1234.1 464.9 L1241.6 468.1 L1247.9 469.4 L1255.4 468.4 L1262.4 464.4 L1269.2 472.6 L1275.4 473.4 L1282.9 470.6 L1290.4 464.4 L1297.9 465.6 L1305.5 466.9 L1313 465.9 L1320.5 462.6 L1326.7 459.4 L1334.2 457.6 L1342 454.4 L1347.9 448.8 L1354.1 442.6 L1361.7 438.1 L1369.2 433.3 L1371.7 432.8 L1379.2 431.6 L1389.2 430.3 L1396.2 429.1 L1401.7 430.8 L1409.2 430.3 L1419.2 426.3 L1431.7 421.1 L1444.3 417.8 L1454.3 416.8 L1461.8 415.3 L1469.3 416.6 L1481.8 421.8 L1494.3 425.1 L1501.8 425.8 L1509.3 425.3 L1516.8 426.6 L1526.9 429.6 L1536.9 430.6 L1544.4 430.8 L1544.4 433.1 Z" fill="#1a76d4" clip-path="url(#oc993n)"/>
<line x1="945.4" y1="433.1" x2="1167" y2="433.1" stroke="#c47a30" stroke-width="1"/>
<line x1="1167" y1="433.1" x2="1370.5" y2="433.1" stroke="#1a66b8" stroke-width="1"/>
<line x1="1370.5" y1="433.1" x2="1537.2" y2="433.1" stroke="#c47a30" stroke-width="1"/>
</g>
<rect x="1285.7" y="48.1" width="251.5" height="40.6" fill="#fff" stroke="#777" stroke-width="0.8"/>
<text transform="translate(1529.2 75.9) scale(1 1.03)" font-size="24.5" text-anchor="end">c) QBOW: 1959-1979</text>
<rect x="945.4" y="48.1" width="591.8" height="450.2" fill="none" stroke="#404040" stroke-width="1.1"/>
<line x1="933.1" y1="367.7" x2="1549.5" y2="367.7" stroke="#262626" stroke-width="1.6"/>
<line x1="933.1" y1="48.1" x2="945.4" y2="48.1" stroke="#404040" stroke-width="1.1"/>
<line x1="1537.2" y1="48.1" x2="1549.5" y2="48.1" stroke="#404040" stroke-width="1.1"/>
<text transform="translate(910.6 59.9) scale(1 1.05)" font-size="32.7" text-anchor="end">20</text>
<line x1="933.1" y1="139.1" x2="945.4" y2="139.1" stroke="#404040" stroke-width="1.1"/>
<line x1="1537.2" y1="139.1" x2="1549.5" y2="139.1" stroke="#404040" stroke-width="1.1"/>
<text transform="translate(910.6 150.9) scale(1 1.05)" font-size="32.7" text-anchor="end">50</text>
<line x1="933.1" y1="207.9" x2="945.4" y2="207.9" stroke="#404040" stroke-width="1.1"/>
<line x1="1537.2" y1="207.9" x2="1549.5" y2="207.9" stroke="#404040" stroke-width="1.1"/>
<text transform="translate(910.6 219.7) scale(1 1.05)" font-size="32.7" text-anchor="end">100</text>
<line x1="933.1" y1="276.7" x2="945.4" y2="276.7" stroke="#404040" stroke-width="1.1"/>
<line x1="1537.2" y1="276.7" x2="1549.5" y2="276.7" stroke="#404040" stroke-width="1.1"/>
<text transform="translate(910.6 288.5) scale(1 1.05)" font-size="32.7" text-anchor="end">200</text>
<line x1="933.1" y1="317" x2="945.4" y2="317" stroke="#404040" stroke-width="1.1"/>
<line x1="1537.2" y1="317" x2="1549.5" y2="317" stroke="#404040" stroke-width="1.1"/>
<text transform="translate(910.6 328.8) scale(1 1.05)" font-size="32.7" text-anchor="end">300</text>
<line x1="933.1" y1="367.7" x2="945.4" y2="367.7" stroke="#404040" stroke-width="1.1"/>
<line x1="1537.2" y1="367.7" x2="1549.5" y2="367.7" stroke="#404040" stroke-width="1.1"/>
<text transform="translate(910.6 379.5) scale(1 1.05)" font-size="32.7" text-anchor="end">500</text>
<line x1="945.4" y1="44.9" x2="945.4" y2="48.1" stroke="#404040" stroke-width="1.1"/>
<line x1="1029.9" y1="35.8" x2="1029.9" y2="48.1" stroke="#404040" stroke-width="1.1"/>
<line x1="1114.4" y1="44.9" x2="1114.4" y2="48.1" stroke="#404040" stroke-width="1.1"/>
<line x1="1199" y1="35.8" x2="1199" y2="48.1" stroke="#404040" stroke-width="1.1"/>
<line x1="1283.5" y1="44.9" x2="1283.5" y2="48.1" stroke="#404040" stroke-width="1.1"/>
<line x1="1368.1" y1="35.8" x2="1368.1" y2="48.1" stroke="#404040" stroke-width="1.1"/>
<line x1="1452.6" y1="44.9" x2="1452.6" y2="48.1" stroke="#404040" stroke-width="1.1"/>
<line x1="1537.2" y1="35.8" x2="1537.2" y2="48.1" stroke="#404040" stroke-width="1.1"/>
<line x1="933.1" y1="396.8" x2="945.4" y2="396.8" stroke="#404040" stroke-width="1.1"/>
<line x1="1537.2" y1="396.8" x2="1549.5" y2="396.8" stroke="#404040" stroke-width="1.1"/>
<text transform="translate(1571.9 408.7) scale(1 1.05)" font-size="32.7" text-anchor="start">5</text>
<line x1="933.1" y1="433.1" x2="945.4" y2="433.1" stroke="#404040" stroke-width="1.1"/>
<line x1="1537.2" y1="433.1" x2="1549.5" y2="433.1" stroke="#404040" stroke-width="1.1"/>
<text transform="translate(1571.9 445) scale(1 1.05)" font-size="32.7" text-anchor="start">0</text>
<line x1="933.1" y1="469.3" x2="945.4" y2="469.3" stroke="#404040" stroke-width="1.1"/>
<line x1="1537.2" y1="469.3" x2="1549.5" y2="469.3" stroke="#404040" stroke-width="1.1"/>
<text transform="translate(1571.9 481.2) scale(1 1.05)" font-size="32.7" text-anchor="start">-5</text>
<g clip-path="url(#clipd)">
<path d="M986.3 558.8C985.3 556.4 990.7 544.7 995.1 542.6C999.5 540.4 1022.9 537.9 1030.1 537.5C1037.4 537.2 1060.2 537.5 1067.7 538.8C1075.2 540 1100 547.7 1105.2 550.1C1110.5 552.4 1117 560.1 1120.2 562.6C1123.5 565.1 1133.5 572.3 1137.8 575.1C1142 577.8 1158.3 586.9 1162.8 590.1C1167.3 593.4 1182.3 605.4 1182.8 607.6C1183.3 609.9 1173 611.4 1167.8 612.6C1162.5 613.9 1137.8 619.5 1130.2 620.1C1122.7 620.8 1098.2 619.6 1092.7 618.9C1087.2 618.1 1077.9 614.5 1075.2 612.6C1072.4 610.8 1067.7 603.1 1065.2 600.1C1062.7 597.1 1053.1 585.4 1050.1 582.6C1047.1 579.8 1039.6 574.2 1035.1 572.6C1030.6 571 1010 567.7 1005.1 566.3C1000.2 565 987.3 561.2 986.3 558.8Z" fill="#eafcff"/>
<path d="M930 631.4C931.6 628 942.8 631 945.5 631.4C948.3 631.8 955.3 634 957.5 635.2C959.7 636.3 967.5 641.2 967.5 643.2C967.5 645.2 959.7 653 957.5 655.2C955.3 657.4 948.3 664.2 945.5 665.2C942.8 666.2 931.6 668.6 930 665.2C928.4 661.8 928.4 634.8 930 631.4Z" fill="#eafcff"/>
<path d="M1032.6 777.8C1033.4 774.2 1045.4 767.5 1050.1 765.2C1054.9 763 1074.7 757.2 1080.2 755.2C1085.7 753.2 1100.2 746.7 1105.2 745.2C1110.2 743.7 1125.2 741.5 1130.2 740.2C1135.2 739 1150.3 734.7 1155.3 732.7C1160.3 730.7 1175.3 722.4 1180.3 720.2C1185.3 717.9 1200.3 711.9 1205.3 710.2C1210.3 708.4 1225.4 703.7 1230.4 702.7C1235.4 701.7 1250.4 700.4 1255.4 700.2C1260.4 699.9 1271.8 699.9 1280.4 700.2C1289.1 700.4 1335.8 701.7 1342 702.7C1348.2 703.7 1345.7 709.2 1342 710.2C1338.3 711.2 1312.9 712.3 1305.5 712.7C1298 713 1275.4 713.4 1267.9 713.9C1260.4 714.4 1236.1 716.6 1230.4 717.7C1224.6 718.8 1213.3 722.9 1210.3 725.2C1207.3 727.4 1202.1 737 1200.3 740.2C1198.6 743.5 1194.3 754 1192.8 757.7C1191.3 761.5 1186.6 772.7 1185.3 777.8C1184.1 782.8 1181.8 803 1180.3 807.8C1178.8 812.5 1172.8 822.7 1170.3 825.3C1167.8 827.9 1159.3 833.1 1155.3 834.1C1151.3 835.1 1135.2 835.4 1130.2 835.3C1125.2 835.2 1110.2 833.8 1105.2 832.8C1100.2 831.8 1085.2 827.1 1080.2 825.3C1075.2 823.6 1058.9 817.8 1055.2 815.3C1051.4 812.8 1044.9 804 1042.6 800.3C1040.4 796.5 1031.9 781.3 1032.6 777.8Z" fill="#eafcff"/>
<path d="M1065.2 787.8C1064.7 784.8 1076.2 774.9 1080.2 772.7C1084.2 770.6 1100.2 767.2 1105.2 766.5C1110.2 765.7 1126.2 764.9 1130.2 765.2C1134.2 765.6 1143.9 768 1145.3 770.2C1146.6 772.5 1145.5 785 1144 787.8C1142.5 790.5 1134.1 795.9 1130.2 797.8C1126.4 799.7 1109.7 806 1105.2 806.5C1100.7 807 1089.2 804.7 1085.2 802.8C1081.2 800.9 1065.7 790.8 1065.2 787.8Z" fill="#c9eefc"/>
<path d="M930 698.9C933.8 691.6 961.5 695.9 967.5 695.2C973.6 694.4 987.1 692.4 990.1 691.4C993.1 690.4 995.3 687 997.6 685.1C999.8 683.3 1009.3 674.6 1012.6 672.6C1015.9 670.6 1025.9 666.5 1030.1 665.1C1034.4 663.7 1050.1 659.9 1055.2 658.9C1060.2 657.9 1073.9 656 1080.2 655.1C1086.4 654.2 1110.7 651.2 1117.7 650.1C1124.7 649 1145.3 645.2 1150.3 643.8C1155.3 642.5 1163.5 638 1167.8 636.3C1172 634.7 1186.6 628.9 1192.8 627.6C1199.1 626.2 1222.9 623.1 1230.4 622.6C1237.9 622 1261.7 621.8 1267.9 622.1C1274.2 622.3 1288.7 624.1 1292.9 625.1C1297.2 626 1307.7 629.8 1310.5 631.3C1313.2 632.8 1322.2 638.5 1320.5 640.1C1318.7 641.7 1298.2 646.3 1292.9 647.6C1287.7 648.8 1272.9 651.3 1267.9 652.6C1262.9 653.9 1247.4 658.4 1242.9 660.1C1238.4 661.9 1226.1 667.9 1222.9 670.1C1219.6 672.4 1212.6 680.1 1210.3 682.6C1208.1 685.1 1203.3 692.4 1200.3 695.2C1197.3 697.9 1184.8 707.4 1180.3 710.2C1175.8 712.9 1160.3 720.9 1155.3 722.7C1150.3 724.4 1135.2 726.9 1130.2 727.7C1125.2 728.4 1110.2 729.7 1105.2 730.2C1100.2 730.7 1085.2 733.2 1080.2 732.7C1075.2 732.2 1060.2 726.9 1055.2 725.2C1050.1 723.4 1035.1 716.8 1030.1 715.2C1025.1 713.5 1009.6 709.4 1005.1 708.9C1000.6 708.4 988.1 709 985.1 710.2C982.1 711.3 976.8 717.2 975.1 720.2C973.3 723.2 969.3 736.2 967.5 740.2C965.8 744.2 959.7 757.6 957.5 760.2C955.3 762.9 948.3 765.7 945.5 766.5C942.8 767.2 931.6 774.5 930 767.7C928.4 761 926.2 706.2 930 698.9Z" fill="#fffcce"/>
<path d="M1030.1 697.7C1029.6 695.4 1030.6 685.1 1032.6 682.6C1034.6 680.1 1045.4 674.1 1050.1 672.6C1054.9 671.1 1073.4 668.9 1080.2 667.6C1086.9 666.4 1110.7 661.6 1117.7 660.1C1124.7 658.6 1145.3 654.2 1150.3 652.6C1155.3 651 1164 645.7 1167.8 643.8C1171.5 642 1181.6 635.4 1187.8 633.8C1194.1 632.3 1222.4 628.6 1230.4 628.1C1238.4 627.5 1261.7 627.6 1267.9 628.1C1274.2 628.5 1288.9 631.4 1292.9 632.6C1296.9 633.8 1309.2 638.6 1308 640.1C1306.7 641.6 1285.7 646.3 1280.4 647.6C1275.2 648.8 1259.9 651.6 1255.4 652.6C1250.9 653.6 1239.1 656.1 1235.4 657.6C1231.6 659.1 1220.6 665.4 1217.8 667.6C1215.1 669.9 1210.3 677.4 1207.8 680.1C1205.3 682.9 1196.8 692.1 1192.8 695.2C1188.8 698.2 1172.8 707.9 1167.8 710.2C1162.8 712.4 1149 716.6 1142.8 717.7C1136.5 718.8 1111.5 721.2 1105.2 721.4C1099 721.7 1085.2 721.1 1080.2 720.2C1075.2 719.3 1059.4 714.2 1055.2 712.7C1050.9 711.2 1040.1 706.7 1037.6 705.2C1035.1 703.7 1030.6 699.9 1030.1 697.7Z" fill="#ffdd78"/>
<path d="M1055.2 700.2C1054.4 697.9 1060.2 687.6 1062.7 685.1C1065.2 682.6 1074.7 676.9 1080.2 675.1C1085.7 673.4 1110.2 669.4 1117.7 667.6C1125.2 665.9 1149 659.6 1155.3 657.6C1161.5 655.6 1176.5 649.3 1180.3 647.6C1184.1 645.8 1187.8 641.5 1192.8 640.1C1197.8 638.7 1222.9 634.5 1230.4 633.8C1237.9 633.2 1262.4 633.5 1267.9 633.8C1273.4 634.2 1282.7 636.7 1285.4 637.6C1288.2 638.5 1297.2 641.6 1295.4 642.6C1293.7 643.6 1273.2 646.7 1267.9 647.6C1262.7 648.5 1247.6 650.3 1242.9 651.3C1238.1 652.3 1223.9 655.7 1220.4 657.6C1216.8 659.5 1210.1 667.6 1207.8 670.1C1205.6 672.6 1200.6 680.1 1197.8 682.6C1195.1 685.1 1184.6 692.9 1180.3 695.2C1176 697.4 1160.3 703.7 1155.3 705.2C1150.3 706.7 1136.5 709.4 1130.2 710.2C1124 710.9 1098.7 712.9 1092.7 712.7C1086.7 712.4 1073.9 708.9 1070.2 707.7C1066.4 706.4 1055.9 702.4 1055.2 700.2Z" fill="#ffae34"/>
<path d="M1073.9 697.7C1073.9 695.4 1082.1 682.6 1085.2 680.1C1088.3 677.6 1099.5 674.3 1105.2 672.6C1111 671 1135.7 665.1 1142.8 663.9C1149.8 662.6 1170.8 660.2 1175.3 660.1C1179.8 660 1185.8 661.1 1187.8 662.6C1189.8 664.1 1195.6 673.1 1195.3 675.1C1195.1 677.1 1188.1 681.1 1185.3 682.6C1182.6 684.1 1172 688.6 1167.8 690.1C1163.5 691.6 1149 696.4 1142.8 697.7C1136.5 698.9 1111 702.2 1105.2 702.7C1099.5 703.2 1088.3 703.2 1085.2 702.7C1082.1 702.2 1073.9 699.9 1073.9 697.7Z" fill="#ff802c"/>
<path d="M1210.3 643.8C1210.3 643.1 1225.9 640.6 1230.4 640.1C1234.9 639.6 1250.4 638.6 1255.4 638.8C1260.4 639.1 1280.4 641.8 1280.4 642.6C1280.4 643.3 1260.4 645.8 1255.4 646.3C1250.4 646.8 1234.9 647.8 1230.4 647.6C1225.9 647.3 1210.3 644.6 1210.3 643.8Z" fill="#ff802c"/>
<path d="M1122.7 680.1C1124 679.1 1138.3 674.4 1142.8 673.9C1147.3 673.3 1164.2 674.1 1167.8 674.6C1171.4 675.1 1179.1 678 1179.1 678.9C1179.1 679.8 1170.9 683.1 1167.8 683.9C1164.7 684.6 1151.5 686.4 1147.8 686.4C1144 686.4 1132.7 684.5 1130.2 683.9C1127.7 683.3 1121.5 681.1 1122.7 680.1Z" fill="#ec4b2e"/>
<path d="M1249 692.6C1250.3 690.1 1264.3 678.6 1271.5 675.1C1278.8 671.6 1313.3 660.9 1321.6 657.6C1329.9 654.4 1350.4 645.3 1354.1 642.6C1357.9 639.8 1356.6 632 1359.2 630.1C1361.7 628.2 1372.2 624.6 1379.2 623.8C1386.2 623 1420 621.7 1429.2 622.1C1438.5 622.4 1464.8 625 1471.8 627.1C1478.8 629.1 1495.6 639 1499.3 642.6C1503.1 646.1 1507.2 659 1509.3 662.6C1511.5 666.2 1521.8 676.4 1520.6 678.9C1519.3 681.4 1503 686.5 1496.8 687.6C1490.7 688.8 1466.8 689.5 1459.3 690.1C1451.8 690.8 1429.2 693.1 1421.7 693.9C1414.2 694.7 1391.7 696.9 1384.2 697.7C1376.7 698.4 1355.4 700.9 1346.6 701.4C1337.9 701.9 1305.3 702.8 1296.6 702.7C1287.8 702.5 1263.8 701.2 1259 700.2C1254.3 699.2 1247.8 695.2 1249 692.6Z" fill="#eafcff"/>
<path d="M1256.5 687.6C1258.3 685.4 1276.8 675.4 1284.1 672.6C1291.3 669.9 1321.6 662.6 1329.1 660.1C1336.6 657.6 1355.4 650.1 1359.2 647.6C1362.9 645.1 1364.2 637 1366.7 635.1C1369.2 633.2 1377.9 629.6 1384.2 628.8C1390.4 628.1 1421.2 627.2 1429.2 627.6C1437.2 627.9 1458.8 631.1 1464.3 632.6C1469.8 634.1 1481.6 639.3 1484.3 642.6C1487.1 645.8 1490.3 661.6 1491.8 665.1C1493.3 668.6 1502.6 675.6 1499.3 677.6C1496.1 679.6 1467 684 1459.3 685.1C1451.5 686.3 1429.2 688.1 1421.7 688.9C1414.2 689.6 1391.7 691.9 1384.2 692.6C1376.7 693.4 1355.4 695.9 1346.6 696.4C1337.9 696.9 1304.6 697.8 1296.6 697.7C1288.6 697.5 1270.5 696.2 1266.5 695.2C1262.5 694.2 1254.8 689.9 1256.5 687.6Z" fill="#c9eefc"/>
<path d="M1266.5 682.6C1268.3 680.8 1289.8 673.4 1296.6 671.4C1303.3 669.4 1327.4 664.5 1334.1 662.6C1340.9 660.7 1360.2 654.9 1364.2 652.6C1368.2 650.3 1371.7 642 1374.2 640.1C1376.7 638.2 1384.2 634.5 1389.2 633.8C1394.2 633.2 1418 633.5 1424.2 633.8C1430.5 634.2 1447.9 636.6 1451.8 637.6C1455.6 638.6 1462.2 641.3 1463 643.8C1463.9 646.3 1461.2 659.2 1460.5 662.6C1459.9 666 1460.7 675.5 1456.8 677.6C1452.9 679.8 1429 682.9 1421.7 683.9C1414.5 684.9 1391.7 686.9 1384.2 687.6C1376.7 688.4 1354.1 690.9 1346.6 691.4C1339.1 691.9 1315.8 692.8 1309.1 692.6C1302.3 692.5 1283.3 691.1 1279.1 690.1C1274.8 689.1 1264.8 684.5 1266.5 682.6Z" fill="#98d9fb"/>
<path d="M1280.3 680.1C1282.3 678.9 1302.5 674.1 1309.1 672.6C1315.7 671.1 1340.1 666.9 1346.6 665.1C1353.1 663.4 1370.4 657.1 1374.2 655.1C1377.9 653.1 1381.9 646.6 1384.2 645.1C1386.4 643.6 1392.9 640.6 1396.7 640.1C1400.5 639.5 1417.2 639.2 1421.7 639.6C1426.2 640 1440.3 642 1441.8 643.8C1443.3 645.6 1438.2 655 1436.7 657.6C1435.2 660.2 1428.5 668.1 1426.7 670.1C1425 672.1 1423.5 676.4 1419.2 677.6C1415 678.9 1391.4 681.8 1384.2 682.6C1376.9 683.5 1354.1 685.9 1346.6 686.4C1339.1 686.9 1314.8 687.8 1309.1 687.6C1303.3 687.5 1291.9 685.9 1289.1 685.1C1286.2 684.4 1278.3 681.4 1280.3 680.1Z" fill="#6bb2e5"/>
<path d="M1330.4 679.4C1330.4 679.1 1343.4 677.9 1346.6 677.9C1349.9 677.9 1362.9 679.1 1362.9 679.4C1362.9 679.7 1349.9 680.9 1346.6 680.9C1343.4 680.9 1330.4 679.7 1330.4 679.4Z" fill="#3d82c4"/>
<path d="M1242.8 785.3C1243 781.3 1249 764.7 1252.8 760.2C1256.5 755.7 1273.8 744 1280.3 740.2C1286.8 736.5 1310 725.7 1317.9 722.7C1325.7 719.7 1350 711.9 1359.2 710.2C1368.3 708.4 1399.2 705.5 1409.2 705.2C1419.2 704.9 1449.3 706.8 1459.3 707.2C1469.3 707.5 1500.3 708.6 1509.3 708.9C1518.3 709.2 1545.4 696 1549.4 710.2C1553.4 724.3 1573.3 836.3 1549.4 850.3C1525.5 864.4 1334.2 851.5 1310.3 850.3C1286.4 849.2 1312.1 841.3 1310.3 839.1C1308.6 836.8 1297.1 830.2 1292.8 827.8C1288.6 825.4 1272 818.1 1267.8 815.3C1263.5 812.5 1252.8 803.3 1250.3 800.3C1247.8 797.3 1242.5 789.3 1242.8 785.3Z" fill="#fffcce"/>
<path d="M1272.8 782.8C1273.8 779.5 1280.4 764.2 1284.1 760.2C1287.7 756.2 1304.1 746 1309.1 742.7C1314.1 739.5 1329.1 730.2 1334.1 727.7C1339.1 725.2 1351.6 719.2 1359.2 717.7C1366.7 716.2 1400.5 712.7 1409.2 712.7C1418 712.7 1439.2 716.7 1446.8 717.7C1454.3 718.7 1479.3 721.4 1484.3 722.7C1489.3 723.9 1494.8 727.7 1496.8 730.2C1498.8 732.7 1504.1 743.7 1504.3 747.7C1504.6 751.7 1500.8 765.5 1499.3 770.2C1497.8 775 1490.8 791.8 1489.3 795.3C1487.8 798.8 1486.1 803 1484.3 805.3C1482.6 807.5 1474.3 815.8 1471.8 817.8C1469.3 819.8 1463 823.6 1459.3 825.3C1455.5 827.1 1439.2 833.8 1434.2 835.3C1429.2 836.8 1414.2 839.8 1409.2 840.3C1404.2 840.8 1389.2 840.8 1384.2 840.3C1379.2 839.8 1364.2 836.3 1359.2 835.3C1354.1 834.3 1339.1 831.8 1334.1 830.3C1329.1 828.8 1314.1 823.1 1309.1 820.3C1304.1 817.6 1287.6 805.5 1284.1 802.8C1280.6 800 1275.2 794.8 1274 792.8C1272.9 790.8 1271.8 786 1272.8 782.8Z" fill="#ffdd78"/>
<path d="M1312.8 785.3C1313.1 782.6 1319 768.7 1321.6 765.2C1324.2 761.7 1335.4 752.7 1339.1 750.2C1342.9 747.7 1354.6 742 1359.2 740.2C1363.7 738.5 1378.7 733.7 1384.2 732.7C1389.7 731.7 1408.7 729.7 1414.2 730.2C1419.7 730.7 1435 736 1439.2 737.7C1443.5 739.5 1454.5 744.5 1456.8 747.7C1459 751 1461.8 766 1461.8 770.2C1461.8 774.5 1458.3 786.5 1456.8 790.3C1455.3 794 1450.3 805.4 1446.8 807.8C1443.3 810.2 1428 812.9 1421.7 814C1415.5 815.2 1390.4 818.9 1384.2 819.1C1377.9 819.2 1364.2 817.2 1359.2 815.3C1354.1 813.4 1338.1 802.7 1334.1 800.3C1330.1 797.9 1321.2 793 1319.1 791.5C1317 790 1312.6 787.9 1312.8 785.3Z" fill="#ffae34"/>
<g fill="#d2683b" fill-opacity="0.92"><circle cx="1176.9" cy="522.9" r="2.55"/><circle cx="1193" cy="522.9" r="2.55"/><circle cx="1209" cy="522.9" r="2.55"/><circle cx="1225.1" cy="522.9" r="2.55"/><circle cx="1241.2" cy="522.9" r="2.55"/><circle cx="1257.2" cy="522.9" r="2.55"/><circle cx="1273.3" cy="522.9" r="2.55"/><circle cx="1265.3" cy="530.9" r="2.55"/><circle cx="1281.3" cy="530.9" r="2.55"/><circle cx="1273.3" cy="538.9" r="2.55"/><circle cx="1329.5" cy="563.1" r="2.55"/><circle cx="1345.6" cy="563.1" r="2.55"/><circle cx="1361.7" cy="563.1" r="2.55"/><circle cx="1305.4" cy="635.4" r="2.55"/><circle cx="1321.5" cy="635.4" r="2.55"/><circle cx="1337.6" cy="635.4" r="2.55"/><circle cx="1353.6" cy="635.4" r="2.55"/><circle cx="1281.3" cy="643.5" r="2.55"/><circle cx="1297.4" cy="643.5" r="2.55"/><circle cx="1313.5" cy="643.5" r="2.55"/><circle cx="1329.5" cy="643.5" r="2.55"/><circle cx="1345.6" cy="643.5" r="2.55"/><circle cx="1361.7" cy="643.5" r="2.55"/><circle cx="1377.7" cy="643.5" r="2.55"/><circle cx="1273.3" cy="651.5" r="2.55"/><circle cx="1289.4" cy="651.5" r="2.55"/><circle cx="1305.4" cy="651.5" r="2.55"/><circle cx="1321.5" cy="651.5" r="2.55"/><circle cx="1337.6" cy="651.5" r="2.55"/><circle cx="1353.6" cy="651.5" r="2.55"/><circle cx="1369.7" cy="651.5" r="2.55"/><circle cx="1265.3" cy="659.5" r="2.55"/><circle cx="1281.3" cy="659.5" r="2.55"/><circle cx="1297.4" cy="659.5" r="2.55"/><circle cx="1313.5" cy="659.5" r="2.55"/><circle cx="1329.5" cy="659.5" r="2.55"/><circle cx="1345.6" cy="659.5" r="2.55"/><circle cx="1225.1" cy="667.6" r="2.55"/><circle cx="1241.2" cy="667.6" r="2.55"/><circle cx="1257.2" cy="667.6" r="2.55"/><circle cx="1273.3" cy="667.6" r="2.55"/><circle cx="1289.4" cy="667.6" r="2.55"/><circle cx="1305.4" cy="667.6" r="2.55"/><circle cx="1321.5" cy="667.6" r="2.55"/><circle cx="1184.9" cy="675.6" r="2.55"/><circle cx="1201" cy="675.6" r="2.55"/><circle cx="1217.1" cy="675.6" r="2.55"/><circle cx="1233.1" cy="675.6" r="2.55"/><circle cx="1249.2" cy="675.6" r="2.55"/><circle cx="1265.3" cy="675.6" r="2.55"/><circle cx="1281.3" cy="675.6" r="2.55"/><circle cx="1297.4" cy="675.6" r="2.55"/><circle cx="1313.5" cy="675.6" r="2.55"/><circle cx="1176.9" cy="683.7" r="2.55"/><circle cx="1193" cy="683.7" r="2.55"/><circle cx="1209" cy="683.7" r="2.55"/><circle cx="1225.1" cy="683.7" r="2.55"/><circle cx="1241.2" cy="683.7" r="2.55"/><circle cx="1257.2" cy="683.7" r="2.55"/><circle cx="1273.3" cy="683.7" r="2.55"/><circle cx="1289.4" cy="683.7" r="2.55"/><circle cx="1305.4" cy="683.7" r="2.55"/><circle cx="1201" cy="691.7" r="2.55"/><circle cx="1217.1" cy="691.7" r="2.55"/><circle cx="1233.1" cy="691.7" r="2.55"/><circle cx="1249.2" cy="691.7" r="2.55"/><circle cx="1530.4" cy="715.8" r="2.55"/><circle cx="1522.3" cy="723.9" r="2.55"/><circle cx="1530.4" cy="731.9" r="2.55"/></g>
<path d="M945.5 545.6C950.1 545.9 968.8 547.9 980.1 548.1C991.3 548.3 1016.8 547.3 1030.1 547.1C1043.5 546.8 1068.5 546.4 1080.2 546.3C1091.9 546.2 1109.4 545.8 1117.7 546.3C1126.1 546.8 1136.1 548.7 1142.8 550.1C1149.4 551.4 1161.1 554.9 1167.8 556.3C1174.5 557.7 1184.5 560 1192.8 560.6C1201.2 561.2 1220.4 561.1 1230.4 560.8C1240.4 560.6 1260.6 559.4 1267.9 558.8C1275.3 558.2 1273.3 556.3 1285.4 556.3C1297.6 556.3 1336.6 558.2 1359.2 558.8C1381.7 559.4 1437.6 560.5 1454.3 560.8C1471 561.2 1473.3 561.3 1484.3 561.3C1495.3 561.3 1529.9 560.9 1536.9 560.8" fill="none" stroke="#4040ff" stroke-width="1.05" stroke-dasharray="11 6" stroke-opacity="0.6"/>
<path d="M945.5 575.8C950.1 576 968.8 577.1 980.1 577.1C991.3 577.1 1016.8 576.1 1030.1 575.8C1043.5 575.6 1066.8 575 1080.2 575.1C1093.5 575.2 1116.9 575.8 1130.2 576.3C1143.6 576.8 1167 578.3 1180.3 578.8C1193.7 579.4 1217 580.4 1230.4 580.6C1243.7 580.8 1269.9 580.7 1280.4 580.6C1290.9 580.5 1295.3 580.1 1309.1 579.6C1322.9 579.1 1364.2 577.6 1384.2 577.1C1404.2 576.6 1442.6 575.8 1459.3 575.8C1476 575.8 1499 576.7 1509.3 577.1C1519.7 577.5 1533.2 578.6 1536.9 578.8" fill="none" stroke="#4040ff" stroke-width="1.05" stroke-dasharray="11 6" stroke-opacity="0.6"/>
<path d="M940 625.2C945.4 624.8 968 623 980.1 622.6C992.1 622.2 1016.8 622.1 1030.1 622.1C1043.5 622.1 1066.8 622.7 1080.2 622.6C1093.5 622.5 1120.2 622.1 1130.2 621.4C1140.3 620.7 1147.3 618.7 1155.3 617.6C1163.3 616.6 1182 613.6 1190.3 613.4C1198.7 613.2 1209.2 615.7 1217.8 616.4C1226.5 617.1 1245.4 618.5 1255.4 618.9C1265.4 619.3 1289.1 619.5 1292.9 619.6C1296.8 619.8 1278.6 620.2 1284.1 620.1C1289.6 620 1320.8 619.4 1334.1 618.9C1347.5 618.4 1375.5 617.6 1384.2 616.4C1392.9 615.2 1392.5 611.5 1399.2 610.1C1405.9 608.8 1424.6 607 1434.2 606.4C1443.9 605.8 1461.8 605.5 1471.8 605.6C1481.8 605.8 1501.7 607 1509.3 607.6C1517 608.2 1525 609 1529.4 610.1C1533.7 611.3 1540.2 615.6 1541.9 616.4" fill="none" stroke="#ff3a3a" stroke-width="1.05" stroke-opacity="0.58"/>
<path d="M940 667.7C948.7 667.8 991.4 668 1005.1 668.2C1018.8 668.4 1032.6 668.4 1042.6 669C1052.6 669.6 1068.5 671.9 1080.2 672.7C1091.9 673.5 1116.9 674.5 1130.2 675.2C1143.6 675.9 1170.3 677.7 1180.3 678.2C1190.3 678.7 1198.7 679.4 1205.3 679C1212 678.6 1222 676.4 1230.4 675.2C1238.7 674 1257.9 671.5 1267.9 670.2C1277.9 668.9 1300 666 1305.5 665.2C1310.9 664.4 1303.6 664.6 1309.1 663.9C1314.6 663.3 1336.6 661.5 1346.6 660.2C1356.6 658.9 1375.8 655.8 1384.2 653.9C1392.5 652.1 1404.9 648.9 1409.2 646.4C1413.6 643.9 1414.1 637.7 1416.7 635.2C1419.4 632.7 1423.6 628.7 1429.2 627.7C1434.9 626.6 1451.9 626.5 1459.3 627.2C1466.6 627.8 1479.3 630.6 1484.3 632.7C1489.3 634.7 1492.5 640.2 1496.8 642.7C1501.2 645.2 1510.8 649.6 1516.8 651.4C1522.9 653.3 1538.5 655.8 1541.9 656.4" fill="none" stroke="#ff3a3a" stroke-width="1.05" stroke-opacity="0.58"/>
<path d="M1240.4 643.9C1240.4 642.8 1259.2 639.8 1267.9 638.9C1276.6 638 1303.3 637.2 1305.5 637.2C1307.6 637.1 1280.2 638.2 1284.1 638.4C1287.9 638.7 1324.3 638.2 1334.1 638.9C1344 639.7 1357.9 642.6 1357.9 643.9C1357.9 645.3 1344 648.2 1334.1 648.9C1324.3 649.7 1287.9 649.6 1284.1 649.7C1280.2 649.8 1307.6 649.9 1305.5 649.7C1303.3 649.4 1276.6 648.4 1267.9 647.7C1259.2 646.9 1240.4 645.1 1240.4 643.9Z" fill="none" stroke="#ff3a3a" stroke-width="1.05" stroke-opacity="0.58"/>
<path d="M954.5 714.9L960.9 722M963.6 724.9L956.2 721.7L960.9 722L961.1 717.2ZM1075.8 713.1L1080.4 722.6M1082.2 726.2L1076 721L1080.4 722.6L1081.9 718.1ZM1099 710L1100.4 725.1M1100.8 729.1L1096.8 722.1L1100.4 725.1L1103.4 721.4ZM1122.3 709.1L1120.4 726.4M1119.9 730.4L1117.5 722.7L1120.4 726.4L1124 723.4ZM1145.5 708L1140.1 727.4M1139.1 731.3L1137.8 723.3L1140.1 727.4L1144.2 725ZM1167.7 711.2L1161.3 724.1M1159.5 727.7L1159.9 719.6L1161.3 724.1L1165.8 722.5ZM1182.5 694.5L1175.1 705.2M1172.8 708.5L1174.3 700.5L1175.1 705.2L1179.7 704.3ZM1203.8 696.7L1196.7 703.5M1193.8 706.3L1196.8 698.8L1196.7 703.5L1201.4 703.6ZM1216.6 724.9L1212 717.9M1209.8 714.5L1216.6 718.9L1212 717.9L1211.1 722.5ZM1233.9 720.4L1231.5 714.3M1230.3 711.2L1235 715.9L1231.5 714.3L1230 717.9ZM944.7 757.7L946.6 752M947.6 749.2L948.2 755.3L946.6 752L943.4 753.7ZM962.7 736.2L968.4 756.6M969.5 760.5L964.3 754.2L968.4 756.6L970.7 752.5ZM997.7 742.2L1002.7 751M1004.7 754.5L998.2 749.7L1002.7 751L1003.9 746.4ZM1019.3 741.3L1024.3 751.8M1026 755.4L1019.8 750.1L1024.3 751.8L1025.8 747.3ZM1040.6 740.8L1045.5 752.6M1047 756.3L1041.1 750.7L1045.5 752.6L1047.2 748.2ZM1062.5 734.9L1066.8 757.5M1067.6 761.4L1062.9 754.8L1066.8 757.5L1069.4 753.5ZM1084 728.9L1087.3 763.8M1087.7 767.8L1083.7 760.7L1087.3 763.8L1090.2 760.1ZM1106.6 725.5L1107.4 767.1M1107.5 771.1L1104.1 763.7L1107.4 767.1L1110.7 763.6ZM1129 731.7L1127.4 761M1127.2 765L1124.3 757.5L1127.4 761L1130.9 757.8ZM1150.9 740.1L1148.9 752.5M1148.2 756.5L1146.2 748.6L1148.9 752.5L1152.7 749.7ZM1186.9 755.9L1183.9 745.2M1182.8 741.3L1188 747.6L1183.9 745.2L1181.6 749.3ZM1207.5 763.8L1204.6 737.6M1204.2 733.7L1208.3 740.7L1204.6 737.6L1201.7 741.4ZM1228.4 763.8L1225.8 737.7M1225.3 733.7L1229.4 740.7L1225.8 737.7L1222.8 741.4ZM944.7 791.8L946.4 797.4M947.2 800.2L943.3 795.7L946.4 797.4L948 794.3ZM964.9 775.1L966.8 798.4M967.1 802.4L963.2 795.3L966.8 798.4L969.8 794.8ZM985.9 778.4L987.8 794.4M988.3 798.4L984.1 791.5L987.8 794.4L990.7 790.7ZM1006.9 773.2L1009.2 799.9M1009.6 803.9L1005.7 796.8L1009.2 799.9L1012.2 796.2ZM1027.8 772L1030.6 801.2M1030.9 805.2L1027 798.1L1030.6 801.2L1033.5 797.5ZM1049.2 772L1051.7 801.2M1052.1 805.2L1048.2 798.1L1051.7 801.2L1054.7 797.5ZM1070.7 762.7L1072.9 810.3M1073.1 814.3L1069.4 807L1072.9 810.3L1076 806.7ZM1092.2 758.3L1093.7 814.8M1093.9 818.8L1090.4 811.5L1093.7 814.8L1096.9 811.4ZM1113.5 765L1114.7 808.5M1114.8 812.5L1111.3 805.1L1114.7 808.5L1117.9 805ZM1134.5 771.1L1135.8 802.1M1136 806.1L1132.4 798.8L1135.8 802.1L1139 798.5ZM1155.5 780.2L1156.6 792.6M1157 796.6L1153 789.5L1156.6 792.6L1159.6 788.9ZM1184.3 799.1L1184.9 783.3M1185 779.3L1188.1 786.8L1184.9 783.3L1181.5 786.5ZM1205.6 807.9L1205.6 770.3M1205.6 766.3L1208.9 773.7L1205.6 770.3L1202.3 773.7ZM1226.6 807.9L1226.6 769.6M1226.6 765.6L1229.9 773L1226.6 769.6L1223.3 773ZM944.7 820.3L946.4 824.8M947.2 827L943.8 823.6L946.4 824.8L947.5 822.2ZM965.8 804.6L966.1 825.4M966.2 829.4L962.8 822.1L966.1 825.4L969.4 822ZM994.1 809.7L994.5 819.9M994.6 823.9L991.1 816.7L994.5 819.9L997.7 816.4ZM1015.1 806.1L1015.8 824.3M1016 828.3L1012.4 821.1L1015.8 824.3L1019 820.8ZM1036 803.9L1037.1 826.2M1037.3 830.1L1033.7 822.9L1037.1 826.2L1040.3 822.6ZM1057 795.7L1058.3 834.5M1058.5 838.5L1054.9 831.3L1058.3 834.5L1061.5 831ZM1078.3 786.6L1079.2 842.2M1079.3 846.2L1075.8 838.8L1079.2 842.2L1082.4 838.7ZM1099.3 788.2L1100.3 842.2M1100.4 846.2L1097 838.9L1100.3 842.2L1103.6 838.7ZM1119.9 798.8L1121.9 832.2M1122.1 836.2L1118.4 829L1121.9 832.2L1125 828.6ZM1140.9 803.9L1142.9 826.7M1143.3 830.7L1139.3 823.6L1142.9 826.7L1145.9 823ZM1182.5 823.4L1185 815M1186.1 811.2L1187.2 819.2L1185 815L1180.9 817.3ZM1204.7 832.5L1206.8 803.7M1207.1 799.7L1209.9 807.3L1206.8 803.7L1203.3 806.8ZM1226.1 839.8L1227.7 800M1227.9 796L1230.9 803.6L1227.7 800L1224.3 803.3ZM966.2 828.9L966.2 845.8M966.2 849.8L962.9 842.4L966.2 845.8L969.5 842.4ZM1015.4 832L1015.6 842.2M1015.6 846.2L1012.2 838.8L1015.6 842.2L1018.8 838.8ZM1036.6 829.8L1036.9 844.9M1037 848.9L1033.5 841.6L1036.9 844.9L1040.1 841.5ZM1120.8 820.7L1122 854.1M1122.1 858L1118.6 850.8L1122 854.1L1125.2 850.5ZM1140.9 827L1142.7 847.7M1143.1 851.7L1139.1 844.6L1142.7 847.7L1145.7 844ZM1181.9 844.4L1185 837.3M1186.5 833.8L1186.6 841.6L1185 837.3L1180.7 839.1ZM1205.6 850.8L1207.4 832.3M1207.8 828.3L1210.4 836L1207.4 832.3L1203.8 835.4ZM1226.6 856.2L1228.5 826.5M1228.8 822.5L1231.6 830.1L1228.5 826.5L1225 829.7ZM1258.1 727.3L1253.7 716.4M1252.1 712.7L1258 718.3L1253.7 716.4L1251.9 720.8ZM1279.1 729.1L1274.8 714.7M1273.7 710.9L1278.9 717L1274.8 714.7L1272.6 718.9ZM1300.1 729.1L1296.2 714.7M1295.2 710.9L1300.3 717.2L1296.2 714.7L1293.9 718.9ZM1320.7 729.1L1317.4 714.8M1316.5 710.9L1321.4 717.3L1317.4 714.8L1315 718.8ZM1341.1 730.9L1338.9 713M1338.4 709.1L1342.6 716L1338.9 713L1336 716.8ZM1361.2 728.6L1360.9 715.6M1360.8 711.6L1364.3 718.9L1360.9 715.6L1357.7 719.1ZM1249.9 766.3L1246.4 734.9M1245.9 730.9L1250 737.9L1246.4 734.9L1243.5 738.7ZM1271.5 762.7L1268.2 738.4M1267.6 734.4L1271.9 741.3L1268.2 738.4L1265.4 742.2ZM1291.9 763.2L1289.5 738M1289.2 734L1293.1 741.1L1289.5 738L1286.6 741.7ZM1312.9 763.8L1310.8 737.1M1310.5 733.1L1314.4 740.2L1310.8 737.1L1307.8 740.8ZM1333.5 765L1332.2 735.8M1332 731.8L1335.6 739.1L1332.2 735.8L1329 739.4ZM1353.9 757.7L1353.6 743.5M1353.5 739.5L1357 746.8L1353.6 743.5L1350.4 747ZM1374.5 755.4L1374.8 745.7M1374.9 741.7L1378 749.2L1374.8 745.7L1371.4 749ZM1247.2 806.1L1248 771.8M1248.1 767.8L1251.2 775.3L1248 771.8L1244.6 775.1ZM1268.7 807.9L1269.1 772.7M1269.1 768.7L1272.3 776.1L1269.1 772.7L1265.7 776.1ZM1290.1 806.1L1290.4 770.3M1290.4 766.3L1293.7 773.7L1290.4 770.3L1287.1 773.7ZM1311.4 807.9L1311.4 770.3M1311.4 766.3L1314.7 773.7L1311.4 770.3L1308.1 773.7ZM1332.4 807.9L1332.5 771.4M1332.6 767.4L1335.8 774.8L1332.5 771.4L1329.2 774.8ZM1347 783.8L1346.7 761.7M1346.6 757.7L1350 765.1L1346.7 761.7L1343.4 765.2ZM1247.6 836.2L1248.9 801.9M1249 797.9L1252 805.4L1248.9 801.9L1245.5 805.1ZM1269.1 838L1270.2 802.4M1270.4 798.4L1273.4 805.9L1270.2 802.4L1266.8 805.7ZM1290.4 841.6L1291.3 795.8M1291.3 791.8L1294.5 799.3L1291.3 795.8L1287.9 799.2ZM1311.4 841.6L1311.9 795.1M1311.9 791.1L1315.2 798.6L1311.9 795.1L1308.6 798.5ZM1332.4 841.6L1332.5 798.8M1332.6 794.8L1335.8 802.2L1332.5 798.8L1329.2 802.2ZM1457.8 823.4L1459.7 815.4M1460.6 811.5L1462.1 819.5L1459.7 815.4L1455.7 818ZM1247.2 855.3L1249.6 827.9M1249.9 823.9L1252.6 831.6L1249.6 827.9L1246 831ZM1269.1 855.3L1270.7 827.4M1270.9 823.4L1273.8 831L1270.7 827.4L1267.2 830.6ZM1290.4 861.7L1291.4 821.4M1291.5 817.4L1294.6 824.9L1291.4 821.4L1288 824.7ZM1311.4 861.7L1311.9 821M1311.9 817L1315.2 824.5L1311.9 821L1308.6 824.4ZM1332.4 858L1332.9 824.7M1332.9 820.7L1336.1 828.1L1332.9 824.7L1329.5 828ZM1353.5 848L1353.8 834.1M1353.9 830.1L1357 837.6L1353.8 834.1L1350.4 837.5ZM1451.5 845.3L1452.7 837.4M1453.3 833.4L1455.4 841.2L1452.7 837.4L1448.9 840.2Z" fill="#fff" fill-opacity="0.55" stroke="#111" stroke-width="1.15" stroke-linejoin="miter"/>
</g>
<g clip-path="url(#oclipd)">
<clipPath id="oc1464p"><rect x="945.4" y="824.6" width="591.8" height="80"/></clipPath>
<clipPath id="oc1464n"><rect x="945.4" y="904.6" width="591.8" height="80"/></clipPath>
<path d="M930 904.6 L930 884.1 L945.5 883.6 L952.5 882 L958.8 880.5 L966.3 882.8 L972.6 888.6 L980.1 891.6 L993.8 890.6 L1002.6 892.3 L1015.1 893.3 L1022.6 890.8 L1030.1 888.3 L1037.6 887.1 L1043.9 886.8 L1050.1 883.6 L1057.7 878.8 L1065.2 875.3 L1072.7 873 L1078.9 868.5 L1085.7 867 L1092.7 867.8 L1100.2 870 L1107.7 873.5 L1115.2 878.5 L1121.5 882 L1129 885.6 L1135.2 890.1 L1142.8 897.6 L1149 904.3 L1156.5 909.6 L1164 913.3 L1171.5 917.1 L1177.8 922.1 L1184.8 929.6 L1191.6 932.1 L1199.1 934.6 L1206.1 940.9 L1212.8 937.6 L1220.4 936.6 L1227.1 938.4 L1234.1 935.1 L1240.4 936.4 L1247.9 939.6 L1255.4 934.1 L1262.4 930.1 L1269.2 934.1 L1277.9 934.9 L1287.9 934.4 L1297.9 933.9 L1310.5 931.1 L1319.2 927.1 L1333 926.4 L1339.1 922.6 L1346.6 917.1 L1354.1 912.1 L1360.4 909.6 L1367.9 909.1 L1374.2 906.6 L1379.2 904.3 L1386.7 900.8 L1395.4 898.1 L1401.7 899.3 L1409.2 901.6 L1416.7 902.1 L1424.2 904.3 L1434.2 904.8 L1446.8 905.6 L1459.3 906.3 L1471.8 905.6 L1484.3 904.6 L1496.8 904.3 L1509.3 904.3 L1516.8 904.6 L1524.4 906.6 L1531.9 908.3 L1536.9 909.6 L1544.4 910.8 L1544.4 904.6 Z" fill="#f39b48" clip-path="url(#oc1464p)"/>
<path d="M930 904.6 L930 884.1 L945.5 883.6 L952.5 882 L958.8 880.5 L966.3 882.8 L972.6 888.6 L980.1 891.6 L993.8 890.6 L1002.6 892.3 L1015.1 893.3 L1022.6 890.8 L1030.1 888.3 L1037.6 887.1 L1043.9 886.8 L1050.1 883.6 L1057.7 878.8 L1065.2 875.3 L1072.7 873 L1078.9 868.5 L1085.7 867 L1092.7 867.8 L1100.2 870 L1107.7 873.5 L1115.2 878.5 L1121.5 882 L1129 885.6 L1135.2 890.1 L1142.8 897.6 L1149 904.3 L1156.5 909.6 L1164 913.3 L1171.5 917.1 L1177.8 922.1 L1184.8 929.6 L1191.6 932.1 L1199.1 934.6 L1206.1 940.9 L1212.8 937.6 L1220.4 936.6 L1227.1 938.4 L1234.1 935.1 L1240.4 936.4 L1247.9 939.6 L1255.4 934.1 L1262.4 930.1 L1269.2 934.1 L1277.9 934.9 L1287.9 934.4 L1297.9 933.9 L1310.5 931.1 L1319.2 927.1 L1333 926.4 L1339.1 922.6 L1346.6 917.1 L1354.1 912.1 L1360.4 909.6 L1367.9 909.1 L1374.2 906.6 L1379.2 904.3 L1386.7 900.8 L1395.4 898.1 L1401.7 899.3 L1409.2 901.6 L1416.7 902.1 L1424.2 904.3 L1434.2 904.8 L1446.8 905.6 L1459.3 906.3 L1471.8 905.6 L1484.3 904.6 L1496.8 904.3 L1509.3 904.3 L1516.8 904.6 L1524.4 906.6 L1531.9 908.3 L1536.9 909.6 L1544.4 910.8 L1544.4 904.6 Z" fill="#1a76d4" clip-path="url(#oc1464n)"/>
<line x1="945.4" y1="904.6" x2="1149.5" y2="904.6" stroke="#c47a30" stroke-width="1"/>
<line x1="1149.5" y1="904.6" x2="1378.5" y2="904.6" stroke="#1a66b8" stroke-width="1"/>
<line x1="1378.5" y1="904.6" x2="1430.7" y2="904.6" stroke="#c47a30" stroke-width="1"/>
<line x1="1430.7" y1="904.6" x2="1483.4" y2="904.6" stroke="#1a66b8" stroke-width="1"/>
<line x1="1483.4" y1="904.6" x2="1517.1" y2="904.6" stroke="#c47a30" stroke-width="1"/>
<line x1="1517.1" y1="904.6" x2="1537.2" y2="904.6" stroke="#1a66b8" stroke-width="1"/>
</g>
<rect x="1285.7" y="519.5" width="251.5" height="40.6" fill="#fff" stroke="#777" stroke-width="0.8"/>
<text transform="translate(1529.2 547.2) scale(1 1.03)" font-size="24.5" text-anchor="end">d) QBOW: 1980-2014</text>
<rect x="1489.3" y="752.2" width="47.6" height="86.9" fill="#fff" stroke="#999" stroke-width="0.8"/>
<text x="1513.2" y="782.6" font-size="31.5" text-anchor="middle">10</text>
<path d="M1497.6 807.9L1525.4 807.9M1529.4 807.9L1522 811.2L1525.4 807.9L1522 804.6Z" fill="#fff" fill-opacity="0.55" stroke="#111" stroke-width="1.15" stroke-linejoin="miter"/>
<rect x="945.4" y="519.5" width="591.8" height="450.2" fill="none" stroke="#404040" stroke-width="1.1"/>
<line x1="933.1" y1="839.1" x2="1549.5" y2="839.1" stroke="#262626" stroke-width="1.25"/>
<line x1="933.1" y1="519.5" x2="945.4" y2="519.5" stroke="#404040" stroke-width="1.1"/>
<line x1="1537.2" y1="519.5" x2="1549.5" y2="519.5" stroke="#404040" stroke-width="1.1"/>
<text transform="translate(910.6 531.2) scale(1 1.05)" font-size="32.7" text-anchor="end">20</text>
<line x1="933.1" y1="610.4" x2="945.4" y2="610.4" stroke="#404040" stroke-width="1.1"/>
<line x1="1537.2" y1="610.4" x2="1549.5" y2="610.4" stroke="#404040" stroke-width="1.1"/>
<text transform="translate(910.6 622.2) scale(1 1.05)" font-size="32.7" text-anchor="end">50</text>
<line x1="933.1" y1="679.2" x2="945.4" y2="679.2" stroke="#404040" stroke-width="1.1"/>
<line x1="1537.2" y1="679.2" x2="1549.5" y2="679.2" stroke="#404040" stroke-width="1.1"/>
<text transform="translate(910.6 691) scale(1 1.05)" font-size="32.7" text-anchor="end">100</text>
<line x1="933.1" y1="748.1" x2="945.4" y2="748.1" stroke="#404040" stroke-width="1.1"/>
<line x1="1537.2" y1="748.1" x2="1549.5" y2="748.1" stroke="#404040" stroke-width="1.1"/>
<text transform="translate(910.6 759.9) scale(1 1.05)" font-size="32.7" text-anchor="end">200</text>
<line x1="933.1" y1="788.3" x2="945.4" y2="788.3" stroke="#404040" stroke-width="1.1"/>
<line x1="1537.2" y1="788.3" x2="1549.5" y2="788.3" stroke="#404040" stroke-width="1.1"/>
<text transform="translate(910.6 800.1) scale(1 1.05)" font-size="32.7" text-anchor="end">300</text>
<line x1="933.1" y1="839.1" x2="945.4" y2="839.1" stroke="#404040" stroke-width="1.1"/>
<line x1="1537.2" y1="839.1" x2="1549.5" y2="839.1" stroke="#404040" stroke-width="1.1"/>
<text transform="translate(910.6 850.9) scale(1 1.05)" font-size="32.7" text-anchor="end">500</text>
<line x1="945.4" y1="516.2" x2="945.4" y2="519.5" stroke="#404040" stroke-width="1.1"/>
<line x1="1029.9" y1="507.2" x2="1029.9" y2="519.5" stroke="#404040" stroke-width="1.1"/>
<line x1="1029.9" y1="969.7" x2="1029.9" y2="982" stroke="#404040" stroke-width="1.1"/>
<line x1="1114.4" y1="516.2" x2="1114.4" y2="519.5" stroke="#404040" stroke-width="1.1"/>
<line x1="1199" y1="507.2" x2="1199" y2="519.5" stroke="#404040" stroke-width="1.1"/>
<line x1="1199" y1="969.7" x2="1199" y2="982" stroke="#404040" stroke-width="1.1"/>
<line x1="1283.5" y1="516.2" x2="1283.5" y2="519.5" stroke="#404040" stroke-width="1.1"/>
<line x1="1368.1" y1="507.2" x2="1368.1" y2="519.5" stroke="#404040" stroke-width="1.1"/>
<line x1="1368.1" y1="969.7" x2="1368.1" y2="982" stroke="#404040" stroke-width="1.1"/>
<line x1="1452.6" y1="516.2" x2="1452.6" y2="519.5" stroke="#404040" stroke-width="1.1"/>
<line x1="1537.2" y1="507.2" x2="1537.2" y2="519.5" stroke="#404040" stroke-width="1.1"/>
<line x1="1537.2" y1="969.7" x2="1537.2" y2="982" stroke="#404040" stroke-width="1.1"/>
<line x1="933.1" y1="868.2" x2="945.4" y2="868.2" stroke="#404040" stroke-width="1.1"/>
<line x1="1537.2" y1="868.2" x2="1549.5" y2="868.2" stroke="#404040" stroke-width="1.1"/>
<text transform="translate(1571.9 880.1) scale(1 1.05)" font-size="32.7" text-anchor="start">5</text>
<line x1="933.1" y1="904.4" x2="945.4" y2="904.4" stroke="#404040" stroke-width="1.1"/>
<line x1="1537.2" y1="904.4" x2="1549.5" y2="904.4" stroke="#404040" stroke-width="1.1"/>
<text transform="translate(1571.9 916.3) scale(1 1.05)" font-size="32.7" text-anchor="start">0</text>
<line x1="933.1" y1="940.7" x2="945.4" y2="940.7" stroke="#404040" stroke-width="1.1"/>
<line x1="1537.2" y1="940.7" x2="1549.5" y2="940.7" stroke="#404040" stroke-width="1.1"/>
<text transform="translate(1571.9 952.6) scale(1 1.05)" font-size="32.7" text-anchor="start">-5</text>
<text transform="translate(236.4 1029.6) scale(1 1.05)" font-size="32.5" text-anchor="middle">60E</text>
<text transform="translate(405.6 1029.6) scale(1 1.05)" font-size="32.5" text-anchor="middle">120E</text>
<text transform="translate(574.8 1029.6) scale(1 1.05)" font-size="32.5" text-anchor="middle">180</text>
<text transform="translate(744 1029.6) scale(1 1.05)" font-size="32.5" text-anchor="middle">120W</text>
<text transform="translate(1029.9 1029.6) scale(1 1.05)" font-size="32.5" text-anchor="middle">60E</text>
<text transform="translate(1199 1029.6) scale(1 1.05)" font-size="32.5" text-anchor="middle">120E</text>
<text transform="translate(1368.1 1029.6) scale(1 1.05)" font-size="32.5" text-anchor="middle">180</text>
<text transform="translate(1537.2 1029.6) scale(1 1.05)" font-size="32.5" text-anchor="middle">120W</text>
<text transform="translate(413 30.6) scale(1 1.05)" font-size="34.5" text-anchor="middle">QBOE</text>
<text transform="translate(1231.5 30.6) scale(1 1.05)" font-size="34.5" text-anchor="middle">QBOW</text>
<text transform="translate(29.1 577.7) rotate(-90) scale(1 1.065)" font-size="33.7" text-anchor="start">Pressure (hPa)</text>
<text transform="translate(1612.3 404.7) rotate(90) scale(1 1.065)" font-size="34" text-anchor="start">OLR (W m<tspan font-size="22" dy="-12.5">-2</tspan><tspan dy="12.5">)</tspan></text>
<path d="M298.7 1062.2 L231.8 1080.7 L298.7 1099.2Z" fill="#1b2c62" stroke="#1b2c62" stroke-width="0.6"/>
<path d="M1233.1 1062.2 L1299.6 1080.7 L1233.1 1099.2Z" fill="#95161b" stroke="#95161b" stroke-width="0.6"/>
<rect x="298.7" y="1062.2" width="67" height="37" fill="#24549e"/>
<rect x="365.4" y="1062.2" width="67" height="37" fill="#3d82c4"/>
<rect x="432.2" y="1062.2" width="67" height="37" fill="#6bb2e5"/>
<rect x="498.9" y="1062.2" width="67" height="37" fill="#98d9fb"/>
<rect x="565.7" y="1062.2" width="67" height="37" fill="#c9eefc"/>
<rect x="632.4" y="1062.2" width="67" height="37" fill="#eafcff"/>
<rect x="699.1" y="1062.2" width="67" height="37" fill="#ffffff"/>
<rect x="765.9" y="1062.2" width="67" height="37" fill="#ffffff"/>
<rect x="832.6" y="1062.2" width="67" height="37" fill="#fffcce"/>
<rect x="899.4" y="1062.2" width="67" height="37" fill="#ffdd78"/>
<rect x="966.1" y="1062.2" width="67" height="37" fill="#ffae34"/>
<rect x="1032.8" y="1062.2" width="67" height="37" fill="#ff802c"/>
<rect x="1099.6" y="1062.2" width="67" height="37" fill="#ec4b2e"/>
<rect x="1166.3" y="1062.2" width="67" height="37" fill="#cb1f27"/>
<rect x="298.7" y="1062.2" width="934.4" height="37" fill="none" stroke="#333" stroke-opacity="0.45" stroke-width="0.7"/>
<line x1="298.7" y1="1062.2" x2="298.7" y2="1099.2" stroke="#1a1a1a" stroke-opacity="0.8" stroke-width="0.8"/>
<line x1="365.4" y1="1062.2" x2="365.4" y2="1099.2" stroke="#1a1a1a" stroke-opacity="0.8" stroke-width="0.8"/>
<line x1="432.2" y1="1062.2" x2="432.2" y2="1099.2" stroke="#1a1a1a" stroke-opacity="0.8" stroke-width="0.8"/>
<line x1="498.9" y1="1062.2" x2="498.9" y2="1099.2" stroke="#1a1a1a" stroke-opacity="0.8" stroke-width="0.8"/>
<line x1="565.7" y1="1062.2" x2="565.7" y2="1099.2" stroke="#1a1a1a" stroke-opacity="0.8" stroke-width="0.8"/>
<line x1="632.4" y1="1062.2" x2="632.4" y2="1099.2" stroke="#1a1a1a" stroke-opacity="0.8" stroke-width="0.8"/>
<line x1="699.1" y1="1062.2" x2="699.1" y2="1099.2" stroke="#1a1a1a" stroke-opacity="0.8" stroke-width="0.8"/>
<line x1="765.9" y1="1062.2" x2="765.9" y2="1099.2" stroke="#1a1a1a" stroke-opacity="0.8" stroke-width="0.8"/>
<line x1="832.6" y1="1062.2" x2="832.6" y2="1099.2" stroke="#1a1a1a" stroke-opacity="0.8" stroke-width="0.8"/>
<line x1="899.4" y1="1062.2" x2="899.4" y2="1099.2" stroke="#1a1a1a" stroke-opacity="0.8" stroke-width="0.8"/>
<line x1="966.1" y1="1062.2" x2="966.1" y2="1099.2" stroke="#1a1a1a" stroke-opacity="0.8" stroke-width="0.8"/>
<line x1="1032.8" y1="1062.2" x2="1032.8" y2="1099.2" stroke="#1a1a1a" stroke-opacity="0.8" stroke-width="0.8"/>
<line x1="1099.6" y1="1062.2" x2="1099.6" y2="1099.2" stroke="#1a1a1a" stroke-opacity="0.8" stroke-width="0.8"/>
<line x1="1166.3" y1="1062.2" x2="1166.3" y2="1099.2" stroke="#1a1a1a" stroke-opacity="0.8" stroke-width="0.8"/>
<line x1="1233.1" y1="1062.2" x2="1233.1" y2="1099.2" stroke="#1a1a1a" stroke-opacity="0.8" stroke-width="0.8"/>
<text transform="translate(298.7 1132.1) scale(1 1.03)" font-size="29.2" text-anchor="middle">-1.0</text>
<text transform="translate(365.4 1132.1) scale(1 1.03)" font-size="29.2" text-anchor="middle">-0.8</text>
<text transform="translate(432.2 1132.1) scale(1 1.03)" font-size="29.2" text-anchor="middle">-0.6</text>
<text transform="translate(498.9 1132.1) scale(1 1.03)" font-size="29.2" text-anchor="middle">-0.4</text>
<text transform="translate(565.7 1132.1) scale(1 1.03)" font-size="29.2" text-anchor="middle">-0.3</text>
<text transform="translate(632.4 1132.1) scale(1 1.03)" font-size="29.2" text-anchor="middle">-0.2</text>
<text transform="translate(699.1 1132.1) scale(1 1.03)" font-size="29.2" text-anchor="middle">-0.1</text>
<text transform="translate(765.9 1132.1) scale(1 1.03)" font-size="29.2" text-anchor="middle">0.0</text>
<text transform="translate(832.6 1132.1) scale(1 1.03)" font-size="29.2" text-anchor="middle">0.1</text>
<text transform="translate(899.4 1132.1) scale(1 1.03)" font-size="29.2" text-anchor="middle">0.2</text>
<text transform="translate(966.1 1132.1) scale(1 1.03)" font-size="29.2" text-anchor="middle">0.3</text>
<text transform="translate(1032.8 1132.1) scale(1 1.03)" font-size="29.2" text-anchor="middle">0.4</text>
<text transform="translate(1099.6 1132.1) scale(1 1.03)" font-size="29.2" text-anchor="middle">0.6</text>
<text transform="translate(1166.3 1132.1) scale(1 1.03)" font-size="29.2" text-anchor="middle">0.8</text>
<text transform="translate(1233.1 1132.1) scale(1 1.03)" font-size="29.2" text-anchor="middle">1.0</text>
<text transform="translate(1373.3 1110.2) scale(1 1.03)" font-size="34.2" text-anchor="middle">K</text>
</svg>
</body></html>
